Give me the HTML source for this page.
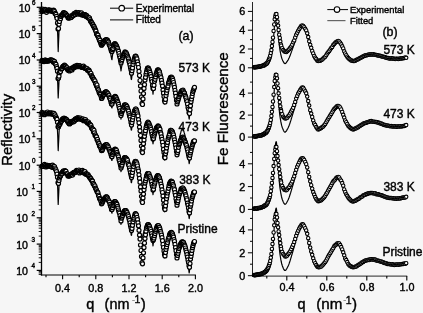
<!DOCTYPE html>
<html><head><meta charset="utf-8"><title>Reflectivity and Fe Fluorescence</title>
<style>html,body{margin:0;padding:0;background:#f6f6f6;}body{width:423px;height:313px;overflow:hidden;font-family:"Liberation Sans",sans-serif;}svg{display:block;}</style>
</head><body>
<svg width="423" height="313" viewBox="0 0 423 313">
<rect width="423" height="313" fill="#f6f6f6"/>
<style>text{stroke:#000;stroke-width:0.4px}</style>
<defs><filter id="bl" x="0" y="0" width="100%" height="100%" filterUnits="userSpaceOnUse"><feGaussianBlur stdDeviation="0.3"/></filter></defs>
<g id="all" filter="url(#bl)">
<polyline points="41.5,10.5 41.8,10.5 42.0,10.5 42.2,10.5 42.5,10.5 42.8,10.5 43.0,10.5 43.2,10.5 43.5,10.5 43.8,10.5 44.0,10.5 44.2,10.5 44.5,10.5 44.8,10.5 45.0,10.5 45.2,10.5 45.5,10.5 45.8,10.5 46.0,10.5 46.2,10.5 46.5,10.5 46.8,10.5 47.0,10.5 47.2,10.5 47.5,10.5 47.8,10.5 48.0,10.5 48.2,10.5 48.5,10.5 48.8,10.5 49.0,10.5 49.2,10.5 49.5,10.5 49.8,10.5 50.0,10.5 50.2,10.5 50.5,10.5 50.8,10.5 51.0,10.5 51.2,10.5 51.5,10.5 51.8,10.5 52.0,10.5 52.2,10.5 52.5,10.5 52.8,10.5 53.0,10.5 53.2,10.5 53.5,10.5 53.8,10.5 54.0,10.5 54.2,10.6 54.5,10.8 54.8,11.2 55.0,11.7 55.2,12.2 55.5,12.9 55.8,13.5 56.0,14.2 56.2,14.9 56.5,15.5 56.8,16.4 57.0,19.3 57.2,23.9 57.5,29.9 57.8,37.2 58.0,45.7 58.2,51.6 58.5,43.6 58.8,36.6 59.0,30.6 59.2,25.9 59.5,22.4 59.8,20.6 60.0,19.9 60.2,19.2 60.5,18.5 60.8,17.9 61.0,17.3 61.2,16.7 61.5,16.2 61.8,15.7 62.0,15.3 62.2,14.8 62.5,14.5 62.8,14.1 63.0,13.9 63.2,13.6 63.5,13.4 63.8,13.2 64.0,13.1 64.2,13.0 64.5,12.9 64.8,12.9 65.0,12.9 65.2,13.0 65.5,13.3 65.8,13.6 66.0,14.0 66.2,14.4 66.5,14.8 66.8,15.3 67.0,15.7 67.2,16.2 67.5,16.6 67.8,17.0 68.0,17.4 68.2,17.6 68.5,17.8 68.8,17.9 69.0,17.9 69.2,17.8 69.5,17.8 69.8,17.7 70.0,17.6 70.2,17.5 70.5,17.4 70.8,17.3 71.0,17.1 71.2,17.0 71.5,16.8 71.8,16.6 72.0,16.4 72.2,16.2 72.5,16.0 72.8,15.8 73.0,15.6 73.2,15.4 73.5,15.2 73.8,15.0 74.0,14.8 74.2,14.6 74.5,14.4 74.8,14.3 75.0,14.1 75.2,13.9 75.5,13.8 75.8,13.6 76.0,13.5 76.2,13.4 76.5,13.3 76.8,13.2 77.0,13.2 77.2,13.1 77.5,13.1 77.8,13.1 78.0,13.1 78.2,13.2 78.5,13.2 78.8,13.2 79.0,13.3 79.2,13.3 79.5,13.3 79.8,13.4 80.0,13.4 80.2,13.5 80.5,13.6 80.8,13.6 81.0,13.7 81.2,13.8 81.5,13.8 81.8,13.9 82.0,14.0 82.2,14.1 82.5,14.2 82.8,14.3 83.0,14.4 83.2,14.4 83.5,14.5 83.8,14.6 84.0,14.7 84.2,14.8 84.5,14.9 84.8,15.1 85.0,15.2 85.2,15.3 85.5,15.5 85.8,15.7 86.0,15.8 86.2,16.0 86.5,16.2 86.8,16.4 87.0,16.6 87.2,16.7 87.5,16.9 87.8,17.2 88.0,17.4 88.2,17.6 88.5,17.8 88.8,18.1 89.0,18.3 89.2,18.6 89.5,18.9 89.8,19.2 90.0,19.6 90.2,20.0 90.5,20.4 90.8,20.8 91.0,21.3 91.2,21.8 91.5,22.2 91.8,22.7 92.0,23.1 92.2,23.6 92.5,24.0 92.8,24.5 93.0,24.9 93.2,25.4 93.5,25.9 93.8,26.3 94.0,26.8 94.2,27.3 94.5,27.8 94.8,28.3 95.0,28.8 95.2,29.4 95.5,29.9 95.8,30.5 96.0,31.1 96.2,31.7 96.5,32.3 96.8,32.9 97.0,33.5 97.2,34.2 97.5,34.8 97.8,35.5 98.0,36.2 98.2,36.9 98.5,37.6 98.8,38.3 99.0,39.0 99.2,39.8 99.5,40.3 99.8,40.5 100.0,40.9 100.2,41.5 100.5,42.2 100.8,43.1 101.0,44.1 101.2,45.1 101.5,46.3 101.8,46.4 102.0,45.8 102.2,45.2 102.5,44.7 102.8,44.2 103.0,43.7 103.2,43.2 103.5,42.7 103.8,42.3 104.0,41.9 104.2,41.6 104.5,41.2 104.8,40.9 105.0,40.7 105.2,40.4 105.5,40.2 105.8,40.1 106.0,40.0 106.2,40.0 106.5,40.1 106.8,40.3 107.0,40.7 107.2,41.1 107.5,41.6 107.8,42.2 108.0,42.9 108.2,43.6 108.5,44.3 108.8,45.2 109.0,46.1 109.2,47.0 109.5,48.1 109.8,49.1 110.0,50.3 110.2,51.4 110.5,52.7 110.8,53.9 111.0,55.3 111.2,56.7 111.5,58.1 111.8,59.6 112.0,59.6 112.2,57.4 112.5,55.3 112.8,53.4 113.0,51.7 113.2,50.1 113.5,48.6 113.8,47.4 114.0,46.3 114.2,45.4 114.5,44.7 114.8,44.3 115.0,44.2 115.2,44.4 115.5,44.7 115.8,45.1 116.0,45.6 116.2,46.2 116.5,46.9 116.8,47.7 117.0,48.5 117.2,49.5 117.5,50.5 117.8,51.5 118.0,52.7 118.2,53.9 118.5,55.1 118.8,56.4 119.0,57.8 119.2,59.3 119.5,60.8 119.8,62.3 120.0,64.0 120.2,65.6 120.5,67.4 120.8,69.2 121.0,71.0 121.2,69.2 121.5,67.6 121.8,65.9 122.0,64.4 122.2,63.0 122.5,61.6 122.8,60.3 123.0,59.1 123.2,58.0 123.5,57.0 123.8,56.1 124.0,55.2 124.2,54.5 124.5,53.9 124.8,53.4 125.0,53.0 125.2,52.9 125.5,52.9 125.8,53.2 126.0,53.5 126.2,54.0 126.5,54.6 126.8,55.3 127.0,56.0 127.2,56.8 127.5,57.7 127.8,58.7 128.0,59.8 128.2,60.9 128.5,62.1 128.8,63.3 129.0,64.7 129.2,66.0 129.5,67.5 129.8,69.0 130.0,70.6 130.2,72.2 130.5,73.9 130.8,75.7 131.0,77.5 131.2,79.3 131.5,79.5 131.8,77.2 132.0,75.0 132.2,72.9 132.5,70.9 132.8,69.0 133.0,67.2 133.2,65.6 133.5,64.0 133.8,62.6 134.0,61.3 134.2,60.1 134.5,59.0 134.8,58.1 135.0,57.4 135.2,56.8 135.5,56.4 135.8,56.3 136.0,56.5 136.2,56.9 136.5,57.5 136.8,58.3 137.0,59.1 137.2,60.1 137.5,61.2 137.8,62.5 138.0,63.8 138.2,65.2 138.5,66.8 138.8,68.4 139.0,70.2 139.2,72.0 139.5,73.9 139.8,76.0 140.0,78.1 140.2,80.3 140.5,82.6 140.8,84.9 141.0,87.4 141.2,89.9 141.5,92.5 141.8,92.6 142.0,90.9 142.2,89.2 142.5,87.6 142.8,86.0 143.0,84.5 143.2,83.1 143.5,81.7 143.8,80.3 144.0,79.1 144.2,77.8 144.5,76.7 144.8,75.6 145.0,74.5 145.2,73.5 145.5,72.6 145.8,71.8 146.0,71.0 146.2,70.3 146.5,69.7 146.8,69.1 147.0,68.6 147.2,68.3 147.5,68.0 147.8,67.8 148.0,67.9 148.2,68.3 148.5,68.7 148.8,69.3 149.0,70.0 149.2,70.8 149.5,71.8 149.8,72.8 150.0,73.9 150.2,75.2 150.5,76.5 150.8,77.9 151.0,79.4 151.2,80.9 151.5,82.6 151.8,84.3 152.0,86.1 152.2,88.0 152.5,90.0 152.8,92.0 153.0,94.1 153.2,92.1 153.5,90.2 153.8,88.3 154.0,86.5 154.2,84.8 154.5,83.1 154.8,81.6 155.0,80.1 155.2,78.7 155.5,77.4 155.8,76.2 156.0,75.0 156.2,74.0 156.5,73.1 156.8,72.2 157.0,71.5 157.2,70.9 157.5,70.4 157.8,70.1 158.0,69.9 158.2,70.1 158.5,70.4 158.8,70.8 159.0,71.3 159.2,71.9 159.5,72.6 159.8,73.4 160.0,74.3 160.2,75.2 160.5,76.3 160.8,77.4 161.0,78.6 161.2,79.8 161.5,81.2 161.8,82.6 162.0,84.0 162.2,85.6 162.5,87.2 162.8,88.8 163.0,90.5 163.2,92.3 163.5,94.1 163.8,96.0 164.0,98.0 164.2,100.0 164.5,102.1 164.8,104.2 165.0,103.2 165.2,101.5 165.5,99.8 165.8,98.2 166.0,96.6 166.2,95.0 166.5,93.5 166.8,92.1 167.0,90.7 167.2,89.4 167.5,88.1 167.8,86.9 168.0,85.8 168.2,84.7 168.5,83.6 168.8,82.7 169.0,81.8 169.2,80.9 169.5,80.2 169.8,79.5 170.0,78.8 170.2,78.3 170.5,77.8 170.8,77.5 171.0,77.2 171.2,77.1 171.5,77.1 171.8,77.4 172.0,77.8 172.2,78.4 172.5,79.0 172.8,79.8 173.0,80.6 173.2,81.6 173.5,82.6 173.8,83.7 174.0,84.9 174.2,86.2 174.5,87.6 174.8,89.0 175.0,90.5 175.2,92.1 175.5,93.8 175.8,95.5 176.0,97.3 176.2,99.2 176.5,101.1 176.8,103.1 177.0,105.2 177.2,104.0 177.5,102.9 177.8,101.9 178.0,100.9 178.2,99.9 178.5,98.9 178.8,98.0 179.0,97.2 179.2,96.3 179.5,95.6 179.8,94.8 180.0,94.2 180.2,93.5 180.5,93.0 180.8,92.4 181.0,91.9 181.2,91.5 181.5,91.2 181.8,90.9 182.0,90.6 182.2,90.5 182.5,90.5 182.8,90.6 183.0,90.9 183.2,91.3 183.5,91.8 183.8,92.3 184.0,93.0 184.2,93.7 184.5,94.4 184.8,95.3 185.0,96.2 185.2,97.1 185.5,98.1 185.8,99.2 186.0,100.4 186.2,101.6 186.5,102.8 186.8,104.1 187.0,105.5 187.2,106.9 187.5,108.4 187.8,109.9 188.0,111.4 188.2,113.1 188.5,114.7 188.8,116.4 189.0,118.2 189.2,119.2 189.5,116.8 189.8,114.5 190.0,112.3 190.2,110.1 190.5,108.0 190.8,106.1 191.0,104.2 191.2,102.3 191.5,100.6 191.8,99.0 192.0,97.4 192.2,96.0 192.5,94.6 192.8,93.4 193.0,92.2 193.2,91.2 193.5,90.2 193.8,89.4 194.0,88.7 194.2,88.2 194.5,87.8 194.8,87.6" fill="none" stroke="#000" stroke-width="1.20" stroke-linejoin="round"/>
<g fill="#ffffff" stroke="#000" stroke-width="1.20"><circle cx="42.0" cy="11.6" r="2.00"/><circle cx="42.5" cy="9.1" r="2.00"/><circle cx="43.0" cy="10.7" r="2.00"/><circle cx="43.5" cy="10.2" r="2.00"/><circle cx="44.0" cy="10.3" r="2.00"/><circle cx="44.5" cy="10.4" r="2.00"/><circle cx="45.0" cy="9.4" r="2.00"/><circle cx="45.5" cy="10.4" r="2.00"/><circle cx="46.0" cy="10.0" r="2.00"/><circle cx="46.5" cy="12.3" r="2.00"/><circle cx="47.0" cy="10.6" r="2.00"/><circle cx="47.5" cy="10.3" r="2.00"/><circle cx="48.0" cy="10.4" r="2.00"/><circle cx="48.5" cy="10.1" r="2.00"/><circle cx="49.0" cy="9.9" r="2.00"/><circle cx="49.5" cy="10.3" r="2.00"/><circle cx="50.0" cy="10.8" r="2.00"/><circle cx="50.5" cy="10.4" r="2.00"/><circle cx="51.0" cy="11.0" r="2.00"/><circle cx="51.5" cy="10.4" r="2.00"/><circle cx="52.0" cy="10.5" r="2.00"/><circle cx="52.5" cy="11.4" r="2.00"/><circle cx="53.0" cy="10.8" r="2.00"/><circle cx="53.5" cy="10.2" r="2.00"/><circle cx="54.0" cy="10.7" r="2.00"/><circle cx="54.5" cy="11.7" r="2.00"/><circle cx="55.0" cy="13.5" r="2.00"/><circle cx="55.5" cy="13.3" r="2.00"/><circle cx="56.0" cy="14.3" r="2.00"/><circle cx="56.5" cy="16.3" r="2.00"/><circle cx="57.0" cy="18.3" r="2.00"/><circle cx="57.5" cy="22.9" r="2.00"/><circle cx="58.0" cy="29.0" r="2.00"/><circle cx="58.5" cy="28.6" r="2.00"/><circle cx="59.0" cy="24.3" r="2.00"/><circle cx="59.5" cy="21.5" r="2.00"/><circle cx="60.0" cy="17.5" r="2.00"/><circle cx="60.5" cy="18.7" r="2.00"/><circle cx="61.0" cy="16.4" r="2.00"/><circle cx="61.5" cy="15.0" r="2.00"/><circle cx="62.0" cy="15.2" r="2.00"/><circle cx="62.5" cy="14.7" r="2.00"/><circle cx="63.0" cy="13.5" r="2.00"/><circle cx="63.5" cy="12.7" r="2.00"/><circle cx="64.0" cy="13.1" r="2.00"/><circle cx="64.5" cy="12.9" r="2.00"/><circle cx="65.0" cy="13.7" r="2.00"/><circle cx="65.5" cy="13.7" r="2.00"/><circle cx="66.0" cy="14.1" r="2.00"/><circle cx="66.5" cy="15.4" r="2.00"/><circle cx="67.0" cy="15.6" r="2.00"/><circle cx="67.5" cy="16.1" r="2.00"/><circle cx="68.0" cy="17.7" r="2.00"/><circle cx="68.5" cy="18.1" r="2.00"/><circle cx="69.0" cy="17.7" r="2.00"/><circle cx="69.5" cy="17.4" r="2.00"/><circle cx="70.0" cy="17.8" r="2.00"/><circle cx="70.5" cy="16.0" r="2.00"/><circle cx="71.0" cy="17.5" r="2.00"/><circle cx="71.5" cy="17.1" r="2.00"/><circle cx="72.0" cy="15.5" r="2.00"/><circle cx="72.5" cy="16.1" r="2.00"/><circle cx="73.0" cy="15.1" r="2.00"/><circle cx="73.5" cy="15.6" r="2.00"/><circle cx="74.0" cy="13.7" r="2.00"/><circle cx="74.5" cy="13.9" r="2.00"/><circle cx="75.0" cy="14.5" r="2.00"/><circle cx="75.5" cy="14.4" r="2.00"/><circle cx="76.0" cy="12.3" r="2.00"/><circle cx="76.5" cy="13.0" r="2.00"/><circle cx="77.0" cy="13.4" r="2.00"/><circle cx="77.5" cy="12.8" r="2.00"/><circle cx="78.0" cy="14.0" r="2.00"/><circle cx="78.5" cy="12.5" r="2.00"/><circle cx="79.0" cy="13.4" r="2.00"/><circle cx="79.5" cy="12.8" r="2.00"/><circle cx="80.0" cy="14.2" r="2.00"/><circle cx="80.5" cy="13.5" r="2.00"/><circle cx="81.0" cy="13.5" r="2.00"/><circle cx="81.5" cy="12.9" r="2.00"/><circle cx="82.0" cy="14.9" r="2.00"/><circle cx="82.5" cy="14.6" r="2.00"/><circle cx="83.0" cy="14.8" r="2.00"/><circle cx="83.5" cy="15.2" r="2.00"/><circle cx="84.0" cy="14.9" r="2.00"/><circle cx="84.5" cy="14.6" r="2.00"/><circle cx="85.0" cy="14.7" r="2.00"/><circle cx="85.5" cy="15.1" r="2.00"/><circle cx="86.0" cy="16.6" r="2.00"/><circle cx="86.5" cy="15.4" r="2.00"/><circle cx="87.0" cy="16.2" r="2.00"/><circle cx="87.5" cy="16.8" r="2.00"/><circle cx="88.0" cy="17.5" r="2.00"/><circle cx="88.5" cy="18.1" r="2.00"/><circle cx="89.0" cy="17.7" r="2.00"/><circle cx="89.5" cy="18.0" r="2.00"/><circle cx="90.0" cy="19.6" r="2.00"/><circle cx="90.5" cy="21.1" r="2.00"/><circle cx="91.0" cy="21.7" r="2.00"/><circle cx="91.5" cy="22.3" r="2.00"/><circle cx="92.0" cy="23.0" r="2.00"/><circle cx="92.5" cy="24.2" r="2.00"/><circle cx="93.0" cy="24.8" r="2.00"/><circle cx="93.5" cy="26.3" r="2.00"/><circle cx="94.0" cy="26.4" r="2.00"/><circle cx="94.5" cy="27.9" r="2.00"/><circle cx="95.0" cy="28.8" r="2.00"/><circle cx="95.5" cy="30.2" r="2.00"/><circle cx="96.0" cy="31.2" r="2.00"/><circle cx="96.5" cy="33.7" r="2.00"/><circle cx="97.0" cy="34.4" r="2.00"/><circle cx="97.5" cy="35.7" r="2.00"/><circle cx="98.0" cy="35.1" r="2.00"/><circle cx="98.5" cy="37.4" r="2.00"/><circle cx="99.0" cy="38.7" r="2.00"/><circle cx="99.5" cy="40.5" r="2.00"/><circle cx="100.0" cy="40.2" r="2.00"/><circle cx="100.5" cy="42.4" r="2.00"/><circle cx="101.0" cy="43.9" r="2.00"/><circle cx="101.5" cy="45.2" r="2.00"/><circle cx="102.0" cy="44.8" r="2.00"/><circle cx="102.5" cy="43.7" r="2.00"/><circle cx="103.0" cy="43.0" r="2.00"/><circle cx="103.5" cy="42.3" r="2.00"/><circle cx="104.0" cy="41.9" r="2.00"/><circle cx="104.5" cy="40.6" r="2.00"/><circle cx="105.0" cy="40.3" r="2.00"/><circle cx="105.5" cy="39.8" r="2.00"/><circle cx="106.0" cy="40.0" r="2.00"/><circle cx="106.5" cy="39.7" r="2.00"/><circle cx="107.0" cy="40.3" r="2.00"/><circle cx="107.5" cy="40.2" r="2.00"/><circle cx="108.0" cy="41.3" r="2.00"/><circle cx="108.5" cy="42.1" r="2.00"/><circle cx="109.0" cy="43.9" r="2.00"/><circle cx="109.5" cy="45.0" r="2.00"/><circle cx="110.0" cy="46.1" r="2.00"/><circle cx="110.5" cy="47.7" r="2.00"/><circle cx="111.0" cy="49.7" r="2.00"/><circle cx="111.5" cy="51.2" r="2.00"/><circle cx="112.0" cy="51.4" r="2.00"/><circle cx="112.5" cy="49.7" r="2.00"/><circle cx="113.0" cy="48.4" r="2.00"/><circle cx="113.5" cy="46.1" r="2.00"/><circle cx="114.0" cy="44.8" r="2.00"/><circle cx="114.5" cy="43.8" r="2.00"/><circle cx="115.0" cy="43.5" r="2.00"/><circle cx="115.5" cy="44.4" r="2.00"/><circle cx="116.0" cy="45.2" r="2.00"/><circle cx="116.5" cy="45.9" r="2.00"/><circle cx="117.0" cy="47.1" r="2.00"/><circle cx="117.5" cy="48.4" r="2.00"/><circle cx="118.0" cy="50.0" r="2.00"/><circle cx="118.5" cy="51.3" r="2.00"/><circle cx="119.0" cy="53.5" r="2.00"/><circle cx="119.5" cy="55.8" r="2.00"/><circle cx="120.0" cy="57.8" r="2.00"/><circle cx="120.5" cy="60.4" r="2.00"/><circle cx="121.0" cy="62.9" r="2.00"/><circle cx="121.5" cy="61.0" r="2.00"/><circle cx="122.0" cy="59.5" r="2.00"/><circle cx="122.5" cy="57.4" r="2.00"/><circle cx="123.0" cy="56.0" r="2.00"/><circle cx="123.5" cy="55.0" r="2.00"/><circle cx="124.0" cy="53.9" r="2.00"/><circle cx="124.5" cy="53.4" r="2.00"/><circle cx="125.0" cy="51.8" r="2.00"/><circle cx="125.5" cy="52.6" r="2.00"/><circle cx="126.0" cy="52.7" r="2.00"/><circle cx="126.5" cy="53.6" r="2.00"/><circle cx="127.0" cy="54.8" r="2.00"/><circle cx="127.5" cy="56.1" r="2.00"/><circle cx="128.0" cy="57.6" r="2.00"/><circle cx="128.5" cy="58.9" r="2.00"/><circle cx="129.0" cy="61.2" r="2.00"/><circle cx="129.5" cy="62.7" r="2.00"/><circle cx="130.0" cy="64.9" r="2.00"/><circle cx="130.5" cy="67.6" r="2.00"/><circle cx="131.0" cy="69.7" r="2.00"/><circle cx="131.5" cy="73.2" r="2.00"/><circle cx="132.0" cy="70.7" r="2.00"/><circle cx="132.5" cy="67.9" r="2.00"/><circle cx="133.0" cy="64.4" r="2.00"/><circle cx="133.5" cy="61.8" r="2.00"/><circle cx="134.0" cy="59.9" r="2.00"/><circle cx="134.5" cy="58.3" r="2.00"/><circle cx="135.0" cy="56.7" r="2.00"/><circle cx="135.5" cy="56.2" r="2.00"/><circle cx="136.0" cy="56.3" r="2.00"/><circle cx="136.5" cy="57.9" r="2.00"/><circle cx="137.0" cy="59.0" r="2.00"/><circle cx="137.5" cy="61.9" r="2.00"/><circle cx="138.0" cy="64.3" r="2.00"/><circle cx="138.5" cy="67.5" r="2.00"/><circle cx="139.0" cy="71.4" r="2.00"/><circle cx="139.5" cy="75.5" r="2.00"/><circle cx="140.0" cy="80.5" r="2.00"/><circle cx="140.5" cy="85.9" r="2.00"/><circle cx="141.0" cy="91.0" r="2.00"/><circle cx="141.5" cy="96.9" r="2.00"/><circle cx="142.0" cy="103.4" r="2.00"/><circle cx="142.5" cy="104.5" r="2.00"/><circle cx="143.0" cy="98.9" r="2.00"/><circle cx="143.5" cy="93.6" r="2.00"/><circle cx="144.0" cy="88.4" r="2.00"/><circle cx="144.5" cy="84.7" r="2.00"/><circle cx="145.0" cy="80.0" r="2.00"/><circle cx="145.5" cy="77.3" r="2.00"/><circle cx="146.0" cy="74.0" r="2.00"/><circle cx="146.5" cy="71.9" r="2.00"/><circle cx="147.0" cy="69.6" r="2.00"/><circle cx="147.5" cy="68.0" r="2.00"/><circle cx="148.0" cy="68.0" r="2.00"/><circle cx="148.5" cy="68.2" r="2.00"/><circle cx="149.0" cy="69.3" r="2.00"/><circle cx="149.5" cy="70.8" r="2.00"/><circle cx="150.0" cy="72.4" r="2.00"/><circle cx="150.5" cy="74.4" r="2.00"/><circle cx="151.0" cy="76.6" r="2.00"/><circle cx="151.5" cy="79.4" r="2.00"/><circle cx="152.0" cy="81.6" r="2.00"/><circle cx="152.5" cy="85.4" r="2.00"/><circle cx="153.0" cy="88.4" r="2.00"/><circle cx="153.5" cy="88.5" r="2.00"/><circle cx="154.0" cy="85.3" r="2.00"/><circle cx="154.5" cy="81.3" r="2.00"/><circle cx="155.0" cy="79.3" r="2.00"/><circle cx="155.5" cy="76.8" r="2.00"/><circle cx="156.0" cy="74.4" r="2.00"/><circle cx="156.5" cy="73.1" r="2.00"/><circle cx="157.0" cy="71.4" r="2.00"/><circle cx="157.5" cy="70.0" r="2.00"/><circle cx="158.0" cy="69.9" r="2.00"/><circle cx="158.5" cy="70.2" r="2.00"/><circle cx="159.0" cy="71.1" r="2.00"/><circle cx="159.5" cy="71.9" r="2.00"/><circle cx="160.0" cy="74.0" r="2.00"/><circle cx="160.5" cy="76.0" r="2.00"/><circle cx="161.0" cy="77.6" r="2.00"/><circle cx="161.5" cy="80.3" r="2.00"/><circle cx="162.0" cy="83.2" r="2.00"/><circle cx="162.5" cy="86.1" r="2.00"/><circle cx="163.0" cy="90.1" r="2.00"/><circle cx="163.5" cy="93.2" r="2.00"/><circle cx="164.0" cy="96.5" r="2.00"/><circle cx="164.5" cy="100.6" r="2.00"/><circle cx="165.0" cy="102.0" r="2.00"/><circle cx="165.5" cy="99.4" r="2.00"/><circle cx="166.0" cy="95.6" r="2.00"/><circle cx="166.5" cy="92.8" r="2.00"/><circle cx="167.0" cy="90.2" r="2.00"/><circle cx="167.5" cy="87.6" r="2.00"/><circle cx="168.0" cy="86.0" r="2.00"/><circle cx="168.5" cy="83.2" r="2.00"/><circle cx="169.0" cy="81.8" r="2.00"/><circle cx="169.5" cy="80.1" r="2.00"/><circle cx="170.0" cy="78.9" r="2.00"/><circle cx="170.5" cy="77.4" r="2.00"/><circle cx="171.0" cy="77.7" r="2.00"/><circle cx="171.5" cy="77.1" r="2.00"/><circle cx="172.0" cy="77.8" r="2.00"/><circle cx="172.5" cy="78.7" r="2.00"/><circle cx="173.0" cy="80.3" r="2.00"/><circle cx="173.5" cy="82.5" r="2.00"/><circle cx="174.0" cy="84.9" r="2.00"/><circle cx="174.5" cy="87.3" r="2.00"/><circle cx="175.0" cy="90.3" r="2.00"/><circle cx="175.5" cy="93.2" r="2.00"/><circle cx="176.0" cy="96.4" r="2.00"/><circle cx="176.5" cy="100.2" r="2.00"/><circle cx="177.0" cy="104.0" r="2.00"/><circle cx="177.5" cy="101.8" r="2.00"/><circle cx="178.0" cy="100.2" r="2.00"/><circle cx="178.5" cy="98.6" r="2.00"/><circle cx="179.0" cy="96.7" r="2.00"/><circle cx="179.5" cy="95.1" r="2.00"/><circle cx="180.0" cy="94.2" r="2.00"/><circle cx="180.5" cy="93.4" r="2.00"/><circle cx="181.0" cy="91.9" r="2.00"/><circle cx="181.5" cy="91.2" r="2.00"/><circle cx="182.0" cy="90.6" r="2.00"/><circle cx="182.5" cy="90.8" r="2.00"/><circle cx="183.0" cy="90.2" r="2.00"/><circle cx="183.5" cy="91.5" r="2.00"/><circle cx="184.0" cy="92.6" r="2.00"/><circle cx="184.5" cy="93.1" r="2.00"/><circle cx="185.0" cy="95.2" r="2.00"/><circle cx="185.5" cy="96.4" r="2.00"/><circle cx="186.0" cy="97.8" r="2.00"/><circle cx="186.5" cy="100.0" r="2.00"/><circle cx="187.0" cy="101.6" r="2.00"/><circle cx="187.5" cy="104.1" r="2.00"/><circle cx="188.0" cy="107.3" r="2.00"/><circle cx="188.5" cy="109.1" r="2.00"/><circle cx="189.0" cy="112.6" r="2.00"/><circle cx="189.5" cy="113.5" r="2.00"/><circle cx="190.0" cy="109.8" r="2.00"/><circle cx="190.5" cy="105.8" r="2.00"/><circle cx="191.0" cy="101.7" r="2.00"/><circle cx="191.5" cy="99.0" r="2.00"/><circle cx="192.0" cy="96.4" r="2.00"/><circle cx="192.5" cy="93.5" r="2.00"/><circle cx="193.0" cy="91.3" r="2.00"/><circle cx="193.5" cy="90.1" r="2.00"/><circle cx="194.0" cy="88.4" r="2.00"/><circle cx="194.5" cy="87.3" r="2.00"/></g>
<polyline points="41.5,60.7 41.8,60.7 42.0,60.7 42.2,60.7 42.5,60.7 42.8,60.7 43.0,60.7 43.2,60.7 43.5,60.7 43.8,60.7 44.0,60.7 44.2,60.7 44.5,60.7 44.8,60.7 45.0,60.7 45.2,60.7 45.5,60.7 45.8,60.7 46.0,60.7 46.2,60.7 46.5,60.7 46.8,60.7 47.0,60.7 47.2,60.7 47.5,60.7 47.8,60.7 48.0,60.7 48.2,60.7 48.5,60.7 48.8,60.7 49.0,60.7 49.2,60.7 49.5,60.7 49.8,60.7 50.0,60.7 50.2,60.7 50.5,60.7 50.8,60.7 51.0,60.7 51.2,60.7 51.5,60.7 51.8,60.7 52.0,60.7 52.2,60.7 52.5,60.7 52.8,60.7 53.0,60.7 53.2,60.7 53.5,60.7 53.8,60.7 54.0,60.7 54.2,60.8 54.5,61.1 54.8,61.4 55.0,61.9 55.2,62.5 55.5,63.1 55.8,63.8 56.0,64.4 56.2,65.1 56.5,65.8 56.8,66.6 57.0,69.2 57.2,73.2 57.5,78.6 57.8,85.1 58.0,92.6 58.2,98.0 58.5,91.6 58.8,86.0 59.0,81.2 59.2,77.4 59.5,74.6 59.8,73.2 60.0,72.5 60.2,71.8 60.5,71.1 60.8,70.5 61.0,69.9 61.2,69.3 61.5,68.8 61.8,68.3 62.0,67.9 62.2,67.4 62.5,67.1 62.8,66.7 63.0,66.5 63.2,66.2 63.5,66.0 63.8,65.8 64.0,65.7 64.2,65.6 64.5,65.5 64.8,65.5 65.0,65.5 65.2,65.6 65.5,65.9 65.8,66.2 66.0,66.6 66.2,67.0 66.5,67.4 66.8,67.9 67.0,68.3 67.2,68.8 67.5,69.2 67.8,69.6 68.0,70.0 68.2,70.2 68.5,70.4 68.8,70.5 69.0,70.5 69.2,70.4 69.5,70.4 69.8,70.3 70.0,70.2 70.2,70.1 70.5,70.0 70.8,69.9 71.0,69.7 71.2,69.6 71.5,69.4 71.8,69.2 72.0,69.0 72.2,68.8 72.5,68.6 72.8,68.4 73.0,68.2 73.2,68.0 73.5,67.8 73.8,67.6 74.0,67.4 74.2,67.2 74.5,67.0 74.8,66.9 75.0,66.7 75.2,66.5 75.5,66.4 75.8,66.2 76.0,66.1 76.2,66.0 76.5,65.9 76.8,65.8 77.0,65.8 77.2,65.7 77.5,65.7 77.8,65.7 78.0,65.7 78.2,65.8 78.5,65.8 78.8,65.8 79.0,65.9 79.2,65.9 79.5,65.9 79.8,66.0 80.0,66.0 80.2,66.1 80.5,66.2 80.8,66.2 81.0,66.3 81.2,66.4 81.5,66.4 81.8,66.5 82.0,66.6 82.2,66.7 82.5,66.8 82.8,66.9 83.0,67.0 83.2,67.0 83.5,67.1 83.8,67.2 84.0,67.3 84.2,67.4 84.5,67.5 84.8,67.7 85.0,67.8 85.2,67.9 85.5,68.1 85.8,68.3 86.0,68.4 86.2,68.6 86.5,68.8 86.8,69.0 87.0,69.2 87.2,69.3 87.5,69.5 87.8,69.8 88.0,70.0 88.2,70.2 88.5,70.4 88.8,70.7 89.0,70.9 89.2,71.2 89.5,71.5 89.8,71.8 90.0,72.2 90.2,72.6 90.5,73.0 90.8,73.4 91.0,73.9 91.2,74.4 91.5,74.8 91.8,75.3 92.0,75.7 92.2,76.2 92.5,76.6 92.8,77.1 93.0,77.5 93.2,78.0 93.5,78.5 93.8,78.9 94.0,79.4 94.2,79.9 94.5,80.4 94.8,80.9 95.0,81.4 95.2,82.0 95.5,82.5 95.8,83.1 96.0,83.7 96.2,84.3 96.5,84.9 96.8,85.5 97.0,86.1 97.2,86.8 97.5,87.4 97.8,88.1 98.0,88.8 98.2,89.5 98.5,90.2 98.8,90.9 99.0,91.6 99.2,92.4 99.5,92.9 99.8,93.1 100.0,93.5 100.2,94.1 100.5,94.8 100.8,95.7 101.0,96.7 101.2,97.7 101.5,98.9 101.8,99.0 102.0,98.4 102.2,97.8 102.5,97.3 102.8,96.8 103.0,96.3 103.2,95.8 103.5,95.3 103.8,94.9 104.0,94.5 104.2,94.2 104.5,93.8 104.8,93.5 105.0,93.3 105.2,93.0 105.5,92.8 105.8,92.7 106.0,92.6 106.2,92.6 106.5,92.7 106.8,92.9 107.0,93.1 107.2,93.5 107.5,93.9 107.8,94.3 108.0,94.8 108.2,95.4 108.5,96.0 108.8,96.6 109.0,97.4 109.2,98.1 109.5,98.9 109.8,99.7 110.0,100.6 110.2,101.5 110.5,102.5 110.8,103.5 111.0,104.5 111.2,105.6 111.5,106.7 111.8,107.9 112.0,107.9 112.2,106.4 112.5,104.9 112.8,103.5 113.0,102.2 113.2,101.1 113.5,100.0 113.8,99.1 114.0,98.3 114.2,97.6 114.5,97.2 114.8,96.8 115.0,96.8 115.2,96.9 115.5,97.2 115.8,97.6 116.0,98.0 116.2,98.5 116.5,99.1 116.8,99.7 117.0,100.4 117.2,101.2 117.5,102.0 117.8,102.9 118.0,103.8 118.2,104.8 118.5,105.9 118.8,107.0 119.0,108.1 119.2,109.4 119.5,110.6 119.8,111.9 120.0,113.3 120.2,114.7 120.5,116.1 120.8,117.6 121.0,119.1 121.2,117.8 121.5,116.5 121.8,115.3 122.0,114.2 122.2,113.1 122.5,112.0 122.8,111.1 123.0,110.2 123.2,109.3 123.5,108.6 123.8,107.9 124.0,107.2 124.2,106.7 124.5,106.2 124.8,105.9 125.0,105.6 125.2,105.5 125.5,105.5 125.8,105.8 126.0,106.1 126.2,106.5 126.5,107.1 126.8,107.7 127.0,108.4 127.2,109.1 127.5,110.0 127.8,110.9 128.0,111.8 128.2,112.9 128.5,114.0 128.8,115.1 129.0,116.4 129.2,117.6 129.5,119.0 129.8,120.4 130.0,121.8 130.2,123.3 130.5,124.9 130.8,126.5 131.0,128.2 131.2,129.9 131.5,130.1 131.8,128.0 132.0,126.0 132.2,124.1 132.5,122.2 132.8,120.5 133.0,118.9 133.2,117.4 133.5,115.9 133.8,114.6 134.0,113.4 134.2,112.3 134.5,111.4 134.8,110.6 135.0,109.9 135.2,109.3 135.5,109.0 135.8,108.9 136.0,109.1 136.2,109.4 136.5,110.0 136.8,110.6 137.0,111.4 137.2,112.2 137.5,113.2 137.8,114.3 138.0,115.4 138.2,116.7 138.5,118.1 138.8,119.5 139.0,121.0 139.2,122.6 139.5,124.3 139.8,126.1 140.0,127.9 140.2,129.8 140.5,131.8 140.8,133.9 141.0,136.0 141.2,138.3 141.5,140.5 141.8,140.7 142.0,139.5 142.2,138.2 142.5,137.0 142.8,135.9 143.0,134.8 143.2,133.7 143.5,132.7 143.8,131.7 144.0,130.8 144.2,129.9 144.5,129.0 144.8,128.2 145.0,127.4 145.2,126.7 145.5,126.1 145.8,125.4 146.0,124.9 146.2,124.3 146.5,123.9 146.8,123.5 147.0,123.1 147.2,122.9 147.5,122.7 147.8,122.5 148.0,122.6 148.2,122.9 148.5,123.2 148.8,123.7 149.0,124.3 149.2,125.0 149.5,125.7 149.8,126.6 150.0,127.5 150.2,128.5 150.5,129.5 150.8,130.7 151.0,131.9 151.2,133.1 151.5,134.5 151.8,135.9 152.0,137.4 152.2,138.9 152.5,140.5 152.8,142.1 153.0,143.8 153.2,142.4 153.5,140.9 153.8,139.5 154.0,138.2 154.2,136.9 154.5,135.7 154.8,134.6 155.0,133.5 155.2,132.4 155.5,131.5 155.8,130.6 156.0,129.7 156.2,129.0 156.5,128.3 156.8,127.7 157.0,127.1 157.2,126.7 157.5,126.3 157.8,126.1 158.0,126.0 158.2,126.1 158.5,126.4 158.8,126.8 159.0,127.3 159.2,127.9 159.5,128.6 159.8,129.4 160.0,130.3 160.2,131.3 160.5,132.3 160.8,133.4 161.0,134.6 161.2,135.9 161.5,137.2 161.8,138.6 162.0,140.0 162.2,141.6 162.5,143.2 162.8,144.8 163.0,146.5 163.2,148.3 163.5,150.2 163.8,152.1 164.0,154.0 164.2,156.0 164.5,158.1 164.8,160.2 165.0,159.1 165.2,157.2 165.5,155.4 165.8,153.6 166.0,151.8 166.2,150.1 166.5,148.5 166.8,146.9 167.0,145.4 167.2,144.0 167.5,142.6 167.8,141.3 168.0,140.0 168.2,138.8 168.5,137.7 168.8,136.6 169.0,135.6 169.2,134.7 169.5,133.8 169.8,133.1 170.0,132.4 170.2,131.8 170.5,131.3 170.8,130.9 171.0,130.6 171.2,130.4 171.5,130.5 171.8,130.8 172.0,131.2 172.2,131.7 172.5,132.3 172.8,132.9 173.0,133.7 173.2,134.6 173.5,135.5 173.8,136.6 174.0,137.7 174.2,138.8 174.5,140.1 174.8,141.4 175.0,142.8 175.2,144.3 175.5,145.8 175.8,147.4 176.0,149.0 176.2,150.7 176.5,152.5 176.8,154.3 177.0,156.2 177.2,154.1 177.5,152.0 177.8,150.1 178.0,148.2 178.2,146.3 178.5,144.6 178.8,142.9 179.0,141.3 179.2,139.8 179.5,138.4 179.8,137.0 180.0,135.7 180.2,134.6 180.5,133.5 180.8,132.5 181.0,131.6 181.2,130.8 181.5,130.2 181.8,129.6 182.0,129.2 182.2,128.9 182.5,128.9 182.8,129.1 183.0,129.4 183.2,129.9 183.5,130.4 183.8,131.1 184.0,131.9 184.2,132.7 184.5,133.6 184.8,134.6 185.0,135.7 185.2,136.9 185.5,138.1 185.8,139.4 186.0,140.8 186.2,142.3 186.5,143.8 186.8,145.3 187.0,147.0 187.2,148.7 187.5,150.5 187.8,152.3 188.0,154.2 188.2,156.1 188.5,158.2 188.8,160.2 189.0,162.4 189.2,163.7 189.5,162.0 189.8,160.3 190.0,158.6 190.2,157.1 190.5,155.5 190.8,154.1 191.0,152.7 191.2,151.3 191.5,150.1 191.8,148.9 192.0,147.7 192.2,146.6 192.5,145.6 192.8,144.7 193.0,143.9 193.2,143.1 193.5,142.4 193.8,141.8 194.0,141.3 194.2,140.9 194.5,140.6 194.8,140.4" fill="none" stroke="#000" stroke-width="1.20" stroke-linejoin="round"/>
<g fill="#ffffff" stroke="#000" stroke-width="1.20"><circle cx="42.0" cy="60.4" r="2.00"/><circle cx="42.5" cy="61.2" r="2.00"/><circle cx="43.0" cy="60.5" r="2.00"/><circle cx="43.5" cy="61.3" r="2.00"/><circle cx="44.0" cy="61.6" r="2.00"/><circle cx="44.5" cy="60.8" r="2.00"/><circle cx="45.0" cy="60.1" r="2.00"/><circle cx="45.5" cy="60.0" r="2.00"/><circle cx="46.0" cy="60.7" r="2.00"/><circle cx="46.5" cy="61.2" r="2.00"/><circle cx="47.0" cy="60.9" r="2.00"/><circle cx="47.5" cy="61.0" r="2.00"/><circle cx="48.0" cy="60.5" r="2.00"/><circle cx="48.5" cy="60.9" r="2.00"/><circle cx="49.0" cy="60.5" r="2.00"/><circle cx="49.5" cy="60.6" r="2.00"/><circle cx="50.0" cy="60.0" r="2.00"/><circle cx="50.5" cy="59.9" r="2.00"/><circle cx="51.0" cy="60.5" r="2.00"/><circle cx="51.5" cy="60.1" r="2.00"/><circle cx="52.0" cy="60.2" r="2.00"/><circle cx="52.5" cy="61.1" r="2.00"/><circle cx="53.0" cy="60.7" r="2.00"/><circle cx="53.5" cy="62.3" r="2.00"/><circle cx="54.0" cy="61.5" r="2.00"/><circle cx="54.5" cy="61.3" r="2.00"/><circle cx="55.0" cy="63.1" r="2.00"/><circle cx="55.5" cy="63.9" r="2.00"/><circle cx="56.0" cy="64.3" r="2.00"/><circle cx="56.5" cy="66.6" r="2.00"/><circle cx="57.0" cy="68.4" r="2.00"/><circle cx="57.5" cy="71.2" r="2.00"/><circle cx="58.0" cy="78.5" r="2.00"/><circle cx="58.5" cy="78.0" r="2.00"/><circle cx="59.0" cy="76.2" r="2.00"/><circle cx="59.5" cy="72.7" r="2.00"/><circle cx="60.0" cy="70.9" r="2.00"/><circle cx="60.5" cy="71.6" r="2.00"/><circle cx="61.0" cy="69.0" r="2.00"/><circle cx="61.5" cy="68.7" r="2.00"/><circle cx="62.0" cy="68.5" r="2.00"/><circle cx="62.5" cy="67.0" r="2.00"/><circle cx="63.0" cy="66.3" r="2.00"/><circle cx="63.5" cy="66.0" r="2.00"/><circle cx="64.0" cy="66.1" r="2.00"/><circle cx="64.5" cy="65.1" r="2.00"/><circle cx="65.0" cy="65.8" r="2.00"/><circle cx="65.5" cy="66.2" r="2.00"/><circle cx="66.0" cy="67.8" r="2.00"/><circle cx="66.5" cy="67.2" r="2.00"/><circle cx="67.0" cy="67.8" r="2.00"/><circle cx="67.5" cy="69.6" r="2.00"/><circle cx="68.0" cy="69.7" r="2.00"/><circle cx="68.5" cy="70.5" r="2.00"/><circle cx="69.0" cy="70.5" r="2.00"/><circle cx="69.5" cy="71.0" r="2.00"/><circle cx="70.0" cy="69.9" r="2.00"/><circle cx="70.5" cy="69.9" r="2.00"/><circle cx="71.0" cy="68.3" r="2.00"/><circle cx="71.5" cy="68.9" r="2.00"/><circle cx="72.0" cy="69.9" r="2.00"/><circle cx="72.5" cy="68.3" r="2.00"/><circle cx="73.0" cy="67.8" r="2.00"/><circle cx="73.5" cy="67.1" r="2.00"/><circle cx="74.0" cy="67.7" r="2.00"/><circle cx="74.5" cy="67.1" r="2.00"/><circle cx="75.0" cy="66.0" r="2.00"/><circle cx="75.5" cy="66.7" r="2.00"/><circle cx="76.0" cy="66.3" r="2.00"/><circle cx="76.5" cy="66.3" r="2.00"/><circle cx="77.0" cy="65.4" r="2.00"/><circle cx="77.5" cy="66.7" r="2.00"/><circle cx="78.0" cy="66.0" r="2.00"/><circle cx="78.5" cy="65.7" r="2.00"/><circle cx="79.0" cy="65.6" r="2.00"/><circle cx="79.5" cy="65.8" r="2.00"/><circle cx="80.0" cy="66.5" r="2.00"/><circle cx="80.5" cy="66.0" r="2.00"/><circle cx="81.0" cy="66.9" r="2.00"/><circle cx="81.5" cy="66.8" r="2.00"/><circle cx="82.0" cy="67.3" r="2.00"/><circle cx="82.5" cy="67.2" r="2.00"/><circle cx="83.0" cy="66.9" r="2.00"/><circle cx="83.5" cy="66.1" r="2.00"/><circle cx="84.0" cy="67.5" r="2.00"/><circle cx="84.5" cy="68.0" r="2.00"/><circle cx="85.0" cy="67.9" r="2.00"/><circle cx="85.5" cy="68.4" r="2.00"/><circle cx="86.0" cy="68.2" r="2.00"/><circle cx="86.5" cy="68.6" r="2.00"/><circle cx="87.0" cy="68.6" r="2.00"/><circle cx="87.5" cy="70.3" r="2.00"/><circle cx="88.0" cy="70.1" r="2.00"/><circle cx="88.5" cy="70.2" r="2.00"/><circle cx="89.0" cy="70.2" r="2.00"/><circle cx="89.5" cy="71.4" r="2.00"/><circle cx="90.0" cy="73.0" r="2.00"/><circle cx="90.5" cy="73.3" r="2.00"/><circle cx="91.0" cy="73.5" r="2.00"/><circle cx="91.5" cy="75.6" r="2.00"/><circle cx="92.0" cy="76.5" r="2.00"/><circle cx="92.5" cy="77.2" r="2.00"/><circle cx="93.0" cy="78.0" r="2.00"/><circle cx="93.5" cy="79.1" r="2.00"/><circle cx="94.0" cy="79.7" r="2.00"/><circle cx="94.5" cy="80.8" r="2.00"/><circle cx="95.0" cy="81.0" r="2.00"/><circle cx="95.5" cy="83.4" r="2.00"/><circle cx="96.0" cy="83.8" r="2.00"/><circle cx="96.5" cy="86.0" r="2.00"/><circle cx="97.0" cy="85.0" r="2.00"/><circle cx="97.5" cy="87.8" r="2.00"/><circle cx="98.0" cy="89.3" r="2.00"/><circle cx="98.5" cy="90.0" r="2.00"/><circle cx="99.0" cy="91.9" r="2.00"/><circle cx="99.5" cy="93.3" r="2.00"/><circle cx="100.0" cy="93.6" r="2.00"/><circle cx="100.5" cy="94.4" r="2.00"/><circle cx="101.0" cy="96.1" r="2.00"/><circle cx="101.5" cy="98.5" r="2.00"/><circle cx="102.0" cy="98.1" r="2.00"/><circle cx="102.5" cy="96.6" r="2.00"/><circle cx="103.0" cy="95.6" r="2.00"/><circle cx="103.5" cy="94.8" r="2.00"/><circle cx="104.0" cy="94.2" r="2.00"/><circle cx="104.5" cy="92.9" r="2.00"/><circle cx="105.0" cy="92.3" r="2.00"/><circle cx="105.5" cy="92.3" r="2.00"/><circle cx="106.0" cy="91.7" r="2.00"/><circle cx="106.5" cy="92.0" r="2.00"/><circle cx="107.0" cy="92.5" r="2.00"/><circle cx="107.5" cy="93.3" r="2.00"/><circle cx="108.0" cy="93.6" r="2.00"/><circle cx="108.5" cy="95.2" r="2.00"/><circle cx="109.0" cy="95.6" r="2.00"/><circle cx="109.5" cy="97.6" r="2.00"/><circle cx="110.0" cy="98.4" r="2.00"/><circle cx="110.5" cy="100.0" r="2.00"/><circle cx="111.0" cy="102.3" r="2.00"/><circle cx="111.5" cy="103.9" r="2.00"/><circle cx="112.0" cy="104.0" r="2.00"/><circle cx="112.5" cy="102.0" r="2.00"/><circle cx="113.0" cy="100.4" r="2.00"/><circle cx="113.5" cy="98.7" r="2.00"/><circle cx="114.0" cy="97.6" r="2.00"/><circle cx="114.5" cy="97.1" r="2.00"/><circle cx="115.0" cy="96.3" r="2.00"/><circle cx="115.5" cy="96.7" r="2.00"/><circle cx="116.0" cy="97.4" r="2.00"/><circle cx="116.5" cy="98.8" r="2.00"/><circle cx="117.0" cy="99.9" r="2.00"/><circle cx="117.5" cy="101.4" r="2.00"/><circle cx="118.0" cy="102.6" r="2.00"/><circle cx="118.5" cy="104.3" r="2.00"/><circle cx="119.0" cy="106.5" r="2.00"/><circle cx="119.5" cy="108.3" r="2.00"/><circle cx="120.0" cy="110.9" r="2.00"/><circle cx="120.5" cy="113.3" r="2.00"/><circle cx="121.0" cy="115.5" r="2.00"/><circle cx="121.5" cy="113.6" r="2.00"/><circle cx="122.0" cy="111.8" r="2.00"/><circle cx="122.5" cy="110.6" r="2.00"/><circle cx="123.0" cy="109.4" r="2.00"/><circle cx="123.5" cy="107.3" r="2.00"/><circle cx="124.0" cy="106.3" r="2.00"/><circle cx="124.5" cy="104.9" r="2.00"/><circle cx="125.0" cy="105.1" r="2.00"/><circle cx="125.5" cy="105.0" r="2.00"/><circle cx="126.0" cy="105.1" r="2.00"/><circle cx="126.5" cy="106.4" r="2.00"/><circle cx="127.0" cy="106.7" r="2.00"/><circle cx="127.5" cy="108.3" r="2.00"/><circle cx="128.0" cy="109.9" r="2.00"/><circle cx="128.5" cy="111.1" r="2.00"/><circle cx="129.0" cy="113.6" r="2.00"/><circle cx="129.5" cy="115.7" r="2.00"/><circle cx="130.0" cy="117.1" r="2.00"/><circle cx="130.5" cy="119.5" r="2.00"/><circle cx="131.0" cy="122.6" r="2.00"/><circle cx="131.5" cy="125.1" r="2.00"/><circle cx="132.0" cy="122.6" r="2.00"/><circle cx="132.5" cy="119.7" r="2.00"/><circle cx="133.0" cy="117.0" r="2.00"/><circle cx="133.5" cy="114.5" r="2.00"/><circle cx="134.0" cy="112.7" r="2.00"/><circle cx="134.5" cy="110.8" r="2.00"/><circle cx="135.0" cy="110.0" r="2.00"/><circle cx="135.5" cy="109.1" r="2.00"/><circle cx="136.0" cy="109.0" r="2.00"/><circle cx="136.5" cy="110.2" r="2.00"/><circle cx="137.0" cy="111.9" r="2.00"/><circle cx="137.5" cy="113.9" r="2.00"/><circle cx="138.0" cy="115.9" r="2.00"/><circle cx="138.5" cy="119.6" r="2.00"/><circle cx="139.0" cy="122.8" r="2.00"/><circle cx="139.5" cy="127.1" r="2.00"/><circle cx="140.0" cy="130.8" r="2.00"/><circle cx="140.5" cy="135.5" r="2.00"/><circle cx="141.0" cy="140.4" r="2.00"/><circle cx="141.5" cy="146.1" r="2.00"/><circle cx="142.0" cy="151.2" r="2.00"/><circle cx="142.5" cy="152.6" r="2.00"/><circle cx="143.0" cy="148.2" r="2.00"/><circle cx="143.5" cy="143.7" r="2.00"/><circle cx="144.0" cy="139.9" r="2.00"/><circle cx="144.5" cy="136.3" r="2.00"/><circle cx="145.0" cy="133.1" r="2.00"/><circle cx="145.5" cy="130.7" r="2.00"/><circle cx="146.0" cy="127.5" r="2.00"/><circle cx="146.5" cy="125.6" r="2.00"/><circle cx="147.0" cy="123.9" r="2.00"/><circle cx="147.5" cy="123.1" r="2.00"/><circle cx="148.0" cy="122.2" r="2.00"/><circle cx="148.5" cy="122.8" r="2.00"/><circle cx="149.0" cy="123.7" r="2.00"/><circle cx="149.5" cy="125.0" r="2.00"/><circle cx="150.0" cy="126.1" r="2.00"/><circle cx="150.5" cy="127.6" r="2.00"/><circle cx="151.0" cy="129.3" r="2.00"/><circle cx="151.5" cy="131.7" r="2.00"/><circle cx="152.0" cy="134.2" r="2.00"/><circle cx="152.5" cy="136.3" r="2.00"/><circle cx="153.0" cy="138.9" r="2.00"/><circle cx="153.5" cy="138.6" r="2.00"/><circle cx="154.0" cy="136.0" r="2.00"/><circle cx="154.5" cy="134.1" r="2.00"/><circle cx="155.0" cy="132.3" r="2.00"/><circle cx="155.5" cy="130.8" r="2.00"/><circle cx="156.0" cy="129.3" r="2.00"/><circle cx="156.5" cy="127.7" r="2.00"/><circle cx="157.0" cy="127.4" r="2.00"/><circle cx="157.5" cy="126.9" r="2.00"/><circle cx="158.0" cy="125.9" r="2.00"/><circle cx="158.5" cy="126.4" r="2.00"/><circle cx="159.0" cy="127.1" r="2.00"/><circle cx="159.5" cy="128.5" r="2.00"/><circle cx="160.0" cy="129.4" r="2.00"/><circle cx="160.5" cy="132.3" r="2.00"/><circle cx="161.0" cy="133.9" r="2.00"/><circle cx="161.5" cy="136.9" r="2.00"/><circle cx="162.0" cy="139.3" r="2.00"/><circle cx="162.5" cy="142.2" r="2.00"/><circle cx="163.0" cy="145.5" r="2.00"/><circle cx="163.5" cy="149.4" r="2.00"/><circle cx="164.0" cy="152.6" r="2.00"/><circle cx="164.5" cy="156.7" r="2.00"/><circle cx="165.0" cy="157.7" r="2.00"/><circle cx="165.5" cy="153.8" r="2.00"/><circle cx="166.0" cy="151.3" r="2.00"/><circle cx="166.5" cy="147.9" r="2.00"/><circle cx="167.0" cy="144.8" r="2.00"/><circle cx="167.5" cy="142.4" r="2.00"/><circle cx="168.0" cy="139.3" r="2.00"/><circle cx="168.5" cy="137.3" r="2.00"/><circle cx="169.0" cy="135.9" r="2.00"/><circle cx="169.5" cy="134.0" r="2.00"/><circle cx="170.0" cy="131.6" r="2.00"/><circle cx="170.5" cy="130.3" r="2.00"/><circle cx="171.0" cy="130.3" r="2.00"/><circle cx="171.5" cy="130.8" r="2.00"/><circle cx="172.0" cy="131.0" r="2.00"/><circle cx="172.5" cy="132.1" r="2.00"/><circle cx="173.0" cy="133.7" r="2.00"/><circle cx="173.5" cy="135.0" r="2.00"/><circle cx="174.0" cy="137.4" r="2.00"/><circle cx="174.5" cy="139.8" r="2.00"/><circle cx="175.0" cy="142.3" r="2.00"/><circle cx="175.5" cy="145.1" r="2.00"/><circle cx="176.0" cy="147.9" r="2.00"/><circle cx="176.5" cy="151.5" r="2.00"/><circle cx="177.0" cy="154.8" r="2.00"/><circle cx="177.5" cy="152.6" r="2.00"/><circle cx="178.0" cy="150.6" r="2.00"/><circle cx="178.5" cy="147.3" r="2.00"/><circle cx="179.0" cy="144.8" r="2.00"/><circle cx="179.5" cy="143.4" r="2.00"/><circle cx="180.0" cy="142.0" r="2.00"/><circle cx="180.5" cy="140.7" r="2.00"/><circle cx="181.0" cy="139.5" r="2.00"/><circle cx="181.5" cy="138.0" r="2.00"/><circle cx="182.0" cy="137.3" r="2.00"/><circle cx="182.5" cy="137.7" r="2.00"/><circle cx="183.0" cy="137.2" r="2.00"/><circle cx="183.5" cy="138.4" r="2.00"/><circle cx="184.0" cy="138.8" r="2.00"/><circle cx="184.5" cy="140.1" r="2.00"/><circle cx="185.0" cy="141.3" r="2.00"/><circle cx="185.5" cy="142.7" r="2.00"/><circle cx="186.0" cy="144.3" r="2.00"/><circle cx="186.5" cy="145.5" r="2.00"/><circle cx="187.0" cy="147.8" r="2.00"/><circle cx="187.5" cy="149.7" r="2.00"/><circle cx="188.0" cy="152.0" r="2.00"/><circle cx="188.5" cy="154.6" r="2.00"/><circle cx="189.0" cy="156.7" r="2.00"/><circle cx="189.5" cy="158.0" r="2.00"/><circle cx="190.0" cy="155.3" r="2.00"/><circle cx="190.5" cy="152.8" r="2.00"/><circle cx="191.0" cy="150.8" r="2.00"/><circle cx="191.5" cy="148.2" r="2.00"/><circle cx="192.0" cy="146.8" r="2.00"/><circle cx="192.5" cy="144.8" r="2.00"/><circle cx="193.0" cy="143.2" r="2.00"/><circle cx="193.5" cy="141.7" r="2.00"/><circle cx="194.0" cy="141.2" r="2.00"/><circle cx="194.5" cy="140.8" r="2.00"/></g>
<polyline points="41.5,113.3 41.8,113.3 42.0,113.3 42.2,113.3 42.5,113.3 42.8,113.3 43.0,113.3 43.2,113.3 43.5,113.3 43.8,113.3 44.0,113.3 44.2,113.3 44.5,113.3 44.8,113.3 45.0,113.3 45.2,113.3 45.5,113.3 45.8,113.3 46.0,113.3 46.2,113.3 46.5,113.3 46.8,113.3 47.0,113.3 47.2,113.3 47.5,113.3 47.8,113.3 48.0,113.3 48.2,113.3 48.5,113.3 48.8,113.3 49.0,113.3 49.2,113.3 49.5,113.3 49.8,113.3 50.0,113.3 50.2,113.3 50.5,113.3 50.8,113.3 51.0,113.3 51.2,113.3 51.5,113.3 51.8,113.3 52.0,113.3 52.2,113.3 52.5,113.3 52.8,113.3 53.0,113.3 53.2,113.3 53.5,113.3 53.8,113.3 54.0,113.3 54.2,113.4 54.5,113.7 54.8,114.0 55.0,114.5 55.2,115.1 55.5,115.7 55.8,116.4 56.0,117.0 56.2,117.7 56.5,118.4 56.8,119.2 57.0,121.8 57.2,125.8 57.5,131.2 57.8,137.7 58.0,145.2 58.2,150.6 58.5,144.2 58.8,138.6 59.0,133.8 59.2,130.0 59.5,127.2 59.8,125.8 60.0,125.1 60.2,124.4 60.5,123.7 60.8,123.1 61.0,122.5 61.2,121.9 61.5,121.4 61.8,120.9 62.0,120.5 62.2,120.0 62.5,119.7 62.8,119.3 63.0,119.1 63.2,118.8 63.5,118.6 63.8,118.4 64.0,118.3 64.2,118.2 64.5,118.1 64.8,118.1 65.0,118.1 65.2,118.2 65.5,118.5 65.8,118.8 66.0,119.2 66.2,119.6 66.5,120.0 66.8,120.5 67.0,120.9 67.2,121.4 67.5,121.8 67.8,122.2 68.0,122.6 68.2,122.8 68.5,123.0 68.8,123.1 69.0,123.1 69.2,123.0 69.5,123.0 69.8,122.9 70.0,122.8 70.2,122.7 70.5,122.6 70.8,122.5 71.0,122.3 71.2,122.2 71.5,122.0 71.8,121.8 72.0,121.6 72.2,121.4 72.5,121.2 72.8,121.0 73.0,120.8 73.2,120.6 73.5,120.4 73.8,120.2 74.0,120.0 74.2,119.8 74.5,119.6 74.8,119.5 75.0,119.3 75.2,119.1 75.5,119.0 75.8,118.8 76.0,118.7 76.2,118.6 76.5,118.5 76.8,118.4 77.0,118.4 77.2,118.3 77.5,118.3 77.8,118.3 78.0,118.3 78.2,118.4 78.5,118.4 78.8,118.4 79.0,118.5 79.2,118.5 79.5,118.5 79.8,118.6 80.0,118.6 80.2,118.7 80.5,118.8 80.8,118.8 81.0,118.9 81.2,119.0 81.5,119.0 81.8,119.1 82.0,119.2 82.2,119.3 82.5,119.4 82.8,119.5 83.0,119.6 83.2,119.6 83.5,119.7 83.8,119.8 84.0,119.9 84.2,120.0 84.5,120.1 84.8,120.3 85.0,120.4 85.2,120.5 85.5,120.7 85.8,120.9 86.0,121.0 86.2,121.2 86.5,121.4 86.8,121.6 87.0,121.8 87.2,121.9 87.5,122.1 87.8,122.4 88.0,122.6 88.2,122.8 88.5,123.0 88.8,123.3 89.0,123.5 89.2,123.8 89.5,124.1 89.8,124.4 90.0,124.8 90.2,125.2 90.5,125.6 90.8,126.0 91.0,126.5 91.2,127.0 91.5,127.4 91.8,127.9 92.0,128.3 92.2,128.8 92.5,129.2 92.8,129.7 93.0,130.1 93.2,130.6 93.5,131.1 93.8,131.5 94.0,132.0 94.2,132.5 94.5,133.0 94.8,133.5 95.0,134.0 95.2,134.6 95.5,135.1 95.8,135.7 96.0,136.3 96.2,136.9 96.5,137.5 96.8,138.1 97.0,138.7 97.2,139.4 97.5,140.0 97.8,140.7 98.0,141.4 98.2,142.1 98.5,142.8 98.8,143.5 99.0,144.2 99.2,145.0 99.5,145.5 99.8,145.7 100.0,146.1 100.2,146.7 100.5,147.4 100.8,148.3 101.0,149.3 101.2,150.3 101.5,151.5 101.8,151.6 102.0,151.0 102.2,150.4 102.5,149.9 102.8,149.4 103.0,148.9 103.2,148.4 103.5,147.9 103.8,147.5 104.0,147.1 104.2,146.8 104.5,146.4 104.8,146.1 105.0,145.9 105.2,145.6 105.5,145.4 105.8,145.3 106.0,145.2 106.2,145.2 106.5,145.3 106.8,145.5 107.0,145.7 107.2,146.1 107.5,146.5 107.8,146.9 108.0,147.4 108.2,148.0 108.5,148.6 108.8,149.2 109.0,150.0 109.2,150.7 109.5,151.5 109.8,152.3 110.0,153.2 110.2,154.1 110.5,155.1 110.8,156.1 111.0,157.1 111.2,158.2 111.5,159.3 111.8,160.5 112.0,160.5 112.2,159.0 112.5,157.5 112.8,156.1 113.0,154.8 113.2,153.7 113.5,152.6 113.8,151.7 114.0,150.9 114.2,150.2 114.5,149.8 114.8,149.4 115.0,149.4 115.2,149.5 115.5,149.8 115.8,150.2 116.0,150.6 116.2,151.1 116.5,151.7 116.8,152.3 117.0,153.0 117.2,153.8 117.5,154.6 117.8,155.5 118.0,156.4 118.2,157.4 118.5,158.5 118.8,159.6 119.0,160.7 119.2,162.0 119.5,163.2 119.8,164.5 120.0,165.9 120.2,167.3 120.5,168.7 120.8,170.2 121.0,171.7 121.2,170.4 121.5,169.1 121.8,167.9 122.0,166.8 122.2,165.7 122.5,164.6 122.8,163.7 123.0,162.8 123.2,161.9 123.5,161.2 123.8,160.5 124.0,159.8 124.2,159.3 124.5,158.8 124.8,158.5 125.0,158.2 125.2,158.1 125.5,158.1 125.8,158.4 126.0,158.7 126.2,159.1 126.5,159.7 126.8,160.3 127.0,161.0 127.2,161.7 127.5,162.6 127.8,163.5 128.0,164.4 128.2,165.5 128.5,166.6 128.8,167.7 129.0,169.0 129.2,170.2 129.5,171.6 129.8,173.0 130.0,174.4 130.2,175.9 130.5,177.5 130.8,179.1 131.0,180.8 131.2,182.5 131.5,182.7 131.8,180.6 132.0,178.6 132.2,176.7 132.5,174.8 132.8,173.1 133.0,171.5 133.2,170.0 133.5,168.5 133.8,167.2 134.0,166.0 134.2,164.9 134.5,164.0 134.8,163.2 135.0,162.5 135.2,161.9 135.5,161.6 135.8,161.5 136.0,161.7 136.2,162.0 136.5,162.5 136.8,163.1 137.0,163.8 137.2,164.6 137.5,165.5 137.8,166.4 138.0,167.5 138.2,168.7 138.5,169.9 138.8,171.2 139.0,172.6 139.2,174.1 139.5,175.7 139.8,177.3 140.0,179.0 140.2,180.7 140.5,182.6 140.8,184.5 141.0,186.5 141.2,188.5 141.5,190.6 141.8,190.7 142.0,189.5 142.2,188.3 142.5,187.1 142.8,186.0 143.0,185.0 143.2,183.9 143.5,182.9 143.8,182.0 144.0,181.0 144.2,180.2 144.5,179.3 144.8,178.6 145.0,177.8 145.2,177.1 145.5,176.5 145.8,175.8 146.0,175.3 146.2,174.8 146.5,174.3 146.8,173.9 147.0,173.6 147.2,173.3 147.5,173.1 147.8,173.0 148.0,173.1 148.2,173.4 148.5,173.8 148.8,174.2 149.0,174.8 149.2,175.5 149.5,176.3 149.8,177.1 150.0,178.0 150.2,179.0 150.5,180.1 150.8,181.3 151.0,182.5 151.2,183.8 151.5,185.1 151.8,186.6 152.0,188.0 152.2,189.6 152.5,191.2 152.8,192.9 153.0,194.6 153.2,193.0 153.5,191.5 153.8,190.0 154.0,188.5 154.2,187.2 154.5,185.9 154.8,184.6 155.0,183.5 155.2,182.4 155.5,181.3 155.8,180.3 156.0,179.5 156.2,178.6 156.5,177.9 156.8,177.2 157.0,176.7 157.2,176.2 157.5,175.8 157.8,175.5 158.0,175.4 158.2,175.5 158.5,175.8 158.8,176.3 159.0,176.8 159.2,177.5 159.5,178.2 159.8,179.1 160.0,180.0 160.2,181.1 160.5,182.2 160.8,183.4 161.0,184.6 161.2,186.0 161.5,187.4 161.8,188.9 162.0,190.5 162.2,192.1 162.5,193.8 162.8,195.6 163.0,197.4 163.2,199.3 163.5,201.3 163.8,203.3 164.0,205.4 164.2,207.5 164.5,209.8 164.8,212.0 165.0,210.9 165.2,208.9 165.5,206.9 165.8,205.1 166.0,203.2 166.2,201.5 166.5,199.8 166.8,198.1 167.0,196.6 167.2,195.1 167.5,193.6 167.8,192.2 168.0,190.9 168.2,189.6 168.5,188.5 168.8,187.4 169.0,186.3 169.2,185.4 169.5,184.5 169.8,183.7 170.0,183.0 170.2,182.4 170.5,181.8 170.8,181.4 171.0,181.1 171.2,180.9 171.5,181.0 171.8,181.3 172.0,181.7 172.2,182.2 172.5,182.8 172.8,183.4 173.0,184.2 173.2,185.1 173.5,186.0 173.8,187.1 174.0,188.2 174.2,189.3 174.5,190.6 174.8,191.9 175.0,193.3 175.2,194.7 175.5,196.3 175.8,197.9 176.0,199.5 176.2,201.2 176.5,203.0 176.8,204.8 177.0,206.7 177.2,205.2 177.5,203.8 177.8,202.5 178.0,201.1 178.2,199.9 178.5,198.7 178.8,197.5 179.0,196.4 179.2,195.3 179.5,194.3 179.8,193.4 180.0,192.5 180.2,191.7 180.5,191.0 180.8,190.3 181.0,189.7 181.2,189.1 181.5,188.7 181.8,188.3 182.0,188.0 182.2,187.8 182.5,187.8 182.8,188.0 183.0,188.3 183.2,188.7 183.5,189.2 183.8,189.8 184.0,190.4 184.2,191.2 184.5,192.0 184.8,192.9 185.0,193.9 185.2,194.9 185.5,196.0 185.8,197.2 186.0,198.4 186.2,199.7 186.5,201.0 186.8,202.4 187.0,203.9 187.2,205.4 187.5,207.0 187.8,208.6 188.0,210.3 188.2,212.0 188.5,213.8 188.8,215.6 189.0,217.5 189.2,218.6 189.5,216.6 189.8,214.6 190.0,212.6 190.2,210.8 190.5,209.0 190.8,207.3 191.0,205.6 191.2,204.0 191.5,202.5 191.8,201.1 192.0,199.8 192.2,198.5 192.5,197.3 192.8,196.2 193.0,195.2 193.2,194.3 193.5,193.5 193.8,192.8 194.0,192.2 194.2,191.7 194.5,191.4 194.8,191.2" fill="none" stroke="#000" stroke-width="1.20" stroke-linejoin="round"/>
<g fill="#ffffff" stroke="#000" stroke-width="1.20"><circle cx="42.0" cy="112.4" r="2.00"/><circle cx="42.5" cy="114.0" r="2.00"/><circle cx="43.0" cy="114.2" r="2.00"/><circle cx="43.5" cy="113.5" r="2.00"/><circle cx="44.0" cy="113.6" r="2.00"/><circle cx="44.5" cy="114.7" r="2.00"/><circle cx="45.0" cy="114.0" r="2.00"/><circle cx="45.5" cy="112.8" r="2.00"/><circle cx="46.0" cy="113.3" r="2.00"/><circle cx="46.5" cy="113.3" r="2.00"/><circle cx="47.0" cy="113.3" r="2.00"/><circle cx="47.5" cy="112.0" r="2.00"/><circle cx="48.0" cy="113.8" r="2.00"/><circle cx="48.5" cy="113.0" r="2.00"/><circle cx="49.0" cy="113.4" r="2.00"/><circle cx="49.5" cy="113.3" r="2.00"/><circle cx="50.0" cy="113.8" r="2.00"/><circle cx="50.5" cy="113.2" r="2.00"/><circle cx="51.0" cy="112.9" r="2.00"/><circle cx="51.5" cy="113.6" r="2.00"/><circle cx="52.0" cy="114.1" r="2.00"/><circle cx="52.5" cy="113.2" r="2.00"/><circle cx="53.0" cy="114.1" r="2.00"/><circle cx="53.5" cy="113.5" r="2.00"/><circle cx="54.0" cy="113.3" r="2.00"/><circle cx="54.5" cy="115.1" r="2.00"/><circle cx="55.0" cy="114.8" r="2.00"/><circle cx="55.5" cy="116.8" r="2.00"/><circle cx="56.0" cy="117.0" r="2.00"/><circle cx="56.5" cy="118.4" r="2.00"/><circle cx="57.0" cy="119.4" r="2.00"/><circle cx="57.5" cy="122.3" r="2.00"/><circle cx="58.0" cy="126.8" r="2.00"/><circle cx="58.5" cy="127.0" r="2.00"/><circle cx="59.0" cy="125.6" r="2.00"/><circle cx="59.5" cy="124.3" r="2.00"/><circle cx="60.0" cy="124.1" r="2.00"/><circle cx="60.5" cy="122.6" r="2.00"/><circle cx="61.0" cy="121.6" r="2.00"/><circle cx="61.5" cy="121.1" r="2.00"/><circle cx="62.0" cy="119.8" r="2.00"/><circle cx="62.5" cy="119.2" r="2.00"/><circle cx="63.0" cy="118.9" r="2.00"/><circle cx="63.5" cy="118.5" r="2.00"/><circle cx="64.0" cy="118.1" r="2.00"/><circle cx="64.5" cy="119.0" r="2.00"/><circle cx="65.0" cy="118.7" r="2.00"/><circle cx="65.5" cy="119.2" r="2.00"/><circle cx="66.0" cy="119.1" r="2.00"/><circle cx="66.5" cy="119.7" r="2.00"/><circle cx="67.0" cy="120.1" r="2.00"/><circle cx="67.5" cy="121.6" r="2.00"/><circle cx="68.0" cy="121.4" r="2.00"/><circle cx="68.5" cy="122.7" r="2.00"/><circle cx="69.0" cy="123.5" r="2.00"/><circle cx="69.5" cy="123.9" r="2.00"/><circle cx="70.0" cy="123.4" r="2.00"/><circle cx="70.5" cy="122.1" r="2.00"/><circle cx="71.0" cy="122.6" r="2.00"/><circle cx="71.5" cy="121.6" r="2.00"/><circle cx="72.0" cy="122.1" r="2.00"/><circle cx="72.5" cy="121.2" r="2.00"/><circle cx="73.0" cy="121.3" r="2.00"/><circle cx="73.5" cy="121.8" r="2.00"/><circle cx="74.0" cy="120.5" r="2.00"/><circle cx="74.5" cy="120.9" r="2.00"/><circle cx="75.0" cy="119.4" r="2.00"/><circle cx="75.5" cy="118.8" r="2.00"/><circle cx="76.0" cy="119.4" r="2.00"/><circle cx="76.5" cy="119.5" r="2.00"/><circle cx="77.0" cy="118.1" r="2.00"/><circle cx="77.5" cy="118.4" r="2.00"/><circle cx="78.0" cy="117.6" r="2.00"/><circle cx="78.5" cy="118.3" r="2.00"/><circle cx="79.0" cy="118.9" r="2.00"/><circle cx="79.5" cy="118.5" r="2.00"/><circle cx="80.0" cy="118.3" r="2.00"/><circle cx="80.5" cy="118.0" r="2.00"/><circle cx="81.0" cy="119.1" r="2.00"/><circle cx="81.5" cy="119.5" r="2.00"/><circle cx="82.0" cy="119.5" r="2.00"/><circle cx="82.5" cy="119.5" r="2.00"/><circle cx="83.0" cy="118.8" r="2.00"/><circle cx="83.5" cy="120.7" r="2.00"/><circle cx="84.0" cy="119.9" r="2.00"/><circle cx="84.5" cy="120.0" r="2.00"/><circle cx="85.0" cy="120.8" r="2.00"/><circle cx="85.5" cy="119.5" r="2.00"/><circle cx="86.0" cy="121.0" r="2.00"/><circle cx="86.5" cy="121.3" r="2.00"/><circle cx="87.0" cy="122.0" r="2.00"/><circle cx="87.5" cy="122.9" r="2.00"/><circle cx="88.0" cy="122.8" r="2.00"/><circle cx="88.5" cy="122.0" r="2.00"/><circle cx="89.0" cy="123.4" r="2.00"/><circle cx="89.5" cy="124.2" r="2.00"/><circle cx="90.0" cy="124.9" r="2.00"/><circle cx="90.5" cy="124.9" r="2.00"/><circle cx="91.0" cy="125.6" r="2.00"/><circle cx="91.5" cy="127.7" r="2.00"/><circle cx="92.0" cy="128.5" r="2.00"/><circle cx="92.5" cy="129.2" r="2.00"/><circle cx="93.0" cy="129.2" r="2.00"/><circle cx="93.5" cy="132.0" r="2.00"/><circle cx="94.0" cy="130.4" r="2.00"/><circle cx="94.5" cy="132.8" r="2.00"/><circle cx="95.0" cy="135.2" r="2.00"/><circle cx="95.5" cy="135.0" r="2.00"/><circle cx="96.0" cy="136.4" r="2.00"/><circle cx="96.5" cy="136.8" r="2.00"/><circle cx="97.0" cy="139.5" r="2.00"/><circle cx="97.5" cy="139.3" r="2.00"/><circle cx="98.0" cy="141.5" r="2.00"/><circle cx="98.5" cy="142.9" r="2.00"/><circle cx="99.0" cy="143.7" r="2.00"/><circle cx="99.5" cy="145.9" r="2.00"/><circle cx="100.0" cy="145.6" r="2.00"/><circle cx="100.5" cy="147.0" r="2.00"/><circle cx="101.0" cy="148.8" r="2.00"/><circle cx="101.5" cy="150.6" r="2.00"/><circle cx="102.0" cy="150.4" r="2.00"/><circle cx="102.5" cy="149.5" r="2.00"/><circle cx="103.0" cy="148.1" r="2.00"/><circle cx="103.5" cy="147.1" r="2.00"/><circle cx="104.0" cy="146.4" r="2.00"/><circle cx="104.5" cy="145.7" r="2.00"/><circle cx="105.0" cy="145.5" r="2.00"/><circle cx="105.5" cy="144.8" r="2.00"/><circle cx="106.0" cy="144.8" r="2.00"/><circle cx="106.5" cy="144.7" r="2.00"/><circle cx="107.0" cy="144.9" r="2.00"/><circle cx="107.5" cy="146.0" r="2.00"/><circle cx="108.0" cy="146.2" r="2.00"/><circle cx="108.5" cy="147.5" r="2.00"/><circle cx="109.0" cy="149.1" r="2.00"/><circle cx="109.5" cy="149.7" r="2.00"/><circle cx="110.0" cy="151.4" r="2.00"/><circle cx="110.5" cy="152.6" r="2.00"/><circle cx="111.0" cy="154.6" r="2.00"/><circle cx="111.5" cy="156.2" r="2.00"/><circle cx="112.0" cy="156.7" r="2.00"/><circle cx="112.5" cy="154.6" r="2.00"/><circle cx="113.0" cy="152.9" r="2.00"/><circle cx="113.5" cy="151.8" r="2.00"/><circle cx="114.0" cy="150.3" r="2.00"/><circle cx="114.5" cy="149.6" r="2.00"/><circle cx="115.0" cy="149.1" r="2.00"/><circle cx="115.5" cy="149.4" r="2.00"/><circle cx="116.0" cy="149.9" r="2.00"/><circle cx="116.5" cy="150.5" r="2.00"/><circle cx="117.0" cy="152.3" r="2.00"/><circle cx="117.5" cy="154.1" r="2.00"/><circle cx="118.0" cy="155.3" r="2.00"/><circle cx="118.5" cy="156.8" r="2.00"/><circle cx="119.0" cy="159.4" r="2.00"/><circle cx="119.5" cy="160.9" r="2.00"/><circle cx="120.0" cy="163.1" r="2.00"/><circle cx="120.5" cy="165.3" r="2.00"/><circle cx="121.0" cy="168.0" r="2.00"/><circle cx="121.5" cy="166.2" r="2.00"/><circle cx="122.0" cy="165.0" r="2.00"/><circle cx="122.5" cy="162.7" r="2.00"/><circle cx="123.0" cy="160.9" r="2.00"/><circle cx="123.5" cy="159.8" r="2.00"/><circle cx="124.0" cy="158.9" r="2.00"/><circle cx="124.5" cy="157.6" r="2.00"/><circle cx="125.0" cy="157.7" r="2.00"/><circle cx="125.5" cy="157.8" r="2.00"/><circle cx="126.0" cy="158.1" r="2.00"/><circle cx="126.5" cy="158.9" r="2.00"/><circle cx="127.0" cy="159.4" r="2.00"/><circle cx="127.5" cy="160.5" r="2.00"/><circle cx="128.0" cy="162.8" r="2.00"/><circle cx="128.5" cy="164.4" r="2.00"/><circle cx="129.0" cy="165.5" r="2.00"/><circle cx="129.5" cy="168.0" r="2.00"/><circle cx="130.0" cy="170.2" r="2.00"/><circle cx="130.5" cy="172.7" r="2.00"/><circle cx="131.0" cy="175.1" r="2.00"/><circle cx="131.5" cy="177.6" r="2.00"/><circle cx="132.0" cy="175.6" r="2.00"/><circle cx="132.5" cy="172.5" r="2.00"/><circle cx="133.0" cy="169.6" r="2.00"/><circle cx="133.5" cy="166.6" r="2.00"/><circle cx="134.0" cy="164.1" r="2.00"/><circle cx="134.5" cy="163.1" r="2.00"/><circle cx="135.0" cy="161.6" r="2.00"/><circle cx="135.5" cy="161.4" r="2.00"/><circle cx="136.0" cy="161.6" r="2.00"/><circle cx="136.5" cy="162.5" r="2.00"/><circle cx="137.0" cy="163.8" r="2.00"/><circle cx="137.5" cy="166.0" r="2.00"/><circle cx="138.0" cy="168.8" r="2.00"/><circle cx="138.5" cy="171.1" r="2.00"/><circle cx="139.0" cy="174.8" r="2.00"/><circle cx="139.5" cy="178.4" r="2.00"/><circle cx="140.0" cy="182.2" r="2.00"/><circle cx="140.5" cy="186.9" r="2.00"/><circle cx="141.0" cy="190.9" r="2.00"/><circle cx="141.5" cy="196.3" r="2.00"/><circle cx="142.0" cy="201.0" r="2.00"/><circle cx="142.5" cy="202.5" r="2.00"/><circle cx="143.0" cy="197.9" r="2.00"/><circle cx="143.5" cy="194.1" r="2.00"/><circle cx="144.0" cy="189.8" r="2.00"/><circle cx="144.5" cy="186.6" r="2.00"/><circle cx="145.0" cy="183.0" r="2.00"/><circle cx="145.5" cy="180.8" r="2.00"/><circle cx="146.0" cy="178.6" r="2.00"/><circle cx="146.5" cy="176.1" r="2.00"/><circle cx="147.0" cy="174.9" r="2.00"/><circle cx="147.5" cy="173.6" r="2.00"/><circle cx="148.0" cy="173.7" r="2.00"/><circle cx="148.5" cy="173.5" r="2.00"/><circle cx="149.0" cy="173.8" r="2.00"/><circle cx="149.5" cy="175.8" r="2.00"/><circle cx="150.0" cy="176.7" r="2.00"/><circle cx="150.5" cy="178.0" r="2.00"/><circle cx="151.0" cy="179.9" r="2.00"/><circle cx="151.5" cy="181.7" r="2.00"/><circle cx="152.0" cy="184.4" r="2.00"/><circle cx="152.5" cy="186.6" r="2.00"/><circle cx="153.0" cy="190.0" r="2.00"/><circle cx="153.5" cy="189.3" r="2.00"/><circle cx="154.0" cy="186.2" r="2.00"/><circle cx="154.5" cy="184.0" r="2.00"/><circle cx="155.0" cy="182.2" r="2.00"/><circle cx="155.5" cy="180.0" r="2.00"/><circle cx="156.0" cy="179.0" r="2.00"/><circle cx="156.5" cy="177.7" r="2.00"/><circle cx="157.0" cy="176.4" r="2.00"/><circle cx="157.5" cy="175.7" r="2.00"/><circle cx="158.0" cy="175.6" r="2.00"/><circle cx="158.5" cy="176.1" r="2.00"/><circle cx="159.0" cy="177.0" r="2.00"/><circle cx="159.5" cy="177.9" r="2.00"/><circle cx="160.0" cy="179.9" r="2.00"/><circle cx="160.5" cy="181.4" r="2.00"/><circle cx="161.0" cy="184.1" r="2.00"/><circle cx="161.5" cy="186.4" r="2.00"/><circle cx="162.0" cy="189.9" r="2.00"/><circle cx="162.5" cy="192.5" r="2.00"/><circle cx="163.0" cy="196.1" r="2.00"/><circle cx="163.5" cy="200.2" r="2.00"/><circle cx="164.0" cy="204.4" r="2.00"/><circle cx="164.5" cy="208.1" r="2.00"/><circle cx="165.0" cy="209.4" r="2.00"/><circle cx="165.5" cy="205.9" r="2.00"/><circle cx="166.0" cy="202.4" r="2.00"/><circle cx="166.5" cy="198.7" r="2.00"/><circle cx="167.0" cy="195.9" r="2.00"/><circle cx="167.5" cy="193.0" r="2.00"/><circle cx="168.0" cy="190.9" r="2.00"/><circle cx="168.5" cy="188.3" r="2.00"/><circle cx="169.0" cy="185.7" r="2.00"/><circle cx="169.5" cy="183.7" r="2.00"/><circle cx="170.0" cy="182.9" r="2.00"/><circle cx="170.5" cy="182.1" r="2.00"/><circle cx="171.0" cy="181.1" r="2.00"/><circle cx="171.5" cy="181.3" r="2.00"/><circle cx="172.0" cy="181.5" r="2.00"/><circle cx="172.5" cy="182.3" r="2.00"/><circle cx="173.0" cy="184.3" r="2.00"/><circle cx="173.5" cy="185.8" r="2.00"/><circle cx="174.0" cy="188.0" r="2.00"/><circle cx="174.5" cy="189.7" r="2.00"/><circle cx="175.0" cy="192.7" r="2.00"/><circle cx="175.5" cy="195.3" r="2.00"/><circle cx="176.0" cy="198.8" r="2.00"/><circle cx="176.5" cy="201.7" r="2.00"/><circle cx="177.0" cy="205.2" r="2.00"/><circle cx="177.5" cy="202.6" r="2.00"/><circle cx="178.0" cy="200.7" r="2.00"/><circle cx="178.5" cy="198.0" r="2.00"/><circle cx="179.0" cy="195.7" r="2.00"/><circle cx="179.5" cy="193.7" r="2.00"/><circle cx="180.0" cy="192.1" r="2.00"/><circle cx="180.5" cy="191.4" r="2.00"/><circle cx="181.0" cy="189.2" r="2.00"/><circle cx="181.5" cy="188.5" r="2.00"/><circle cx="182.0" cy="188.3" r="2.00"/><circle cx="182.5" cy="188.1" r="2.00"/><circle cx="183.0" cy="188.0" r="2.00"/><circle cx="183.5" cy="189.0" r="2.00"/><circle cx="184.0" cy="189.9" r="2.00"/><circle cx="184.5" cy="191.2" r="2.00"/><circle cx="185.0" cy="192.4" r="2.00"/><circle cx="185.5" cy="194.6" r="2.00"/><circle cx="186.0" cy="196.0" r="2.00"/><circle cx="186.5" cy="198.5" r="2.00"/><circle cx="187.0" cy="200.0" r="2.00"/><circle cx="187.5" cy="203.1" r="2.00"/><circle cx="188.0" cy="205.1" r="2.00"/><circle cx="188.5" cy="207.9" r="2.00"/><circle cx="189.0" cy="211.4" r="2.00"/><circle cx="189.5" cy="212.9" r="2.00"/><circle cx="190.0" cy="209.8" r="2.00"/><circle cx="190.5" cy="206.2" r="2.00"/><circle cx="191.0" cy="204.1" r="2.00"/><circle cx="191.5" cy="201.0" r="2.00"/><circle cx="192.0" cy="198.3" r="2.00"/><circle cx="192.5" cy="196.6" r="2.00"/><circle cx="193.0" cy="195.0" r="2.00"/><circle cx="193.5" cy="193.0" r="2.00"/><circle cx="194.0" cy="192.2" r="2.00"/><circle cx="194.5" cy="192.0" r="2.00"/></g>
<polyline points="41.5,165.9 41.8,165.9 42.0,165.9 42.2,165.9 42.5,165.9 42.8,165.9 43.0,165.9 43.2,165.9 43.5,165.9 43.8,165.9 44.0,165.9 44.2,165.9 44.5,165.9 44.8,165.9 45.0,165.9 45.2,165.9 45.5,165.9 45.8,165.9 46.0,165.9 46.2,165.9 46.5,165.9 46.8,165.9 47.0,165.9 47.2,165.9 47.5,165.9 47.8,165.9 48.0,165.9 48.2,165.9 48.5,165.9 48.8,165.9 49.0,165.9 49.2,165.9 49.5,165.9 49.8,165.9 50.0,165.9 50.2,165.9 50.5,165.9 50.8,165.9 51.0,165.9 51.2,165.9 51.5,165.9 51.8,165.9 52.0,165.9 52.2,165.9 52.5,165.9 52.8,165.9 53.0,165.9 53.2,165.9 53.5,165.9 53.8,165.9 54.0,165.9 54.2,166.0 54.5,166.3 54.8,166.6 55.0,167.1 55.2,167.7 55.5,168.3 55.8,169.0 56.0,169.6 56.2,170.3 56.5,171.0 56.8,171.8 57.0,174.5 57.2,178.7 57.5,184.3 57.8,191.0 58.0,198.9 58.2,204.5 58.5,197.7 58.8,191.8 59.0,186.8 59.2,182.8 59.5,179.9 59.8,178.4 60.0,177.7 60.2,177.0 60.5,176.3 60.8,175.7 61.0,175.1 61.2,174.5 61.5,174.0 61.8,173.5 62.0,173.1 62.2,172.6 62.5,172.3 62.8,171.9 63.0,171.7 63.2,171.4 63.5,171.2 63.8,171.0 64.0,170.9 64.2,170.8 64.5,170.7 64.8,170.7 65.0,170.7 65.2,170.8 65.5,171.1 65.8,171.4 66.0,171.8 66.2,172.2 66.5,172.6 66.8,173.1 67.0,173.5 67.2,174.0 67.5,174.4 67.8,174.8 68.0,175.2 68.2,175.4 68.5,175.6 68.8,175.7 69.0,175.7 69.2,175.6 69.5,175.6 69.8,175.5 70.0,175.4 70.2,175.3 70.5,175.2 70.8,175.1 71.0,174.9 71.2,174.8 71.5,174.6 71.8,174.4 72.0,174.2 72.2,174.0 72.5,173.8 72.8,173.6 73.0,173.4 73.2,173.2 73.5,173.0 73.8,172.8 74.0,172.6 74.2,172.4 74.5,172.2 74.8,172.1 75.0,171.9 75.2,171.7 75.5,171.6 75.8,171.4 76.0,171.3 76.2,171.2 76.5,171.1 76.8,171.0 77.0,171.0 77.2,170.9 77.5,170.9 77.8,170.9 78.0,170.9 78.2,171.0 78.5,171.0 78.8,171.0 79.0,171.1 79.2,171.1 79.5,171.1 79.8,171.2 80.0,171.2 80.2,171.3 80.5,171.4 80.8,171.4 81.0,171.5 81.2,171.6 81.5,171.6 81.8,171.7 82.0,171.8 82.2,171.9 82.5,172.0 82.8,172.1 83.0,172.2 83.2,172.2 83.5,172.3 83.8,172.4 84.0,172.5 84.2,172.6 84.5,172.7 84.8,172.9 85.0,173.0 85.2,173.1 85.5,173.3 85.8,173.5 86.0,173.6 86.2,173.8 86.5,174.0 86.8,174.2 87.0,174.4 87.2,174.5 87.5,174.7 87.8,175.0 88.0,175.2 88.2,175.4 88.5,175.6 88.8,175.9 89.0,176.1 89.2,176.4 89.5,176.7 89.8,177.0 90.0,177.4 90.2,177.8 90.5,178.2 90.8,178.6 91.0,179.1 91.2,179.6 91.5,180.0 91.8,180.5 92.0,180.9 92.2,181.4 92.5,181.8 92.8,182.3 93.0,182.7 93.2,183.2 93.5,183.7 93.8,184.1 94.0,184.6 94.2,185.1 94.5,185.6 94.8,186.1 95.0,186.6 95.2,187.2 95.5,187.7 95.8,188.3 96.0,188.9 96.2,189.5 96.5,190.1 96.8,190.7 97.0,191.3 97.2,192.0 97.5,192.6 97.8,193.3 98.0,194.0 98.2,194.7 98.5,195.4 98.8,196.1 99.0,196.8 99.2,197.6 99.5,198.1 99.8,198.3 100.0,198.7 100.2,199.3 100.5,200.0 100.8,200.9 101.0,201.9 101.2,202.9 101.5,204.1 101.8,204.2 102.0,203.6 102.2,203.0 102.5,202.5 102.8,202.0 103.0,201.5 103.2,201.0 103.5,200.5 103.8,200.1 104.0,199.7 104.2,199.4 104.5,199.0 104.8,198.7 105.0,198.5 105.2,198.2 105.5,198.0 105.8,197.9 106.0,197.8 106.2,197.8 106.5,197.9 106.8,198.1 107.0,198.3 107.2,198.7 107.5,199.1 107.8,199.5 108.0,200.0 108.2,200.6 108.5,201.2 108.8,201.8 109.0,202.6 109.2,203.3 109.5,204.1 109.8,204.9 110.0,205.8 110.2,206.7 110.5,207.7 110.8,208.7 111.0,209.7 111.2,210.8 111.5,211.9 111.8,213.1 112.0,213.1 112.2,211.6 112.5,210.1 112.8,208.7 113.0,207.4 113.2,206.3 113.5,205.2 113.8,204.3 114.0,203.5 114.2,202.8 114.5,202.4 114.8,202.0 115.0,202.0 115.2,202.1 115.5,202.4 115.8,202.8 116.0,203.2 116.2,203.7 116.5,204.3 116.8,204.9 117.0,205.6 117.2,206.4 117.5,207.2 117.8,208.1 118.0,209.0 118.2,210.0 118.5,211.1 118.8,212.2 119.0,213.3 119.2,214.6 119.5,215.8 119.8,217.1 120.0,218.5 120.2,219.9 120.5,221.3 120.8,222.8 121.0,224.3 121.2,223.0 121.5,221.7 121.8,220.5 122.0,219.4 122.2,218.3 122.5,217.2 122.8,216.3 123.0,215.4 123.2,214.5 123.5,213.8 123.8,213.1 124.0,212.4 124.2,211.9 124.5,211.4 124.8,211.1 125.0,210.8 125.2,210.7 125.5,210.7 125.8,211.0 126.0,211.3 126.2,211.7 126.5,212.3 126.8,212.9 127.0,213.6 127.2,214.3 127.5,215.2 127.8,216.1 128.0,217.0 128.2,218.1 128.5,219.2 128.8,220.3 129.0,221.6 129.2,222.8 129.5,224.2 129.8,225.6 130.0,227.0 130.2,228.5 130.5,230.1 130.8,231.7 131.0,233.4 131.2,235.1 131.5,235.3 131.8,233.2 132.0,231.2 132.2,229.3 132.5,227.4 132.8,225.7 133.0,224.1 133.2,222.6 133.5,221.1 133.8,219.8 134.0,218.6 134.2,217.5 134.5,216.6 134.8,215.8 135.0,215.1 135.2,214.5 135.5,214.2 135.8,214.1 136.0,214.2 136.2,214.5 136.5,214.9 136.8,215.5 137.0,216.1 137.2,216.8 137.5,217.5 137.8,218.4 138.0,219.3 138.2,220.3 138.5,221.4 138.8,222.5 139.0,223.8 139.2,225.0 139.5,226.4 139.8,227.8 140.0,229.3 140.2,230.8 140.5,232.4 140.8,234.1 141.0,235.8 141.2,237.5 141.5,239.4 141.8,239.5 142.0,238.4 142.2,237.4 142.5,236.5 142.8,235.5 143.0,234.6 143.2,233.8 143.5,232.9 143.8,232.1 144.0,231.3 144.2,230.6 144.5,229.9 144.8,229.2 145.0,228.6 145.2,228.0 145.5,227.5 145.8,227.0 146.0,226.5 146.2,226.1 146.5,225.7 146.8,225.3 147.0,225.1 147.2,224.8 147.5,224.7 147.8,224.6 148.0,224.7 148.2,224.9 148.5,225.3 148.8,225.8 149.0,226.3 149.2,227.0 149.5,227.8 149.8,228.6 150.0,229.5 150.2,230.5 150.5,231.6 150.8,232.7 151.0,233.9 151.2,235.2 151.5,236.5 151.8,237.9 152.0,239.4 152.2,240.9 152.5,242.5 152.8,244.2 153.0,245.9 153.2,244.2 153.5,242.6 153.8,241.0 154.0,239.5 154.2,238.1 154.5,236.7 154.8,235.4 155.0,234.1 155.2,233.0 155.5,231.9 155.8,230.9 156.0,229.9 156.2,229.0 156.5,228.3 156.8,227.6 157.0,227.0 157.2,226.4 157.5,226.0 157.8,225.8 158.0,225.6 158.2,225.8 158.5,226.0 158.8,226.4 159.0,226.9 159.2,227.5 159.5,228.1 159.8,228.9 160.0,229.7 160.2,230.6 160.5,231.6 160.8,232.6 161.0,233.8 161.2,234.9 161.5,236.2 161.8,237.5 162.0,238.9 162.2,240.3 162.5,241.8 162.8,243.4 163.0,245.0 163.2,246.6 163.5,248.4 163.8,250.2 164.0,252.0 164.2,253.9 164.5,255.8 164.8,257.8 165.0,256.9 165.2,255.3 165.5,253.7 165.8,252.1 166.0,250.6 166.2,249.2 166.5,247.8 166.8,246.4 167.0,245.1 167.2,243.9 167.5,242.7 167.8,241.5 168.0,240.4 168.2,239.4 168.5,238.4 168.8,237.5 169.0,236.7 169.2,235.9 169.5,235.1 169.8,234.5 170.0,233.9 170.2,233.4 170.5,233.0 170.8,232.6 171.0,232.4 171.2,232.2 171.5,232.3 171.8,232.6 172.0,233.0 172.2,233.5 172.5,234.1 172.8,234.9 173.0,235.7 173.2,236.6 173.5,237.6 173.8,238.7 174.0,239.8 174.2,241.1 174.5,242.4 174.8,243.8 175.0,245.2 175.2,246.7 175.5,248.3 175.8,250.0 176.0,251.7 176.2,253.5 176.5,255.4 176.8,257.3 177.0,259.3 177.2,257.9 177.5,256.6 177.8,255.3 178.0,254.0 178.2,252.9 178.5,251.7 178.8,250.6 179.0,249.6 179.2,248.6 179.5,247.6 179.8,246.8 180.0,245.9 180.2,245.2 180.5,244.4 180.8,243.8 181.0,243.2 181.2,242.7 181.5,242.3 181.8,241.9 182.0,241.6 182.2,241.5 182.5,241.4 182.8,241.6 183.0,241.9 183.2,242.4 183.5,242.9 183.8,243.5 184.0,244.2 184.2,244.9 184.5,245.8 184.8,246.7 185.0,247.7 185.2,248.7 185.5,249.9 185.8,251.1 186.0,252.3 186.2,253.6 186.5,255.0 186.8,256.4 187.0,257.9 187.2,259.5 187.5,261.1 187.8,262.8 188.0,264.5 188.2,266.3 188.5,268.1 188.8,270.0 189.0,271.9 189.2,273.0 189.5,270.6 189.8,268.3 190.0,266.1 190.2,264.0 190.5,261.9 190.8,259.9 191.0,258.0 191.2,256.2 191.5,254.5 191.8,252.8 192.0,251.3 192.2,249.8 192.5,248.5 192.8,247.2 193.0,246.1 193.2,245.0 193.5,244.1 193.8,243.3 194.0,242.6 194.2,242.0 194.5,241.6 194.8,241.4" fill="none" stroke="#000" stroke-width="1.20" stroke-linejoin="round"/>
<g fill="#ffffff" stroke="#000" stroke-width="1.20"><circle cx="42.0" cy="166.4" r="2.00"/><circle cx="42.5" cy="166.0" r="2.00"/><circle cx="43.0" cy="165.7" r="2.00"/><circle cx="43.5" cy="166.3" r="2.00"/><circle cx="44.0" cy="165.1" r="2.00"/><circle cx="44.5" cy="164.3" r="2.00"/><circle cx="45.0" cy="165.6" r="2.00"/><circle cx="45.5" cy="165.4" r="2.00"/><circle cx="46.0" cy="166.9" r="2.00"/><circle cx="46.5" cy="166.0" r="2.00"/><circle cx="47.0" cy="165.4" r="2.00"/><circle cx="47.5" cy="165.3" r="2.00"/><circle cx="48.0" cy="166.2" r="2.00"/><circle cx="48.5" cy="165.5" r="2.00"/><circle cx="49.0" cy="165.7" r="2.00"/><circle cx="49.5" cy="165.9" r="2.00"/><circle cx="50.0" cy="166.0" r="2.00"/><circle cx="50.5" cy="166.0" r="2.00"/><circle cx="51.0" cy="166.0" r="2.00"/><circle cx="51.5" cy="166.7" r="2.00"/><circle cx="52.0" cy="166.9" r="2.00"/><circle cx="52.5" cy="165.1" r="2.00"/><circle cx="53.0" cy="167.4" r="2.00"/><circle cx="53.5" cy="166.0" r="2.00"/><circle cx="54.0" cy="166.9" r="2.00"/><circle cx="54.5" cy="166.5" r="2.00"/><circle cx="55.0" cy="168.0" r="2.00"/><circle cx="55.5" cy="169.0" r="2.00"/><circle cx="56.0" cy="170.0" r="2.00"/><circle cx="56.5" cy="171.6" r="2.00"/><circle cx="57.0" cy="174.2" r="2.00"/><circle cx="57.5" cy="177.2" r="2.00"/><circle cx="58.0" cy="182.6" r="2.00"/><circle cx="58.5" cy="183.4" r="2.00"/><circle cx="59.0" cy="180.6" r="2.00"/><circle cx="59.5" cy="178.0" r="2.00"/><circle cx="60.0" cy="176.6" r="2.00"/><circle cx="60.5" cy="175.9" r="2.00"/><circle cx="61.0" cy="174.2" r="2.00"/><circle cx="61.5" cy="173.1" r="2.00"/><circle cx="62.0" cy="173.8" r="2.00"/><circle cx="62.5" cy="172.0" r="2.00"/><circle cx="63.0" cy="171.7" r="2.00"/><circle cx="63.5" cy="170.8" r="2.00"/><circle cx="64.0" cy="171.6" r="2.00"/><circle cx="64.5" cy="171.7" r="2.00"/><circle cx="65.0" cy="170.6" r="2.00"/><circle cx="65.5" cy="171.4" r="2.00"/><circle cx="66.0" cy="171.4" r="2.00"/><circle cx="66.5" cy="173.6" r="2.00"/><circle cx="67.0" cy="174.1" r="2.00"/><circle cx="67.5" cy="174.0" r="2.00"/><circle cx="68.0" cy="175.9" r="2.00"/><circle cx="68.5" cy="175.8" r="2.00"/><circle cx="69.0" cy="175.9" r="2.00"/><circle cx="69.5" cy="175.8" r="2.00"/><circle cx="70.0" cy="175.1" r="2.00"/><circle cx="70.5" cy="174.9" r="2.00"/><circle cx="71.0" cy="175.3" r="2.00"/><circle cx="71.5" cy="174.6" r="2.00"/><circle cx="72.0" cy="173.7" r="2.00"/><circle cx="72.5" cy="175.0" r="2.00"/><circle cx="73.0" cy="173.3" r="2.00"/><circle cx="73.5" cy="172.7" r="2.00"/><circle cx="74.0" cy="172.3" r="2.00"/><circle cx="74.5" cy="172.7" r="2.00"/><circle cx="75.0" cy="172.5" r="2.00"/><circle cx="75.5" cy="171.7" r="2.00"/><circle cx="76.0" cy="171.8" r="2.00"/><circle cx="76.5" cy="170.3" r="2.00"/><circle cx="77.0" cy="170.8" r="2.00"/><circle cx="77.5" cy="170.7" r="2.00"/><circle cx="78.0" cy="171.0" r="2.00"/><circle cx="78.5" cy="171.3" r="2.00"/><circle cx="79.0" cy="170.0" r="2.00"/><circle cx="79.5" cy="172.9" r="2.00"/><circle cx="80.0" cy="170.8" r="2.00"/><circle cx="80.5" cy="171.6" r="2.00"/><circle cx="81.0" cy="172.0" r="2.00"/><circle cx="81.5" cy="172.1" r="2.00"/><circle cx="82.0" cy="172.0" r="2.00"/><circle cx="82.5" cy="170.4" r="2.00"/><circle cx="83.0" cy="171.6" r="2.00"/><circle cx="83.5" cy="172.8" r="2.00"/><circle cx="84.0" cy="172.0" r="2.00"/><circle cx="84.5" cy="172.2" r="2.00"/><circle cx="85.0" cy="171.7" r="2.00"/><circle cx="85.5" cy="174.0" r="2.00"/><circle cx="86.0" cy="173.9" r="2.00"/><circle cx="86.5" cy="173.5" r="2.00"/><circle cx="87.0" cy="174.3" r="2.00"/><circle cx="87.5" cy="174.7" r="2.00"/><circle cx="88.0" cy="174.6" r="2.00"/><circle cx="88.5" cy="175.5" r="2.00"/><circle cx="89.0" cy="176.3" r="2.00"/><circle cx="89.5" cy="177.0" r="2.00"/><circle cx="90.0" cy="178.1" r="2.00"/><circle cx="90.5" cy="178.2" r="2.00"/><circle cx="91.0" cy="178.9" r="2.00"/><circle cx="91.5" cy="180.3" r="2.00"/><circle cx="92.0" cy="180.6" r="2.00"/><circle cx="92.5" cy="181.2" r="2.00"/><circle cx="93.0" cy="183.4" r="2.00"/><circle cx="93.5" cy="183.5" r="2.00"/><circle cx="94.0" cy="184.7" r="2.00"/><circle cx="94.5" cy="186.0" r="2.00"/><circle cx="95.0" cy="186.0" r="2.00"/><circle cx="95.5" cy="188.1" r="2.00"/><circle cx="96.0" cy="189.1" r="2.00"/><circle cx="96.5" cy="190.0" r="2.00"/><circle cx="97.0" cy="191.6" r="2.00"/><circle cx="97.5" cy="192.2" r="2.00"/><circle cx="98.0" cy="192.8" r="2.00"/><circle cx="98.5" cy="195.2" r="2.00"/><circle cx="99.0" cy="196.3" r="2.00"/><circle cx="99.5" cy="198.5" r="2.00"/><circle cx="100.0" cy="198.7" r="2.00"/><circle cx="100.5" cy="199.7" r="2.00"/><circle cx="101.0" cy="201.4" r="2.00"/><circle cx="101.5" cy="203.8" r="2.00"/><circle cx="102.0" cy="203.2" r="2.00"/><circle cx="102.5" cy="201.9" r="2.00"/><circle cx="103.0" cy="200.9" r="2.00"/><circle cx="103.5" cy="199.8" r="2.00"/><circle cx="104.0" cy="199.1" r="2.00"/><circle cx="104.5" cy="198.6" r="2.00"/><circle cx="105.0" cy="197.9" r="2.00"/><circle cx="105.5" cy="197.6" r="2.00"/><circle cx="106.0" cy="196.9" r="2.00"/><circle cx="106.5" cy="196.8" r="2.00"/><circle cx="107.0" cy="197.2" r="2.00"/><circle cx="107.5" cy="198.2" r="2.00"/><circle cx="108.0" cy="199.5" r="2.00"/><circle cx="108.5" cy="200.5" r="2.00"/><circle cx="109.0" cy="201.0" r="2.00"/><circle cx="109.5" cy="202.1" r="2.00"/><circle cx="110.0" cy="204.3" r="2.00"/><circle cx="110.5" cy="205.8" r="2.00"/><circle cx="111.0" cy="206.9" r="2.00"/><circle cx="111.5" cy="209.5" r="2.00"/><circle cx="112.0" cy="209.5" r="2.00"/><circle cx="112.5" cy="207.7" r="2.00"/><circle cx="113.0" cy="205.6" r="2.00"/><circle cx="113.5" cy="204.2" r="2.00"/><circle cx="114.0" cy="202.9" r="2.00"/><circle cx="114.5" cy="201.7" r="2.00"/><circle cx="115.0" cy="201.7" r="2.00"/><circle cx="115.5" cy="201.9" r="2.00"/><circle cx="116.0" cy="203.0" r="2.00"/><circle cx="116.5" cy="203.4" r="2.00"/><circle cx="117.0" cy="204.4" r="2.00"/><circle cx="117.5" cy="206.4" r="2.00"/><circle cx="118.0" cy="208.1" r="2.00"/><circle cx="118.5" cy="210.0" r="2.00"/><circle cx="119.0" cy="211.8" r="2.00"/><circle cx="119.5" cy="213.1" r="2.00"/><circle cx="120.0" cy="215.7" r="2.00"/><circle cx="120.5" cy="218.1" r="2.00"/><circle cx="121.0" cy="220.9" r="2.00"/><circle cx="121.5" cy="218.2" r="2.00"/><circle cx="122.0" cy="217.0" r="2.00"/><circle cx="122.5" cy="215.4" r="2.00"/><circle cx="123.0" cy="213.6" r="2.00"/><circle cx="123.5" cy="212.6" r="2.00"/><circle cx="124.0" cy="211.9" r="2.00"/><circle cx="124.5" cy="210.8" r="2.00"/><circle cx="125.0" cy="210.6" r="2.00"/><circle cx="125.5" cy="210.5" r="2.00"/><circle cx="126.0" cy="210.7" r="2.00"/><circle cx="126.5" cy="211.5" r="2.00"/><circle cx="127.0" cy="212.3" r="2.00"/><circle cx="127.5" cy="214.0" r="2.00"/><circle cx="128.0" cy="214.9" r="2.00"/><circle cx="128.5" cy="216.5" r="2.00"/><circle cx="129.0" cy="218.7" r="2.00"/><circle cx="129.5" cy="220.3" r="2.00"/><circle cx="130.0" cy="222.9" r="2.00"/><circle cx="130.5" cy="225.4" r="2.00"/><circle cx="131.0" cy="227.7" r="2.00"/><circle cx="131.5" cy="230.4" r="2.00"/><circle cx="132.0" cy="228.4" r="2.00"/><circle cx="132.5" cy="225.3" r="2.00"/><circle cx="133.0" cy="221.8" r="2.00"/><circle cx="133.5" cy="219.3" r="2.00"/><circle cx="134.0" cy="218.0" r="2.00"/><circle cx="134.5" cy="216.0" r="2.00"/><circle cx="135.0" cy="214.0" r="2.00"/><circle cx="135.5" cy="213.5" r="2.00"/><circle cx="136.0" cy="214.1" r="2.00"/><circle cx="136.5" cy="215.0" r="2.00"/><circle cx="137.0" cy="217.3" r="2.00"/><circle cx="137.5" cy="219.6" r="2.00"/><circle cx="138.0" cy="222.8" r="2.00"/><circle cx="138.5" cy="225.8" r="2.00"/><circle cx="139.0" cy="230.3" r="2.00"/><circle cx="139.5" cy="235.1" r="2.00"/><circle cx="140.0" cy="239.1" r="2.00"/><circle cx="140.5" cy="245.0" r="2.00"/><circle cx="141.0" cy="250.5" r="2.00"/><circle cx="141.5" cy="256.4" r="2.00"/><circle cx="142.0" cy="262.6" r="2.00"/><circle cx="142.5" cy="263.8" r="2.00"/><circle cx="143.0" cy="257.9" r="2.00"/><circle cx="143.5" cy="252.8" r="2.00"/><circle cx="144.0" cy="247.6" r="2.00"/><circle cx="144.5" cy="243.0" r="2.00"/><circle cx="145.0" cy="238.6" r="2.00"/><circle cx="145.5" cy="234.8" r="2.00"/><circle cx="146.0" cy="231.2" r="2.00"/><circle cx="146.5" cy="228.2" r="2.00"/><circle cx="147.0" cy="226.5" r="2.00"/><circle cx="147.5" cy="225.2" r="2.00"/><circle cx="148.0" cy="224.6" r="2.00"/><circle cx="148.5" cy="224.6" r="2.00"/><circle cx="149.0" cy="225.6" r="2.00"/><circle cx="149.5" cy="226.4" r="2.00"/><circle cx="150.0" cy="228.2" r="2.00"/><circle cx="150.5" cy="229.5" r="2.00"/><circle cx="151.0" cy="231.5" r="2.00"/><circle cx="151.5" cy="233.7" r="2.00"/><circle cx="152.0" cy="235.9" r="2.00"/><circle cx="152.5" cy="238.6" r="2.00"/><circle cx="153.0" cy="240.5" r="2.00"/><circle cx="153.5" cy="239.6" r="2.00"/><circle cx="154.0" cy="238.0" r="2.00"/><circle cx="154.5" cy="235.7" r="2.00"/><circle cx="155.0" cy="233.6" r="2.00"/><circle cx="155.5" cy="231.3" r="2.00"/><circle cx="156.0" cy="229.7" r="2.00"/><circle cx="156.5" cy="228.1" r="2.00"/><circle cx="157.0" cy="226.5" r="2.00"/><circle cx="157.5" cy="225.9" r="2.00"/><circle cx="158.0" cy="225.8" r="2.00"/><circle cx="158.5" cy="225.7" r="2.00"/><circle cx="159.0" cy="227.3" r="2.00"/><circle cx="159.5" cy="227.4" r="2.00"/><circle cx="160.0" cy="229.2" r="2.00"/><circle cx="160.5" cy="231.4" r="2.00"/><circle cx="161.0" cy="233.0" r="2.00"/><circle cx="161.5" cy="235.2" r="2.00"/><circle cx="162.0" cy="237.7" r="2.00"/><circle cx="162.5" cy="240.7" r="2.00"/><circle cx="163.0" cy="244.5" r="2.00"/><circle cx="163.5" cy="247.5" r="2.00"/><circle cx="164.0" cy="251.0" r="2.00"/><circle cx="164.5" cy="254.4" r="2.00"/><circle cx="165.0" cy="255.9" r="2.00"/><circle cx="165.5" cy="252.6" r="2.00"/><circle cx="166.0" cy="249.4" r="2.00"/><circle cx="166.5" cy="246.9" r="2.00"/><circle cx="167.0" cy="244.5" r="2.00"/><circle cx="167.5" cy="242.5" r="2.00"/><circle cx="168.0" cy="240.0" r="2.00"/><circle cx="168.5" cy="238.3" r="2.00"/><circle cx="169.0" cy="237.1" r="2.00"/><circle cx="169.5" cy="234.8" r="2.00"/><circle cx="170.0" cy="233.5" r="2.00"/><circle cx="170.5" cy="233.2" r="2.00"/><circle cx="171.0" cy="232.5" r="2.00"/><circle cx="171.5" cy="232.3" r="2.00"/><circle cx="172.0" cy="233.0" r="2.00"/><circle cx="172.5" cy="233.9" r="2.00"/><circle cx="173.0" cy="235.7" r="2.00"/><circle cx="173.5" cy="237.2" r="2.00"/><circle cx="174.0" cy="239.7" r="2.00"/><circle cx="174.5" cy="241.5" r="2.00"/><circle cx="175.0" cy="244.3" r="2.00"/><circle cx="175.5" cy="247.6" r="2.00"/><circle cx="176.0" cy="250.7" r="2.00"/><circle cx="176.5" cy="254.5" r="2.00"/><circle cx="177.0" cy="258.0" r="2.00"/><circle cx="177.5" cy="255.4" r="2.00"/><circle cx="178.0" cy="253.3" r="2.00"/><circle cx="178.5" cy="250.9" r="2.00"/><circle cx="179.0" cy="248.6" r="2.00"/><circle cx="179.5" cy="247.0" r="2.00"/><circle cx="180.0" cy="245.5" r="2.00"/><circle cx="180.5" cy="244.3" r="2.00"/><circle cx="181.0" cy="243.3" r="2.00"/><circle cx="181.5" cy="242.6" r="2.00"/><circle cx="182.0" cy="241.9" r="2.00"/><circle cx="182.5" cy="242.0" r="2.00"/><circle cx="183.0" cy="242.1" r="2.00"/><circle cx="183.5" cy="242.4" r="2.00"/><circle cx="184.0" cy="243.9" r="2.00"/><circle cx="184.5" cy="245.1" r="2.00"/><circle cx="185.0" cy="246.1" r="2.00"/><circle cx="185.5" cy="248.0" r="2.00"/><circle cx="186.0" cy="250.2" r="2.00"/><circle cx="186.5" cy="252.1" r="2.00"/><circle cx="187.0" cy="254.7" r="2.00"/><circle cx="187.5" cy="257.1" r="2.00"/><circle cx="188.0" cy="259.9" r="2.00"/><circle cx="188.5" cy="262.5" r="2.00"/><circle cx="189.0" cy="265.8" r="2.00"/><circle cx="189.5" cy="267.3" r="2.00"/><circle cx="190.0" cy="263.6" r="2.00"/><circle cx="190.5" cy="259.1" r="2.00"/><circle cx="191.0" cy="256.3" r="2.00"/><circle cx="191.5" cy="253.4" r="2.00"/><circle cx="192.0" cy="250.4" r="2.00"/><circle cx="192.5" cy="247.7" r="2.00"/><circle cx="193.0" cy="245.7" r="2.00"/><circle cx="193.5" cy="243.6" r="2.00"/><circle cx="194.0" cy="242.2" r="2.00"/><circle cx="194.5" cy="241.5" r="2.00"/></g>
<polyline points="253.4,67.8 253.6,67.8 253.8,67.8 254.0,67.8 254.2,67.8 254.4,67.8 254.6,67.8 254.8,67.8 255.0,67.7 255.2,67.7 255.4,67.7 255.6,67.7 255.8,67.7 256.0,67.7 256.2,67.7 256.4,67.7 256.6,67.7 256.8,67.6 257.0,67.6 257.2,67.6 257.4,67.6 257.6,67.6 257.8,67.6 258.0,67.5 258.2,67.5 258.4,67.5 258.6,67.5 258.8,67.5 259.0,67.4 259.2,67.4 259.4,67.4 259.6,67.4 259.8,67.4 260.0,67.3 260.2,67.3 260.4,67.3 260.6,67.3 260.8,67.2 261.0,67.2 261.2,67.2 261.4,67.2 261.6,67.1 261.8,67.1 262.0,67.1 262.2,67.0 262.4,67.0 262.6,66.9 262.8,66.9 263.0,66.9 263.2,66.8 263.4,66.8 263.6,66.7 263.8,66.7 264.0,66.6 264.2,66.5 264.4,66.5 264.6,66.4 264.8,66.3 265.0,66.3 265.2,66.2 265.4,66.1 265.6,66.0 265.8,65.9 266.0,65.8 266.2,65.8 266.4,65.7 266.6,65.6 266.8,65.4 267.0,65.3 267.2,65.2 267.4,65.0 267.6,64.8 267.8,64.6 268.0,64.3 268.2,64.0 268.4,63.7 268.6,63.4 268.8,63.0 269.0,62.7 269.2,62.2 269.4,61.8 269.6,61.4 269.8,60.9 270.0,60.4 270.2,59.9 270.4,59.3 270.6,58.7 270.8,57.9 271.0,57.0 271.2,56.0 271.4,54.9 271.6,53.7 271.8,52.3 272.0,50.9 272.2,49.5 272.4,48.0 272.6,46.4 272.8,44.8 273.0,43.1 273.2,41.5 273.4,39.6 273.6,37.4 273.8,34.8 274.0,32.2 274.2,29.5 274.4,26.8 274.6,24.3 274.8,22.1 275.0,20.3 275.2,18.9 275.4,17.8 275.6,16.8 275.8,16.0 276.0,15.4 276.2,15.2 276.4,15.6 276.6,16.8 276.8,18.6 277.0,20.6 277.2,22.7 277.4,24.6 277.6,26.4 277.8,28.5 278.0,30.7 278.2,32.9 278.4,35.3 278.6,37.6 278.8,39.9 279.0,42.1 279.2,44.2 279.4,46.0 279.6,47.7 279.8,49.0 280.0,50.2 280.2,51.3 280.4,52.3 280.6,53.4 280.8,54.3 281.0,55.2 281.2,56.1 281.4,56.8 281.6,57.6 281.8,58.2 282.0,58.8 282.2,59.3 282.4,59.8 282.6,60.2 282.8,60.7 283.0,61.1 283.2,61.5 283.4,61.9 283.6,62.2 283.8,62.5 284.0,62.8 284.2,63.1 284.4,63.3 284.6,63.4 284.8,63.5 285.0,63.6 285.2,63.5 285.4,63.5 285.6,63.3 285.8,63.2 286.0,63.0 286.2,62.8 286.4,62.5 286.6,62.2 286.8,61.9 287.0,61.6 287.2,61.3 287.4,61.0 287.6,60.7 287.8,60.4 288.0,60.1 288.2,59.8 288.4,59.4 288.6,59.0 288.8,58.6 289.0,58.1 289.2,57.7 289.4,57.2 289.6,56.7 289.8,56.2 290.0,55.7 290.2,55.2 290.4,54.7 290.6,54.1 290.8,53.6 291.0,53.0 291.2,52.5 291.4,51.9 291.6,51.4 291.8,50.8 292.0,50.3 292.2,49.7 292.4,49.1 292.6,48.6 292.8,48.1 293.0,47.5 293.2,46.9 293.4,46.4 293.6,45.7 293.8,45.1 294.0,44.5 294.2,43.9 294.4,43.2 294.6,42.5 294.8,41.9 295.0,41.2 295.2,40.6 295.4,39.9 295.6,39.2 295.8,38.6 296.0,38.0 296.2,37.3 296.4,36.7 296.6,36.1 296.8,35.5 297.0,35.0 297.2,34.4 297.4,33.9 297.6,33.4 297.8,33.0 298.0,32.5 298.2,32.1 298.4,31.7 298.6,31.3 298.8,30.8 299.0,30.4 299.2,30.0 299.4,29.5 299.6,29.1 299.8,28.7 300.0,28.3 300.2,27.9 300.4,27.5 300.6,27.2 300.8,26.9 301.0,26.6 301.2,26.3 301.4,26.1 301.6,25.9 301.8,25.7 302.0,25.6 302.2,25.5 302.4,25.5 302.6,25.5 302.8,25.6 303.0,25.7 303.2,25.9 303.4,26.2 303.6,26.4 303.8,26.7 304.0,27.0 304.2,27.4 304.4,27.8 304.6,28.1 304.8,28.5 305.0,29.0 305.2,29.4 305.4,29.8 305.6,30.2 305.8,30.6 306.0,31.1 306.2,31.7 306.4,32.3 306.6,33.0 306.8,33.7 307.0,34.4 307.2,35.2 307.4,36.0 307.6,36.8 307.8,37.6 308.0,38.5 308.2,39.3 308.4,40.2 308.6,41.0 308.8,41.9 309.0,42.7 309.2,43.5 309.4,44.3 309.6,45.1 309.8,45.8 310.0,46.5 310.2,47.1 310.4,47.7 310.6,48.4 310.8,49.0 311.0,49.6 311.2,50.3 311.4,50.9 311.6,51.5 311.8,52.1 312.0,52.7 312.2,53.3 312.4,53.9 312.6,54.5 312.8,55.0 313.0,55.5 313.2,56.0 313.4,56.5 313.6,57.0 313.8,57.4 314.0,57.8 314.2,58.1 314.4,58.4 314.6,58.7 314.8,59.0 315.0,59.3 315.2,59.5 315.4,59.8 315.6,60.1 315.8,60.3 316.0,60.6 316.2,60.8 316.4,61.0 316.6,61.2 316.8,61.4 317.0,61.6 317.2,61.7 317.4,61.8 317.6,61.9 317.8,62.0 318.0,62.0 318.2,62.0 318.4,61.9 318.6,61.9 318.8,61.9 319.0,61.8 319.2,61.7 319.4,61.7 319.6,61.6 319.8,61.5 320.0,61.4 320.2,61.2 320.4,61.1 320.6,61.0 320.8,60.8 321.0,60.7 321.2,60.6 321.4,60.4 321.6,60.3 321.8,60.1 322.0,60.0 322.2,59.8 322.4,59.6 322.6,59.5 322.8,59.3 323.0,59.2 323.2,59.0 323.4,58.8 323.6,58.6 323.8,58.4 324.0,58.2 324.2,58.0 324.4,57.7 324.6,57.5 324.8,57.2 325.0,57.0 325.2,56.7 325.4,56.4 325.6,56.2 325.8,55.9 326.0,55.6 326.2,55.3 326.4,55.0 326.6,54.7 326.8,54.4 327.0,54.1 327.2,53.8 327.4,53.5 327.6,53.2 327.8,52.8 328.0,52.5 328.2,52.2 328.4,51.9 328.6,51.6 328.8,51.3 329.0,51.0 329.2,50.8 329.4,50.5 329.6,50.2 329.8,49.9 330.0,49.7 330.2,49.4 330.4,49.1 330.6,48.8 330.8,48.5 331.0,48.2 331.2,47.9 331.4,47.6 331.6,47.3 331.8,47.0 332.0,46.7 332.2,46.5 332.4,46.2 332.6,45.9 332.8,45.6 333.0,45.3 333.2,45.0 333.4,44.8 333.6,44.5 333.8,44.3 334.0,44.0 334.2,43.8 334.4,43.6 334.6,43.4 334.8,43.2 335.0,43.0 335.2,42.9 335.4,42.7 335.6,42.6 335.8,42.4 336.0,42.3 336.2,42.1 336.4,42.0 336.6,41.9 336.8,41.8 337.0,41.7 337.2,41.6 337.4,41.5 337.6,41.5 337.8,41.5 338.0,41.5 338.2,41.6 338.4,41.7 338.6,41.8 338.8,42.0 339.0,42.2 339.2,42.5 339.4,42.7 339.6,43.0 339.8,43.3 340.0,43.6 340.2,43.9 340.4,44.2 340.6,44.5 340.8,44.8 341.0,45.1 341.2,45.4 341.4,45.8 341.6,46.2 341.8,46.6 342.0,47.1 342.2,47.6 342.4,48.0 342.6,48.5 342.8,49.1 343.0,49.6 343.2,50.1 343.4,50.6 343.6,51.1 343.8,51.6 344.0,52.1 344.2,52.6 344.4,53.1 344.6,53.6 344.8,54.0 345.0,54.4 345.2,54.8 345.4,55.1 345.6,55.4 345.8,55.8 346.0,56.1 346.2,56.4 346.4,56.7 346.6,57.0 346.8,57.3 347.0,57.6 347.2,57.9 347.4,58.2 347.6,58.5 347.8,58.7 348.0,59.0 348.2,59.2 348.4,59.4 348.6,59.7 348.8,59.8 349.0,60.0 349.2,60.2 349.4,60.3 349.6,60.4 349.8,60.5 350.0,60.6 350.2,60.7 350.4,60.8 350.6,61.0 350.8,61.1 351.0,61.1 351.2,61.2 351.4,61.3 351.6,61.4 351.8,61.4 352.0,61.5 352.2,61.5 352.4,61.6 352.6,61.6 352.8,61.6 353.0,61.6 353.2,61.6 353.4,61.5 353.6,61.5 353.8,61.5 354.0,61.4 354.2,61.3 354.4,61.3 354.6,61.2 354.8,61.1 355.0,61.0 355.2,60.9 355.4,60.8 355.6,60.7 355.8,60.6 356.0,60.5 356.2,60.4 356.4,60.3 356.6,60.1 356.8,60.0 357.0,59.9 357.2,59.8 357.4,59.7 357.6,59.6 357.8,59.5 358.0,59.4 358.2,59.3 358.4,59.2 358.6,59.1 358.8,59.0 359.0,58.9 359.2,58.8 359.4,58.7 359.6,58.6 359.8,58.4 360.0,58.3 360.2,58.2 360.4,58.1 360.6,57.9 360.8,57.8 361.0,57.7 361.2,57.6 361.4,57.4 361.6,57.3 361.8,57.2 362.0,57.1 362.2,57.0 362.4,56.8 362.6,56.7 362.8,56.6 363.0,56.5 363.2,56.4 363.4,56.3 363.6,56.2 363.8,56.1 364.0,56.1 364.2,56.0 364.4,55.9 364.6,55.8 364.8,55.8 365.0,55.7 365.2,55.6 365.4,55.6 365.6,55.5 365.8,55.5 366.0,55.4 366.2,55.4 366.4,55.3 366.6,55.2 366.8,55.2 367.0,55.1 367.2,55.1 367.4,55.0 367.6,55.0 367.8,54.9 368.0,54.9 368.2,54.8 368.4,54.8 368.6,54.7 368.8,54.7 369.0,54.7 369.2,54.6 369.4,54.6 369.6,54.6 369.8,54.5 370.0,54.5 370.2,54.5 370.4,54.5 370.6,54.5 370.8,54.5 371.0,54.5 371.2,54.5 371.4,54.5 371.6,54.5 371.8,54.5 372.0,54.5 372.2,54.5 372.4,54.5 372.6,54.5 372.8,54.5 373.0,54.6 373.2,54.6 373.4,54.6 373.6,54.7 373.8,54.7 374.0,54.7 374.2,54.8 374.4,54.8 374.6,54.8 374.8,54.9 375.0,54.9 375.2,55.0 375.4,55.0 375.6,55.0 375.8,55.1 376.0,55.1 376.2,55.2 376.4,55.2 376.6,55.3 376.8,55.3 377.0,55.4 377.2,55.4 377.4,55.5 377.6,55.5 377.8,55.6 378.0,55.6 378.2,55.7 378.4,55.7 378.6,55.8 378.8,55.8 379.0,55.9 379.2,55.9 379.4,56.0 379.6,56.0 379.8,56.1 380.0,56.1 380.2,56.1 380.4,56.2 380.6,56.2 380.8,56.3 381.0,56.3 381.2,56.4 381.4,56.5 381.6,56.5 381.8,56.6 382.0,56.6 382.2,56.7 382.4,56.7 382.6,56.8 382.8,56.9 383.0,56.9 383.2,57.0 383.4,57.1 383.6,57.1 383.8,57.2 384.0,57.2 384.2,57.3 384.4,57.4 384.6,57.4 384.8,57.5 385.0,57.5 385.2,57.6 385.4,57.7 385.6,57.7 385.8,57.8 386.0,57.8 386.2,57.9 386.4,57.9 386.6,58.0 386.8,58.0 387.0,58.1 387.2,58.1 387.4,58.2 387.6,58.2 387.8,58.2 388.0,58.3 388.2,58.3 388.4,58.3 388.6,58.4 388.8,58.4 389.0,58.4 389.2,58.4 389.4,58.5 389.6,58.5 389.8,58.5 390.0,58.5 390.2,58.6 390.4,58.6 390.6,58.6 390.8,58.6 391.0,58.7 391.2,58.7 391.4,58.7 391.6,58.7 391.8,58.8 392.0,58.8 392.2,58.8 392.4,58.8 392.6,58.8 392.8,58.9 393.0,58.9 393.2,58.9 393.4,58.9 393.6,58.9 393.8,58.9 394.0,59.0 394.2,59.0 394.4,59.0 394.6,59.0 394.8,59.0 395.0,59.0 395.2,59.0 395.4,59.0 395.6,59.0 395.8,59.0 396.0,59.0 396.2,59.1 396.4,59.1 396.6,59.1 396.8,59.1 397.0,59.1 397.2,59.1 397.4,59.1 397.6,59.0 397.8,59.0 398.0,59.0 398.2,59.0 398.4,59.0 398.6,59.0 398.8,59.0 399.0,59.0 399.2,59.0 399.4,59.0 399.6,58.9 399.8,58.9 400.0,58.9 400.2,58.9 400.4,58.9 400.6,58.9 400.8,58.8 401.0,58.8 401.2,58.8 401.4,58.8 401.6,58.7 401.8,58.7 402.0,58.7 402.2,58.7 402.4,58.6 402.6,58.6 402.8,58.6 403.0,58.5 403.2,58.5 403.4,58.5 403.6,58.4 403.8,58.4 404.0,58.4 404.2,58.3 404.4,58.3 404.6,58.2 404.8,58.2 405.0,58.2 405.2,58.1 405.4,58.1 405.6,58.0 405.8,58.0 406.0,57.9 406.2,57.9 406.4,57.8 406.6,57.8 406.8,57.7" fill="none" stroke="#000" stroke-width="1.20" stroke-linejoin="round"/>
<g fill="#ffffff" stroke="#000" stroke-width="1.10"><circle cx="254.0" cy="67.3" r="1.70"/><circle cx="254.6" cy="67.4" r="1.70"/><circle cx="255.1" cy="67.1" r="1.70"/><circle cx="255.7" cy="67.3" r="1.70"/><circle cx="256.2" cy="66.9" r="1.70"/><circle cx="256.8" cy="66.9" r="1.70"/><circle cx="257.4" cy="67.0" r="1.70"/><circle cx="257.9" cy="67.1" r="1.70"/><circle cx="258.5" cy="66.7" r="1.70"/><circle cx="259.0" cy="66.4" r="1.70"/><circle cx="259.6" cy="66.7" r="1.70"/><circle cx="260.2" cy="66.5" r="1.70"/><circle cx="260.7" cy="66.3" r="1.70"/><circle cx="261.3" cy="66.1" r="1.70"/><circle cx="261.8" cy="66.0" r="1.70"/><circle cx="262.4" cy="66.0" r="1.70"/><circle cx="263.0" cy="65.8" r="1.70"/><circle cx="263.5" cy="65.2" r="1.70"/><circle cx="264.1" cy="65.5" r="1.70"/><circle cx="264.6" cy="64.8" r="1.70"/><circle cx="265.2" cy="64.4" r="1.70"/><circle cx="265.8" cy="64.1" r="1.70"/><circle cx="266.3" cy="63.5" r="1.70"/><circle cx="266.9" cy="63.4" r="1.70"/><circle cx="267.4" cy="62.5" r="1.70"/><circle cx="268.0" cy="61.4" r="1.70"/><circle cx="268.6" cy="60.3" r="1.70"/><circle cx="269.1" cy="58.9" r="1.70"/><circle cx="269.7" cy="57.4" r="1.70"/><circle cx="270.2" cy="55.8" r="1.70"/><circle cx="270.8" cy="53.1" r="1.70"/><circle cx="271.4" cy="50.1" r="1.70"/><circle cx="271.9" cy="46.1" r="1.70"/><circle cx="272.5" cy="42.0" r="1.70"/><circle cx="273.0" cy="37.7" r="1.70"/><circle cx="273.6" cy="31.0" r="1.70"/><circle cx="274.2" cy="24.5" r="1.70"/><circle cx="274.7" cy="19.3" r="1.70"/><circle cx="275.3" cy="16.3" r="1.70"/><circle cx="275.8" cy="14.2" r="1.70"/><circle cx="276.4" cy="14.1" r="1.70"/><circle cx="277.0" cy="17.2" r="1.70"/><circle cx="277.5" cy="21.6" r="1.70"/><circle cx="278.1" cy="25.6" r="1.70"/><circle cx="278.6" cy="30.0" r="1.70"/><circle cx="279.2" cy="34.7" r="1.70"/><circle cx="279.8" cy="37.9" r="1.70"/><circle cx="280.3" cy="41.3" r="1.70"/><circle cx="280.9" cy="44.5" r="1.70"/><circle cx="281.2" cy="45.7" r="1.70"/><circle cx="282.2" cy="48.2" r="1.70"/><circle cx="283.2" cy="50.1" r="1.70"/><circle cx="284.2" cy="51.2" r="1.70"/><circle cx="285.2" cy="51.7" r="1.70"/><circle cx="286.2" cy="52.0" r="1.70"/><circle cx="287.2" cy="51.2" r="1.70"/><circle cx="288.2" cy="50.2" r="1.70"/><circle cx="289.2" cy="49.2" r="1.70"/><circle cx="290.2" cy="47.8" r="1.70"/><circle cx="291.2" cy="46.4" r="1.70"/><circle cx="292.2" cy="44.7" r="1.70"/><circle cx="293.2" cy="42.3" r="1.70"/><circle cx="294.2" cy="40.4" r="1.70"/><circle cx="295.2" cy="37.5" r="1.70"/><circle cx="296.2" cy="34.8" r="1.70"/><circle cx="297.2" cy="32.8" r="1.70"/><circle cx="298.2" cy="30.7" r="1.70"/><circle cx="299.2" cy="29.0" r="1.70"/><circle cx="300.2" cy="27.6" r="1.70"/><circle cx="301.2" cy="26.0" r="1.70"/><circle cx="302.2" cy="25.4" r="1.70"/><circle cx="303.2" cy="25.9" r="1.70"/><circle cx="304.2" cy="27.2" r="1.70"/><circle cx="305.2" cy="28.8" r="1.70"/><circle cx="306.2" cy="30.4" r="1.70"/><circle cx="307.2" cy="33.3" r="1.70"/><circle cx="308.2" cy="37.1" r="1.70"/><circle cx="309.2" cy="41.3" r="1.70"/><circle cx="310.2" cy="44.8" r="1.70"/><circle cx="311.2" cy="47.8" r="1.70"/><circle cx="312.2" cy="50.9" r="1.70"/><circle cx="313.2" cy="53.5" r="1.70"/><circle cx="314.2" cy="56.0" r="1.70"/><circle cx="315.2" cy="57.7" r="1.70"/><circle cx="316.2" cy="59.0" r="1.70"/><circle cx="317.2" cy="60.4" r="1.70"/><circle cx="318.2" cy="61.1" r="1.70"/><circle cx="319.2" cy="60.8" r="1.70"/><circle cx="320.2" cy="60.7" r="1.70"/><circle cx="321.2" cy="60.1" r="1.70"/><circle cx="322.2" cy="59.4" r="1.70"/><circle cx="323.2" cy="58.5" r="1.70"/><circle cx="324.2" cy="57.6" r="1.70"/><circle cx="325.2" cy="56.7" r="1.70"/><circle cx="326.2" cy="55.2" r="1.70"/><circle cx="327.2" cy="53.5" r="1.70"/><circle cx="328.2" cy="52.2" r="1.70"/><circle cx="329.2" cy="51.0" r="1.70"/><circle cx="330.2" cy="49.4" r="1.70"/><circle cx="331.2" cy="48.1" r="1.70"/><circle cx="332.2" cy="46.9" r="1.70"/><circle cx="333.2" cy="45.1" r="1.70"/><circle cx="334.2" cy="43.9" r="1.70"/><circle cx="335.2" cy="42.7" r="1.70"/><circle cx="336.2" cy="41.9" r="1.70"/><circle cx="337.2" cy="41.5" r="1.70"/><circle cx="338.2" cy="41.0" r="1.70"/><circle cx="339.2" cy="41.4" r="1.70"/><circle cx="340.2" cy="42.7" r="1.70"/><circle cx="341.2" cy="44.3" r="1.70"/><circle cx="342.2" cy="46.3" r="1.70"/><circle cx="343.2" cy="48.5" r="1.70"/><circle cx="344.2" cy="51.3" r="1.70"/><circle cx="345.2" cy="53.4" r="1.70"/><circle cx="346.2" cy="55.2" r="1.70"/><circle cx="347.2" cy="56.7" r="1.70"/><circle cx="348.2" cy="58.1" r="1.70"/><circle cx="349.2" cy="59.0" r="1.70"/><circle cx="350.2" cy="59.7" r="1.70"/><circle cx="351.2" cy="60.5" r="1.70"/><circle cx="352.2" cy="60.7" r="1.70"/><circle cx="353.2" cy="61.1" r="1.70"/><circle cx="354.2" cy="61.0" r="1.70"/><circle cx="355.2" cy="60.7" r="1.70"/><circle cx="356.2" cy="60.1" r="1.70"/><circle cx="357.2" cy="59.6" r="1.70"/><circle cx="358.2" cy="59.2" r="1.70"/><circle cx="359.2" cy="58.5" r="1.70"/><circle cx="360.2" cy="58.1" r="1.70"/><circle cx="361.2" cy="57.6" r="1.70"/><circle cx="362.2" cy="57.0" r="1.70"/><circle cx="363.2" cy="56.3" r="1.70"/><circle cx="364.2" cy="55.9" r="1.70"/><circle cx="365.2" cy="55.3" r="1.70"/><circle cx="366.2" cy="55.5" r="1.70"/><circle cx="367.2" cy="55.0" r="1.70"/><circle cx="368.2" cy="54.8" r="1.70"/><circle cx="369.2" cy="54.4" r="1.70"/><circle cx="370.2" cy="54.4" r="1.70"/><circle cx="371.2" cy="54.4" r="1.70"/><circle cx="372.2" cy="54.5" r="1.70"/><circle cx="373.2" cy="54.3" r="1.70"/><circle cx="374.2" cy="54.8" r="1.70"/><circle cx="375.2" cy="54.8" r="1.70"/><circle cx="376.2" cy="54.9" r="1.70"/><circle cx="377.2" cy="55.3" r="1.70"/><circle cx="378.2" cy="55.5" r="1.70"/><circle cx="379.2" cy="55.7" r="1.70"/><circle cx="380.2" cy="55.8" r="1.70"/><circle cx="381.2" cy="56.2" r="1.70"/><circle cx="382.2" cy="56.5" r="1.70"/><circle cx="383.2" cy="56.8" r="1.70"/><circle cx="384.2" cy="57.0" r="1.70"/><circle cx="385.2" cy="57.3" r="1.70"/><circle cx="386.2" cy="57.8" r="1.70"/><circle cx="387.2" cy="58.1" r="1.70"/><circle cx="388.2" cy="58.1" r="1.70"/><circle cx="389.2" cy="58.5" r="1.70"/><circle cx="390.2" cy="58.4" r="1.70"/><circle cx="391.2" cy="58.3" r="1.70"/><circle cx="392.2" cy="58.6" r="1.70"/><circle cx="393.2" cy="58.5" r="1.70"/><circle cx="394.2" cy="58.8" r="1.70"/><circle cx="395.2" cy="58.9" r="1.70"/><circle cx="396.2" cy="58.7" r="1.70"/><circle cx="397.2" cy="58.8" r="1.70"/><circle cx="398.2" cy="59.1" r="1.70"/><circle cx="399.2" cy="58.7" r="1.70"/><circle cx="400.2" cy="58.6" r="1.70"/><circle cx="401.2" cy="58.6" r="1.70"/><circle cx="402.2" cy="58.3" r="1.70"/><circle cx="403.2" cy="58.2" r="1.70"/><circle cx="404.2" cy="58.1" r="1.70"/><circle cx="405.2" cy="57.5" r="1.70"/><circle cx="406.2" cy="57.8" r="1.70"/></g>
<polyline points="253.4,137.1 253.6,137.1 253.8,137.1 254.0,137.1 254.2,137.1 254.4,137.1 254.6,137.1 254.8,137.0 255.0,137.0 255.2,137.0 255.4,137.0 255.6,137.0 255.8,137.0 256.0,137.0 256.2,137.0 256.4,136.9 256.6,136.9 256.8,136.9 257.0,136.9 257.2,136.9 257.4,136.9 257.6,136.8 257.8,136.8 258.0,136.8 258.2,136.8 258.4,136.7 258.6,136.7 258.8,136.7 259.0,136.7 259.2,136.6 259.4,136.6 259.6,136.6 259.8,136.6 260.0,136.5 260.2,136.5 260.4,136.5 260.6,136.5 260.8,136.4 261.0,136.4 261.2,136.4 261.4,136.3 261.6,136.3 261.8,136.3 262.0,136.2 262.2,136.2 262.4,136.2 262.6,136.1 262.8,136.1 263.0,136.0 263.2,135.9 263.4,135.9 263.6,135.8 263.8,135.8 264.0,135.7 264.2,135.6 264.4,135.6 264.6,135.5 264.8,135.4 265.0,135.3 265.2,135.2 265.4,135.1 265.6,135.0 265.8,134.9 266.0,134.8 266.2,134.7 266.4,134.6 266.6,134.5 266.8,134.3 267.0,134.2 267.2,134.0 267.4,133.8 267.6,133.6 267.8,133.3 268.0,133.0 268.2,132.7 268.4,132.3 268.6,131.9 268.8,131.5 269.0,131.1 269.2,130.6 269.4,130.1 269.6,129.6 269.8,129.0 270.0,128.4 270.2,127.8 270.4,127.2 270.6,126.5 270.8,125.6 271.0,124.5 271.2,123.4 271.4,122.1 271.6,120.6 271.8,119.1 272.0,117.5 272.2,115.8 272.4,114.0 272.6,112.1 272.8,110.2 273.0,108.3 273.2,106.3 273.4,104.0 273.6,101.2 273.8,98.0 274.0,94.6 274.2,91.1 274.4,87.7 274.6,84.5 274.8,81.7 275.0,79.4 275.2,77.7 275.4,76.4 275.6,75.2 275.8,74.2 276.0,73.6 276.2,73.3 276.4,73.8 276.6,75.2 276.8,77.2 277.0,79.6 277.2,82.0 277.4,84.3 277.6,86.6 277.8,89.1 278.0,91.9 278.2,94.8 278.4,97.7 278.6,100.7 278.8,103.7 279.0,106.5 279.2,109.1 279.4,111.4 279.6,113.5 279.8,115.1 280.0,116.5 280.2,117.8 280.4,119.1 280.6,120.2 280.8,121.4 281.0,122.4 281.2,123.4 281.4,124.3 281.6,125.1 281.8,125.9 282.0,126.6 282.2,127.2 282.4,127.8 282.6,128.3 282.8,128.7 283.0,129.2 283.2,129.7 283.4,130.2 283.6,130.6 283.8,131.0 284.0,131.3 284.2,131.6 284.4,131.8 284.6,132.0 284.8,132.1 285.0,132.2 285.2,132.1 285.4,132.0 285.6,131.9 285.8,131.7 286.0,131.5 286.2,131.2 286.4,130.9 286.6,130.6 286.8,130.2 287.0,129.9 287.2,129.5 287.4,129.2 287.6,128.8 287.8,128.5 288.0,128.1 288.2,127.7 288.4,127.3 288.6,126.8 288.8,126.3 289.0,125.8 289.2,125.3 289.4,124.7 289.6,124.2 289.8,123.6 290.0,123.0 290.2,122.4 290.4,121.8 290.6,121.1 290.8,120.5 291.0,119.8 291.2,119.2 291.4,118.5 291.6,117.9 291.8,117.2 292.0,116.6 292.2,115.9 292.4,115.3 292.6,114.6 292.8,114.0 293.0,113.4 293.2,112.7 293.4,112.0 293.6,111.3 293.8,110.6 294.0,109.8 294.2,109.1 294.4,108.3 294.6,107.5 294.8,106.8 295.0,106.0 295.2,105.2 295.4,104.5 295.6,103.7 295.8,102.9 296.0,102.2 296.2,101.5 296.4,100.7 296.6,100.0 296.8,99.4 297.0,98.7 297.2,98.1 297.4,97.5 297.6,96.9 297.8,96.4 298.0,95.8 298.2,95.4 298.4,94.9 298.6,94.3 298.8,93.8 299.0,93.3 299.2,92.8 299.4,92.3 299.6,91.8 299.8,91.3 300.0,90.8 300.2,90.4 300.4,90.0 300.6,89.6 300.8,89.2 301.0,88.8 301.2,88.5 301.4,88.3 301.6,88.0 301.8,87.8 302.0,87.7 302.2,87.6 302.4,87.6 302.6,87.6 302.8,87.7 303.0,87.9 303.2,88.1 303.4,88.4 303.6,88.7 303.8,89.0 304.0,89.4 304.2,89.8 304.4,90.2 304.6,90.7 304.8,91.2 305.0,91.6 305.2,92.1 305.4,92.6 305.6,93.1 305.8,93.6 306.0,94.2 306.2,94.9 306.4,95.6 306.6,96.4 306.8,97.2 307.0,98.0 307.2,98.9 307.4,99.9 307.6,100.8 307.8,101.8 308.0,102.8 308.2,103.8 308.4,104.8 308.6,105.8 308.8,106.8 309.0,107.7 309.2,108.7 309.4,109.6 309.6,110.5 309.8,111.3 310.0,112.1 310.2,112.9 310.4,113.6 310.6,114.4 310.8,115.1 311.0,115.8 311.2,116.6 311.4,117.3 311.6,118.1 311.8,118.8 312.0,119.5 312.2,120.2 312.4,120.9 312.6,121.5 312.8,122.2 313.0,122.8 313.2,123.3 313.4,123.9 313.6,124.4 313.8,124.9 314.0,125.3 314.2,125.7 314.4,126.1 314.6,126.4 314.8,126.8 315.0,127.1 315.2,127.4 315.4,127.8 315.6,128.1 315.8,128.4 316.0,128.7 316.2,128.9 316.4,129.2 316.6,129.4 316.8,129.6 317.0,129.8 317.2,130.0 317.4,130.1 317.6,130.2 317.8,130.3 318.0,130.3 318.2,130.3 318.4,130.2 318.6,130.2 318.8,130.2 319.0,130.1 319.2,130.0 319.4,129.9 319.6,129.8 319.8,129.7 320.0,129.6 320.2,129.4 320.4,129.3 320.6,129.1 320.8,129.0 321.0,128.8 321.2,128.6 321.4,128.5 321.6,128.3 321.8,128.1 322.0,127.9 322.2,127.7 322.4,127.6 322.6,127.4 322.8,127.2 323.0,127.0 323.2,126.8 323.4,126.6 323.6,126.4 323.8,126.1 324.0,125.9 324.2,125.6 324.4,125.3 324.6,125.0 324.8,124.7 325.0,124.4 325.2,124.1 325.4,123.8 325.6,123.5 325.8,123.1 326.0,122.8 326.2,122.5 326.4,122.1 326.6,121.7 326.8,121.4 327.0,121.0 327.2,120.7 327.4,120.3 327.6,120.0 327.8,119.6 328.0,119.2 328.2,118.9 328.4,118.5 328.6,118.2 328.8,117.8 329.0,117.5 329.2,117.2 329.4,116.8 329.6,116.5 329.8,116.2 330.0,115.9 330.2,115.6 330.4,115.2 330.6,114.9 330.8,114.6 331.0,114.2 331.2,113.9 331.4,113.5 331.6,113.2 331.8,112.8 332.0,112.5 332.2,112.1 332.4,111.8 332.6,111.4 332.8,111.1 333.0,110.8 333.2,110.5 333.4,110.2 333.6,109.9 333.8,109.6 334.0,109.3 334.2,109.0 334.4,108.8 334.6,108.5 334.8,108.3 335.0,108.1 335.2,107.9 335.4,107.8 335.6,107.6 335.8,107.4 336.0,107.2 336.2,107.1 336.4,106.9 336.6,106.8 336.8,106.6 337.0,106.5 337.2,106.4 337.4,106.4 337.6,106.3 337.8,106.3 338.0,106.3 338.2,106.4 338.4,106.5 338.6,106.7 338.8,106.9 339.0,107.2 339.2,107.4 339.4,107.7 339.6,108.1 339.8,108.4 340.0,108.8 340.2,109.1 340.4,109.5 340.6,109.8 340.8,110.2 341.0,110.5 341.2,110.9 341.4,111.3 341.6,111.8 341.8,112.3 342.0,112.9 342.2,113.4 342.4,114.0 342.6,114.6 342.8,115.2 343.0,115.8 343.2,116.4 343.4,117.0 343.6,117.6 343.8,118.2 344.0,118.8 344.2,119.3 344.4,119.9 344.6,120.4 344.8,120.9 345.0,121.4 345.2,121.8 345.4,122.3 345.6,122.6 345.8,123.0 346.0,123.4 346.2,123.8 346.4,124.1 346.6,124.5 346.8,124.9 347.0,125.2 347.2,125.6 347.4,125.9 347.6,126.2 347.8,126.5 348.0,126.8 348.2,127.1 348.4,127.3 348.6,127.6 348.8,127.8 349.0,128.0 349.2,128.2 349.4,128.3 349.6,128.4 349.8,128.6 350.0,128.7 350.2,128.8 350.4,129.0 350.6,129.1 350.8,129.2 351.0,129.3 351.2,129.4 351.4,129.5 351.6,129.6 351.8,129.7 352.0,129.7 352.2,129.8 352.4,129.8 352.6,129.8 352.8,129.8 353.0,129.8 353.2,129.8 353.4,129.8 353.6,129.7 353.8,129.7 354.0,129.6 354.2,129.5 354.4,129.4 354.6,129.4 354.8,129.2 355.0,129.1 355.2,129.0 355.4,128.9 355.6,128.8 355.8,128.7 356.0,128.5 356.2,128.4 356.4,128.3 356.6,128.1 356.8,128.0 357.0,127.9 357.2,127.8 357.4,127.6 357.6,127.5 357.8,127.4 358.0,127.3 358.2,127.2 358.4,127.1 358.6,126.9 358.8,126.8 359.0,126.7 359.2,126.6 359.4,126.4 359.6,126.3 359.8,126.1 360.0,126.0 360.2,125.8 360.4,125.7 360.6,125.6 360.8,125.4 361.0,125.3 361.2,125.1 361.4,125.0 361.6,124.8 361.8,124.7 362.0,124.6 362.2,124.4 362.4,124.3 362.6,124.2 362.8,124.0 363.0,123.9 363.2,123.8 363.4,123.7 363.6,123.6 363.8,123.5 364.0,123.4 364.2,123.3 364.4,123.2 364.6,123.1 364.8,123.0 365.0,123.0 365.2,122.9 365.4,122.8 365.6,122.7 365.8,122.7 366.0,122.6 366.2,122.5 366.4,122.5 366.6,122.4 366.8,122.3 367.0,122.3 367.2,122.2 367.4,122.1 367.6,122.1 367.8,122.0 368.0,122.0 368.2,121.9 368.4,121.9 368.6,121.8 368.8,121.8 369.0,121.7 369.2,121.7 369.4,121.7 369.6,121.6 369.8,121.6 370.0,121.6 370.2,121.5 370.4,121.5 370.6,121.5 370.8,121.5 371.0,121.5 371.2,121.5 371.4,121.5 371.6,121.5 371.8,121.5 372.0,121.5 372.2,121.5 372.4,121.5 372.6,121.6 372.8,121.6 373.0,121.6 373.2,121.6 373.4,121.7 373.6,121.7 373.8,121.8 374.0,121.8 374.2,121.8 374.4,121.9 374.6,121.9 374.8,122.0 375.0,122.0 375.2,122.1 375.4,122.1 375.6,122.2 375.8,122.2 376.0,122.3 376.2,122.3 376.4,122.4 376.6,122.4 376.8,122.5 377.0,122.6 377.2,122.6 377.4,122.7 377.6,122.7 377.8,122.8 378.0,122.9 378.2,122.9 378.4,123.0 378.6,123.0 378.8,123.1 379.0,123.1 379.2,123.2 379.4,123.2 379.6,123.3 379.8,123.4 380.0,123.4 380.2,123.5 380.4,123.5 380.6,123.6 380.8,123.6 381.0,123.7 381.2,123.8 381.4,123.8 381.6,123.9 381.8,124.0 382.0,124.0 382.2,124.1 382.4,124.2 382.6,124.2 382.8,124.3 383.0,124.4 383.2,124.4 383.4,124.5 383.6,124.6 383.8,124.7 384.0,124.7 384.2,124.8 384.4,124.9 384.6,125.0 384.8,125.0 385.0,125.1 385.2,125.2 385.4,125.2 385.6,125.3 385.8,125.4 386.0,125.4 386.2,125.5 386.4,125.5 386.6,125.6 386.8,125.7 387.0,125.7 387.2,125.8 387.4,125.8 387.6,125.9 387.8,125.9 388.0,126.0 388.2,126.0 388.4,126.0 388.6,126.1 388.8,126.1 389.0,126.1 389.2,126.2 389.4,126.2 389.6,126.2 389.8,126.2 390.0,126.3 390.2,126.3 390.4,126.3 390.6,126.4 390.8,126.4 391.0,126.4 391.2,126.4 391.4,126.5 391.6,126.5 391.8,126.5 392.0,126.5 392.2,126.6 392.4,126.6 392.6,126.6 392.8,126.6 393.0,126.7 393.2,126.7 393.4,126.7 393.6,126.7 393.8,126.7 394.0,126.7 394.2,126.8 394.4,126.8 394.6,126.8 394.8,126.8 395.0,126.8 395.2,126.8 395.4,126.8 395.6,126.8 395.8,126.9 396.0,126.9 396.2,126.9 396.4,126.9 396.6,126.9 396.8,126.9 397.0,126.9 397.2,126.9 397.4,126.9 397.6,126.9 397.8,126.9 398.0,126.8 398.2,126.8 398.4,126.8 398.6,126.8 398.8,126.8 399.0,126.8 399.2,126.8 399.4,126.8 399.6,126.7 399.8,126.7 400.0,126.7 400.2,126.7 400.4,126.7 400.6,126.6 400.8,126.6 401.0,126.6 401.2,126.6 401.4,126.5 401.6,126.5 401.8,126.5 402.0,126.4 402.2,126.4 402.4,126.4 402.6,126.3 402.8,126.3 403.0,126.3 403.2,126.2 403.4,126.2 403.6,126.1 403.8,126.1 404.0,126.0 404.2,126.0 404.4,126.0 404.6,125.9 404.8,125.9 405.0,125.8 405.2,125.8 405.4,125.7 405.6,125.7 405.8,125.6 406.0,125.6 406.2,125.5 406.4,125.4 406.6,125.4 406.8,125.3" fill="none" stroke="#000" stroke-width="1.20" stroke-linejoin="round"/>
<g fill="#ffffff" stroke="#000" stroke-width="1.10"><circle cx="254.0" cy="136.4" r="1.70"/><circle cx="254.6" cy="136.3" r="1.70"/><circle cx="255.1" cy="136.5" r="1.70"/><circle cx="255.7" cy="136.4" r="1.70"/><circle cx="256.2" cy="136.1" r="1.70"/><circle cx="256.8" cy="136.3" r="1.70"/><circle cx="257.4" cy="136.0" r="1.70"/><circle cx="257.9" cy="135.9" r="1.70"/><circle cx="258.5" cy="135.7" r="1.70"/><circle cx="259.0" cy="135.7" r="1.70"/><circle cx="259.6" cy="135.8" r="1.70"/><circle cx="260.2" cy="135.6" r="1.70"/><circle cx="260.7" cy="135.5" r="1.70"/><circle cx="261.3" cy="135.5" r="1.70"/><circle cx="261.8" cy="135.1" r="1.70"/><circle cx="262.4" cy="134.8" r="1.70"/><circle cx="263.0" cy="134.6" r="1.70"/><circle cx="263.5" cy="134.6" r="1.70"/><circle cx="264.1" cy="134.0" r="1.70"/><circle cx="264.6" cy="133.6" r="1.70"/><circle cx="265.2" cy="133.1" r="1.70"/><circle cx="265.8" cy="132.7" r="1.70"/><circle cx="266.3" cy="132.2" r="1.70"/><circle cx="266.9" cy="131.5" r="1.70"/><circle cx="267.4" cy="130.7" r="1.70"/><circle cx="268.0" cy="129.6" r="1.70"/><circle cx="268.6" cy="128.2" r="1.70"/><circle cx="269.1" cy="126.9" r="1.70"/><circle cx="269.7" cy="125.1" r="1.70"/><circle cx="270.2" cy="123.1" r="1.70"/><circle cx="270.8" cy="119.9" r="1.70"/><circle cx="271.4" cy="116.0" r="1.70"/><circle cx="271.9" cy="111.8" r="1.70"/><circle cx="272.5" cy="107.0" r="1.70"/><circle cx="273.0" cy="101.5" r="1.70"/><circle cx="273.6" cy="94.7" r="1.70"/><circle cx="274.2" cy="87.1" r="1.70"/><circle cx="274.7" cy="81.0" r="1.70"/><circle cx="275.3" cy="77.2" r="1.70"/><circle cx="275.8" cy="74.8" r="1.70"/><circle cx="276.4" cy="74.9" r="1.70"/><circle cx="277.0" cy="78.3" r="1.70"/><circle cx="277.5" cy="83.5" r="1.70"/><circle cx="278.1" cy="88.2" r="1.70"/><circle cx="278.6" cy="93.3" r="1.70"/><circle cx="279.2" cy="97.9" r="1.70"/><circle cx="279.8" cy="102.2" r="1.70"/><circle cx="280.3" cy="106.3" r="1.70"/><circle cx="280.9" cy="109.6" r="1.70"/><circle cx="281.2" cy="111.1" r="1.70"/><circle cx="282.2" cy="114.2" r="1.70"/><circle cx="283.2" cy="116.7" r="1.70"/><circle cx="284.2" cy="117.8" r="1.70"/><circle cx="285.2" cy="118.6" r="1.70"/><circle cx="286.2" cy="118.3" r="1.70"/><circle cx="287.2" cy="117.7" r="1.70"/><circle cx="288.2" cy="116.3" r="1.70"/><circle cx="289.2" cy="115.2" r="1.70"/><circle cx="290.2" cy="113.6" r="1.70"/><circle cx="291.2" cy="111.6" r="1.70"/><circle cx="292.2" cy="109.8" r="1.70"/><circle cx="293.2" cy="107.8" r="1.70"/><circle cx="294.2" cy="105.0" r="1.70"/><circle cx="295.2" cy="101.9" r="1.70"/><circle cx="296.2" cy="98.6" r="1.70"/><circle cx="297.2" cy="95.9" r="1.70"/><circle cx="298.2" cy="93.6" r="1.70"/><circle cx="299.2" cy="91.8" r="1.70"/><circle cx="300.2" cy="90.0" r="1.70"/><circle cx="301.2" cy="88.4" r="1.70"/><circle cx="302.2" cy="87.6" r="1.70"/><circle cx="303.2" cy="87.8" r="1.70"/><circle cx="304.2" cy="89.4" r="1.70"/><circle cx="305.2" cy="91.3" r="1.70"/><circle cx="306.2" cy="93.3" r="1.70"/><circle cx="307.2" cy="96.6" r="1.70"/><circle cx="308.2" cy="101.1" r="1.70"/><circle cx="309.2" cy="105.6" r="1.70"/><circle cx="310.2" cy="110.2" r="1.70"/><circle cx="311.2" cy="113.6" r="1.70"/><circle cx="312.2" cy="117.0" r="1.70"/><circle cx="313.2" cy="120.4" r="1.70"/><circle cx="314.2" cy="123.4" r="1.70"/><circle cx="315.2" cy="125.0" r="1.70"/><circle cx="316.2" cy="127.1" r="1.70"/><circle cx="317.2" cy="128.5" r="1.70"/><circle cx="318.2" cy="129.4" r="1.70"/><circle cx="319.2" cy="129.1" r="1.70"/><circle cx="320.2" cy="128.5" r="1.70"/><circle cx="321.2" cy="128.0" r="1.70"/><circle cx="322.2" cy="127.1" r="1.70"/><circle cx="323.2" cy="126.4" r="1.70"/><circle cx="324.2" cy="125.2" r="1.70"/><circle cx="325.2" cy="124.1" r="1.70"/><circle cx="326.2" cy="122.2" r="1.70"/><circle cx="327.2" cy="120.6" r="1.70"/><circle cx="328.2" cy="118.7" r="1.70"/><circle cx="329.2" cy="117.2" r="1.70"/><circle cx="330.2" cy="115.6" r="1.70"/><circle cx="331.2" cy="113.9" r="1.70"/><circle cx="332.2" cy="112.3" r="1.70"/><circle cx="333.2" cy="110.5" r="1.70"/><circle cx="334.2" cy="109.0" r="1.70"/><circle cx="335.2" cy="108.1" r="1.70"/><circle cx="336.2" cy="106.9" r="1.70"/><circle cx="337.2" cy="106.0" r="1.70"/><circle cx="338.2" cy="105.9" r="1.70"/><circle cx="339.2" cy="106.5" r="1.70"/><circle cx="340.2" cy="107.5" r="1.70"/><circle cx="341.2" cy="109.5" r="1.70"/><circle cx="342.2" cy="111.9" r="1.70"/><circle cx="343.2" cy="114.8" r="1.70"/><circle cx="344.2" cy="117.6" r="1.70"/><circle cx="345.2" cy="120.5" r="1.70"/><circle cx="346.2" cy="122.2" r="1.70"/><circle cx="347.2" cy="124.0" r="1.70"/><circle cx="348.2" cy="125.7" r="1.70"/><circle cx="349.2" cy="126.8" r="1.70"/><circle cx="350.2" cy="127.8" r="1.70"/><circle cx="351.2" cy="128.6" r="1.70"/><circle cx="352.2" cy="129.0" r="1.70"/><circle cx="353.2" cy="129.4" r="1.70"/><circle cx="354.2" cy="128.9" r="1.70"/><circle cx="355.2" cy="128.6" r="1.70"/><circle cx="356.2" cy="128.3" r="1.70"/><circle cx="357.2" cy="127.5" r="1.70"/><circle cx="358.2" cy="127.2" r="1.70"/><circle cx="359.2" cy="126.3" r="1.70"/><circle cx="360.2" cy="125.7" r="1.70"/><circle cx="361.2" cy="125.0" r="1.70"/><circle cx="362.2" cy="124.4" r="1.70"/><circle cx="363.2" cy="123.7" r="1.70"/><circle cx="364.2" cy="123.3" r="1.70"/><circle cx="365.2" cy="123.0" r="1.70"/><circle cx="366.2" cy="122.7" r="1.70"/><circle cx="367.2" cy="122.2" r="1.70"/><circle cx="368.2" cy="122.0" r="1.70"/><circle cx="369.2" cy="121.7" r="1.70"/><circle cx="370.2" cy="121.3" r="1.70"/><circle cx="371.2" cy="121.1" r="1.70"/><circle cx="372.2" cy="121.7" r="1.70"/><circle cx="373.2" cy="121.7" r="1.70"/><circle cx="374.2" cy="121.7" r="1.70"/><circle cx="375.2" cy="122.0" r="1.70"/><circle cx="376.2" cy="122.0" r="1.70"/><circle cx="377.2" cy="122.2" r="1.70"/><circle cx="378.2" cy="122.8" r="1.70"/><circle cx="379.2" cy="122.8" r="1.70"/><circle cx="380.2" cy="123.4" r="1.70"/><circle cx="381.2" cy="123.4" r="1.70"/><circle cx="382.2" cy="123.9" r="1.70"/><circle cx="383.2" cy="124.5" r="1.70"/><circle cx="384.2" cy="124.9" r="1.70"/><circle cx="385.2" cy="124.9" r="1.70"/><circle cx="386.2" cy="125.4" r="1.70"/><circle cx="387.2" cy="125.4" r="1.70"/><circle cx="388.2" cy="125.7" r="1.70"/><circle cx="389.2" cy="126.0" r="1.70"/><circle cx="390.2" cy="126.3" r="1.70"/><circle cx="391.2" cy="126.1" r="1.70"/><circle cx="392.2" cy="126.4" r="1.70"/><circle cx="393.2" cy="126.4" r="1.70"/><circle cx="394.2" cy="126.3" r="1.70"/><circle cx="395.2" cy="126.5" r="1.70"/><circle cx="396.2" cy="126.8" r="1.70"/><circle cx="397.2" cy="126.5" r="1.70"/><circle cx="398.2" cy="126.6" r="1.70"/><circle cx="399.2" cy="126.6" r="1.70"/><circle cx="400.2" cy="126.2" r="1.70"/><circle cx="401.2" cy="126.4" r="1.70"/><circle cx="402.2" cy="126.3" r="1.70"/><circle cx="403.2" cy="126.1" r="1.70"/><circle cx="404.2" cy="125.9" r="1.70"/><circle cx="405.2" cy="125.4" r="1.70"/><circle cx="406.2" cy="125.1" r="1.70"/></g>
<polyline points="253.4,209.4 253.6,209.4 253.8,209.4 254.0,209.4 254.2,209.4 254.4,209.4 254.6,209.4 254.8,209.3 255.0,209.3 255.2,209.3 255.4,209.3 255.6,209.3 255.8,209.3 256.0,209.3 256.2,209.3 256.4,209.2 256.6,209.2 256.8,209.2 257.0,209.2 257.2,209.2 257.4,209.1 257.6,209.1 257.8,209.1 258.0,209.1 258.2,209.1 258.4,209.0 258.6,209.0 258.8,209.0 259.0,209.0 259.2,208.9 259.4,208.9 259.6,208.9 259.8,208.9 260.0,208.8 260.2,208.8 260.4,208.8 260.6,208.7 260.8,208.7 261.0,208.7 261.2,208.7 261.4,208.6 261.6,208.6 261.8,208.5 262.0,208.5 262.2,208.5 262.4,208.4 262.6,208.4 262.8,208.3 263.0,208.3 263.2,208.2 263.4,208.1 263.6,208.1 263.8,208.0 264.0,207.9 264.2,207.9 264.4,207.8 264.6,207.7 264.8,207.6 265.0,207.5 265.2,207.4 265.4,207.3 265.6,207.2 265.8,207.1 266.0,207.0 266.2,206.9 266.4,206.8 266.6,206.7 266.8,206.6 267.0,206.4 267.2,206.2 267.4,206.0 267.6,205.8 267.8,205.5 268.0,205.2 268.2,204.8 268.4,204.5 268.6,204.1 268.8,203.6 269.0,203.2 269.2,202.7 269.4,202.1 269.6,201.6 269.8,201.0 270.0,200.4 270.2,199.8 270.4,199.1 270.6,198.4 270.8,197.5 271.0,196.4 271.2,195.2 271.4,193.9 271.6,192.4 271.8,190.8 272.0,189.2 272.2,187.4 272.4,185.5 272.6,183.6 272.8,181.6 273.0,179.6 273.2,177.5 273.4,175.0 273.6,171.9 273.8,168.4 274.0,164.7 274.2,160.8 274.4,157.1 274.6,153.5 274.8,150.4 275.0,147.9 275.2,146.1 275.4,144.8 275.6,143.6 275.8,142.5 276.0,141.8 276.2,141.6 276.4,142.1 276.6,143.5 276.8,145.6 277.0,148.0 277.2,150.6 277.4,153.0 277.6,155.4 277.8,158.1 278.0,161.1 278.2,164.3 278.4,167.6 278.6,170.9 278.8,174.1 279.0,177.2 279.2,180.1 279.4,182.7 279.6,184.9 279.8,186.6 280.0,188.1 280.2,189.4 280.4,190.7 280.6,192.0 280.8,193.1 281.0,194.2 281.2,195.2 281.4,196.2 281.6,197.0 281.8,197.8 282.0,198.5 282.2,199.2 282.4,199.7 282.6,200.2 282.8,200.7 283.0,201.3 283.2,201.7 283.4,202.2 283.6,202.6 283.8,203.0 284.0,203.4 284.2,203.7 284.4,203.9 284.6,204.1 284.8,204.2 285.0,204.3 285.2,204.2 285.4,204.1 285.6,204.0 285.8,203.8 286.0,203.6 286.2,203.3 286.4,203.0 286.6,202.6 286.8,202.3 287.0,201.9 287.2,201.6 287.4,201.2 287.6,200.8 287.8,200.5 288.0,200.1 288.2,199.7 288.4,199.2 288.6,198.7 288.8,198.2 289.0,197.7 289.2,197.1 289.4,196.6 289.6,196.0 289.8,195.4 290.0,194.8 290.2,194.1 290.4,193.5 290.6,192.8 290.8,192.2 291.0,191.5 291.2,190.8 291.4,190.2 291.6,189.5 291.8,188.8 292.0,188.1 292.2,187.4 292.4,186.8 292.6,186.1 292.8,185.5 293.0,184.8 293.2,184.1 293.4,183.4 293.6,182.7 293.8,181.9 294.0,181.1 294.2,180.4 294.4,179.6 294.6,178.8 294.8,178.0 295.0,177.2 295.2,176.4 295.4,175.6 295.6,174.8 295.8,174.0 296.0,173.2 296.2,172.5 296.4,171.7 296.6,171.0 296.8,170.3 297.0,169.6 297.2,168.9 297.4,168.3 297.6,167.7 297.8,167.2 298.0,166.6 298.2,166.1 298.4,165.6 298.6,165.1 298.8,164.6 299.0,164.0 299.2,163.5 299.4,163.0 299.6,162.5 299.8,162.0 300.0,161.5 300.2,161.0 300.4,160.6 300.6,160.1 300.8,159.7 301.0,159.4 301.2,159.1 301.4,158.8 301.6,158.5 301.8,158.4 302.0,158.2 302.2,158.1 302.4,158.1 302.6,158.1 302.8,158.2 303.0,158.4 303.2,158.6 303.4,158.9 303.6,159.2 303.8,159.6 304.0,160.0 304.2,160.4 304.4,160.8 304.6,161.3 304.8,161.8 305.0,162.3 305.2,162.8 305.4,163.3 305.6,163.8 305.8,164.3 306.0,164.9 306.2,165.6 306.4,166.4 306.6,167.2 306.8,168.0 307.0,168.9 307.2,169.8 307.4,170.8 307.6,171.8 307.8,172.8 308.0,173.8 308.2,174.9 308.4,175.9 308.6,176.9 308.8,178.0 309.0,179.0 309.2,180.0 309.4,180.9 309.6,181.8 309.8,182.7 310.0,183.5 310.2,184.3 310.4,185.1 310.6,185.8 310.8,186.6 311.0,187.4 311.2,188.1 311.4,188.9 311.6,189.7 311.8,190.4 312.0,191.1 312.2,191.9 312.4,192.6 312.6,193.3 312.8,193.9 313.0,194.5 313.2,195.1 313.4,195.7 313.6,196.3 313.8,196.8 314.0,197.2 314.2,197.6 314.4,198.0 314.6,198.3 314.8,198.7 315.0,199.0 315.2,199.4 315.4,199.7 315.6,200.0 315.8,200.4 316.0,200.7 316.2,200.9 316.4,201.2 316.6,201.5 316.8,201.7 317.0,201.9 317.2,202.0 317.4,202.2 317.6,202.3 317.8,202.3 318.0,202.3 318.2,202.3 318.4,202.3 318.6,202.3 318.8,202.2 319.0,202.1 319.2,202.0 319.4,201.9 319.6,201.8 319.8,201.7 320.0,201.6 320.2,201.4 320.4,201.3 320.6,201.1 320.8,201.0 321.0,200.8 321.2,200.6 321.4,200.4 321.6,200.3 321.8,200.1 322.0,199.9 322.2,199.7 322.4,199.5 322.6,199.3 322.8,199.1 323.0,198.9 323.2,198.7 323.4,198.5 323.6,198.3 323.8,198.0 324.0,197.8 324.2,197.5 324.4,197.2 324.6,196.9 324.8,196.6 325.0,196.3 325.2,196.0 325.4,195.6 325.6,195.3 325.8,194.9 326.0,194.6 326.2,194.2 326.4,193.9 326.6,193.5 326.8,193.1 327.0,192.8 327.2,192.4 327.4,192.0 327.6,191.6 327.8,191.3 328.0,190.9 328.2,190.5 328.4,190.2 328.6,189.8 328.8,189.4 329.0,189.1 329.2,188.7 329.4,188.4 329.6,188.1 329.8,187.7 330.0,187.4 330.2,187.1 330.4,186.7 330.6,186.4 330.8,186.0 331.0,185.7 331.2,185.3 331.4,185.0 331.6,184.6 331.8,184.2 332.0,183.9 332.2,183.5 332.4,183.2 332.6,182.8 332.8,182.5 333.0,182.1 333.2,181.8 333.4,181.5 333.6,181.2 333.8,180.9 334.0,180.6 334.2,180.3 334.4,180.1 334.6,179.8 334.8,179.6 335.0,179.4 335.2,179.2 335.4,179.0 335.6,178.8 335.8,178.6 336.0,178.5 336.2,178.3 336.4,178.1 336.6,178.0 336.8,177.8 337.0,177.7 337.2,177.6 337.4,177.5 337.6,177.5 337.8,177.5 338.0,177.5 338.2,177.6 338.4,177.7 338.6,177.9 338.8,178.1 339.0,178.4 339.2,178.7 339.4,179.0 339.6,179.3 339.8,179.7 340.0,180.0 340.2,180.4 340.4,180.8 340.6,181.1 340.8,181.5 341.0,181.8 341.2,182.3 341.4,182.7 341.6,183.2 341.8,183.7 342.0,184.3 342.2,184.8 342.4,185.4 342.6,186.0 342.8,186.7 343.0,187.3 343.2,187.9 343.4,188.6 343.6,189.2 343.8,189.8 344.0,190.4 344.2,191.0 344.4,191.6 344.6,192.1 344.8,192.6 345.0,193.1 345.2,193.6 345.4,194.0 345.6,194.4 345.8,194.8 346.0,195.2 346.2,195.6 346.4,196.0 346.6,196.3 346.8,196.7 347.0,197.1 347.2,197.4 347.4,197.8 347.6,198.1 347.8,198.4 348.0,198.7 348.2,199.0 348.4,199.3 348.6,199.5 348.8,199.7 349.0,199.9 349.2,200.1 349.4,200.3 349.6,200.4 349.8,200.6 350.0,200.7 350.2,200.8 350.4,201.0 350.6,201.1 350.8,201.2 351.0,201.3 351.2,201.4 351.4,201.5 351.6,201.6 351.8,201.7 352.0,201.8 352.2,201.8 352.4,201.8 352.6,201.9 352.8,201.9 353.0,201.9 353.2,201.8 353.4,201.8 353.6,201.8 353.8,201.7 354.0,201.6 354.2,201.6 354.4,201.5 354.6,201.4 354.8,201.3 355.0,201.2 355.2,201.0 355.4,200.9 355.6,200.8 355.8,200.7 356.0,200.5 356.2,200.4 356.4,200.3 356.6,200.1 356.8,200.0 357.0,199.9 357.2,199.7 357.4,199.6 357.6,199.5 357.8,199.4 358.0,199.3 358.2,199.1 358.4,199.0 358.6,198.9 358.8,198.7 359.0,198.6 359.2,198.5 359.4,198.3 359.6,198.2 359.8,198.0 360.0,197.9 360.2,197.7 360.4,197.6 360.6,197.4 360.8,197.3 361.0,197.1 361.2,197.0 361.4,196.8 361.6,196.7 361.8,196.5 362.0,196.4 362.2,196.3 362.4,196.1 362.6,196.0 362.8,195.8 363.0,195.7 363.2,195.6 363.4,195.5 363.6,195.4 363.8,195.3 364.0,195.2 364.2,195.1 364.4,195.0 364.6,194.9 364.8,194.8 365.0,194.7 365.2,194.7 365.4,194.6 365.6,194.5 365.8,194.4 366.0,194.4 366.2,194.3 366.4,194.2 366.6,194.2 366.8,194.1 367.0,194.0 367.2,194.0 367.4,193.9 367.6,193.8 367.8,193.8 368.0,193.7 368.2,193.7 368.4,193.6 368.6,193.6 368.8,193.5 369.0,193.5 369.2,193.4 369.4,193.4 369.6,193.4 369.8,193.3 370.0,193.3 370.2,193.3 370.4,193.2 370.6,193.2 370.8,193.2 371.0,193.2 371.2,193.2 371.4,193.2 371.6,193.2 371.8,193.2 372.0,193.2 372.2,193.3 372.4,193.3 372.6,193.3 372.8,193.3 373.0,193.4 373.2,193.4 373.4,193.4 373.6,193.5 373.8,193.5 374.0,193.5 374.2,193.6 374.4,193.6 374.6,193.7 374.8,193.7 375.0,193.8 375.2,193.8 375.4,193.9 375.6,193.9 375.8,194.0 376.0,194.0 376.2,194.1 376.4,194.2 376.6,194.2 376.8,194.3 377.0,194.3 377.2,194.4 377.4,194.5 377.6,194.5 377.8,194.6 378.0,194.6 378.2,194.7 378.4,194.8 378.6,194.8 378.8,194.9 379.0,194.9 379.2,195.0 379.4,195.0 379.6,195.1 379.8,195.2 380.0,195.2 380.2,195.3 380.4,195.3 380.6,195.4 380.8,195.4 381.0,195.5 381.2,195.6 381.4,195.6 381.6,195.7 381.8,195.8 382.0,195.8 382.2,195.9 382.4,196.0 382.6,196.1 382.8,196.1 383.0,196.2 383.2,196.3 383.4,196.4 383.6,196.4 383.8,196.5 384.0,196.6 384.2,196.7 384.4,196.7 384.6,196.8 384.8,196.9 385.0,197.0 385.2,197.0 385.4,197.1 385.6,197.2 385.8,197.2 386.0,197.3 386.2,197.4 386.4,197.4 386.6,197.5 386.8,197.5 387.0,197.6 387.2,197.7 387.4,197.7 387.6,197.8 387.8,197.8 388.0,197.9 388.2,197.9 388.4,197.9 388.6,198.0 388.8,198.0 389.0,198.0 389.2,198.1 389.4,198.1 389.6,198.1 389.8,198.1 390.0,198.2 390.2,198.2 390.4,198.2 390.6,198.3 390.8,198.3 391.0,198.3 391.2,198.3 391.4,198.4 391.6,198.4 391.8,198.4 392.0,198.5 392.2,198.5 392.4,198.5 392.6,198.5 392.8,198.5 393.0,198.6 393.2,198.6 393.4,198.6 393.6,198.6 393.8,198.7 394.0,198.7 394.2,198.7 394.4,198.7 394.6,198.7 394.8,198.7 395.0,198.7 395.2,198.8 395.4,198.8 395.6,198.8 395.8,198.8 396.0,198.8 396.2,198.8 396.4,198.8 396.6,198.8 396.8,198.8 397.0,198.8 397.2,198.8 397.4,198.8 397.6,198.8 397.8,198.8 398.0,198.8 398.2,198.8 398.4,198.8 398.6,198.7 398.8,198.7 399.0,198.7 399.2,198.7 399.4,198.7 399.6,198.7 399.8,198.6 400.0,198.6 400.2,198.6 400.4,198.6 400.6,198.6 400.8,198.5 401.0,198.5 401.2,198.5 401.4,198.4 401.6,198.4 401.8,198.4 402.0,198.3 402.2,198.3 402.4,198.3 402.6,198.2 402.8,198.2 403.0,198.2 403.2,198.1 403.4,198.1 403.6,198.0 403.8,198.0 404.0,197.9 404.2,197.9 404.4,197.9 404.6,197.8 404.8,197.8 405.0,197.7 405.2,197.7 405.4,197.6 405.6,197.5 405.8,197.5 406.0,197.4 406.2,197.4 406.4,197.3 406.6,197.3 406.8,197.2" fill="none" stroke="#000" stroke-width="1.20" stroke-linejoin="round"/>
<g fill="#ffffff" stroke="#000" stroke-width="1.10"><circle cx="254.0" cy="208.7" r="1.70"/><circle cx="254.6" cy="208.6" r="1.70"/><circle cx="255.1" cy="208.6" r="1.70"/><circle cx="255.7" cy="208.8" r="1.70"/><circle cx="256.2" cy="208.8" r="1.70"/><circle cx="256.8" cy="208.4" r="1.70"/><circle cx="257.4" cy="208.5" r="1.70"/><circle cx="257.9" cy="208.1" r="1.70"/><circle cx="258.5" cy="208.2" r="1.70"/><circle cx="259.0" cy="207.9" r="1.70"/><circle cx="259.6" cy="207.7" r="1.70"/><circle cx="260.2" cy="207.9" r="1.70"/><circle cx="260.7" cy="207.7" r="1.70"/><circle cx="261.3" cy="207.5" r="1.70"/><circle cx="261.8" cy="207.3" r="1.70"/><circle cx="262.4" cy="207.0" r="1.70"/><circle cx="263.0" cy="206.8" r="1.70"/><circle cx="263.5" cy="206.4" r="1.70"/><circle cx="264.1" cy="206.2" r="1.70"/><circle cx="264.6" cy="205.6" r="1.70"/><circle cx="265.2" cy="205.3" r="1.70"/><circle cx="265.8" cy="204.9" r="1.70"/><circle cx="266.3" cy="204.4" r="1.70"/><circle cx="266.9" cy="203.8" r="1.70"/><circle cx="267.4" cy="202.8" r="1.70"/><circle cx="268.0" cy="201.6" r="1.70"/><circle cx="268.6" cy="200.1" r="1.70"/><circle cx="269.1" cy="198.7" r="1.70"/><circle cx="269.7" cy="197.1" r="1.70"/><circle cx="270.2" cy="195.0" r="1.70"/><circle cx="270.8" cy="191.2" r="1.70"/><circle cx="271.4" cy="187.4" r="1.70"/><circle cx="271.9" cy="182.9" r="1.70"/><circle cx="272.5" cy="177.9" r="1.70"/><circle cx="273.0" cy="172.9" r="1.70"/><circle cx="273.6" cy="166.1" r="1.70"/><circle cx="274.2" cy="159.0" r="1.70"/><circle cx="274.7" cy="153.2" r="1.70"/><circle cx="275.3" cy="149.5" r="1.70"/><circle cx="275.8" cy="147.1" r="1.70"/><circle cx="276.4" cy="147.0" r="1.70"/><circle cx="277.0" cy="151.2" r="1.70"/><circle cx="277.5" cy="156.1" r="1.70"/><circle cx="278.1" cy="160.6" r="1.70"/><circle cx="278.6" cy="165.1" r="1.70"/><circle cx="279.2" cy="169.2" r="1.70"/><circle cx="279.8" cy="173.3" r="1.70"/><circle cx="280.3" cy="177.1" r="1.70"/><circle cx="280.9" cy="180.8" r="1.70"/><circle cx="281.2" cy="182.5" r="1.70"/><circle cx="282.2" cy="186.0" r="1.70"/><circle cx="283.2" cy="188.1" r="1.70"/><circle cx="284.2" cy="189.5" r="1.70"/><circle cx="285.2" cy="190.1" r="1.70"/><circle cx="286.2" cy="190.2" r="1.70"/><circle cx="287.2" cy="189.5" r="1.70"/><circle cx="288.2" cy="188.1" r="1.70"/><circle cx="289.2" cy="186.9" r="1.70"/><circle cx="290.2" cy="185.1" r="1.70"/><circle cx="291.2" cy="183.5" r="1.70"/><circle cx="292.2" cy="181.4" r="1.70"/><circle cx="293.2" cy="178.7" r="1.70"/><circle cx="294.2" cy="176.3" r="1.70"/><circle cx="295.2" cy="172.9" r="1.70"/><circle cx="296.2" cy="169.8" r="1.70"/><circle cx="297.2" cy="166.8" r="1.70"/><circle cx="298.2" cy="164.6" r="1.70"/><circle cx="299.2" cy="162.3" r="1.70"/><circle cx="300.2" cy="160.3" r="1.70"/><circle cx="301.2" cy="158.8" r="1.70"/><circle cx="302.2" cy="158.2" r="1.70"/><circle cx="303.2" cy="158.6" r="1.70"/><circle cx="304.2" cy="160.0" r="1.70"/><circle cx="305.2" cy="162.0" r="1.70"/><circle cx="306.2" cy="164.2" r="1.70"/><circle cx="307.2" cy="167.4" r="1.70"/><circle cx="308.2" cy="172.2" r="1.70"/><circle cx="309.2" cy="177.0" r="1.70"/><circle cx="310.2" cy="181.3" r="1.70"/><circle cx="311.2" cy="185.2" r="1.70"/><circle cx="312.2" cy="188.7" r="1.70"/><circle cx="313.2" cy="192.1" r="1.70"/><circle cx="314.2" cy="194.6" r="1.70"/><circle cx="315.2" cy="197.1" r="1.70"/><circle cx="316.2" cy="198.9" r="1.70"/><circle cx="317.2" cy="200.3" r="1.70"/><circle cx="318.2" cy="201.2" r="1.70"/><circle cx="319.2" cy="200.9" r="1.70"/><circle cx="320.2" cy="200.5" r="1.70"/><circle cx="321.2" cy="200.2" r="1.70"/><circle cx="322.2" cy="199.2" r="1.70"/><circle cx="323.2" cy="198.3" r="1.70"/><circle cx="324.2" cy="197.2" r="1.70"/><circle cx="325.2" cy="195.7" r="1.70"/><circle cx="326.2" cy="194.0" r="1.70"/><circle cx="327.2" cy="192.6" r="1.70"/><circle cx="328.2" cy="190.4" r="1.70"/><circle cx="329.2" cy="188.8" r="1.70"/><circle cx="330.2" cy="187.1" r="1.70"/><circle cx="331.2" cy="185.3" r="1.70"/><circle cx="332.2" cy="183.2" r="1.70"/><circle cx="333.2" cy="181.6" r="1.70"/><circle cx="334.2" cy="180.6" r="1.70"/><circle cx="335.2" cy="179.4" r="1.70"/><circle cx="336.2" cy="178.1" r="1.70"/><circle cx="337.2" cy="177.3" r="1.70"/><circle cx="338.2" cy="177.0" r="1.70"/><circle cx="339.2" cy="177.4" r="1.70"/><circle cx="340.2" cy="179.4" r="1.70"/><circle cx="341.2" cy="180.7" r="1.70"/><circle cx="342.2" cy="183.1" r="1.70"/><circle cx="343.2" cy="185.7" r="1.70"/><circle cx="344.2" cy="189.5" r="1.70"/><circle cx="345.2" cy="192.0" r="1.70"/><circle cx="346.2" cy="194.3" r="1.70"/><circle cx="347.2" cy="195.8" r="1.70"/><circle cx="348.2" cy="197.6" r="1.70"/><circle cx="349.2" cy="198.8" r="1.70"/><circle cx="350.2" cy="199.7" r="1.70"/><circle cx="351.2" cy="200.7" r="1.70"/><circle cx="352.2" cy="201.3" r="1.70"/><circle cx="353.2" cy="201.4" r="1.70"/><circle cx="354.2" cy="201.0" r="1.70"/><circle cx="355.2" cy="200.8" r="1.70"/><circle cx="356.2" cy="200.3" r="1.70"/><circle cx="357.2" cy="199.6" r="1.70"/><circle cx="358.2" cy="199.0" r="1.70"/><circle cx="359.2" cy="198.4" r="1.70"/><circle cx="360.2" cy="197.5" r="1.70"/><circle cx="361.2" cy="197.0" r="1.70"/><circle cx="362.2" cy="196.5" r="1.70"/><circle cx="363.2" cy="195.4" r="1.70"/><circle cx="364.2" cy="195.1" r="1.70"/><circle cx="365.2" cy="194.8" r="1.70"/><circle cx="366.2" cy="194.1" r="1.70"/><circle cx="367.2" cy="193.9" r="1.70"/><circle cx="368.2" cy="193.3" r="1.70"/><circle cx="369.2" cy="193.2" r="1.70"/><circle cx="370.2" cy="193.0" r="1.70"/><circle cx="371.2" cy="193.0" r="1.70"/><circle cx="372.2" cy="193.1" r="1.70"/><circle cx="373.2" cy="193.2" r="1.70"/><circle cx="374.2" cy="193.4" r="1.70"/><circle cx="375.2" cy="193.3" r="1.70"/><circle cx="376.2" cy="194.2" r="1.70"/><circle cx="377.2" cy="194.2" r="1.70"/><circle cx="378.2" cy="194.3" r="1.70"/><circle cx="379.2" cy="194.7" r="1.70"/><circle cx="380.2" cy="195.1" r="1.70"/><circle cx="381.2" cy="195.2" r="1.70"/><circle cx="382.2" cy="195.6" r="1.70"/><circle cx="383.2" cy="196.0" r="1.70"/><circle cx="384.2" cy="196.5" r="1.70"/><circle cx="385.2" cy="196.7" r="1.70"/><circle cx="386.2" cy="197.2" r="1.70"/><circle cx="387.2" cy="197.5" r="1.70"/><circle cx="388.2" cy="197.7" r="1.70"/><circle cx="389.2" cy="198.0" r="1.70"/><circle cx="390.2" cy="198.0" r="1.70"/><circle cx="391.2" cy="197.9" r="1.70"/><circle cx="392.2" cy="198.2" r="1.70"/><circle cx="393.2" cy="198.3" r="1.70"/><circle cx="394.2" cy="198.4" r="1.70"/><circle cx="395.2" cy="198.5" r="1.70"/><circle cx="396.2" cy="198.8" r="1.70"/><circle cx="397.2" cy="198.5" r="1.70"/><circle cx="398.2" cy="198.5" r="1.70"/><circle cx="399.2" cy="198.3" r="1.70"/><circle cx="400.2" cy="198.5" r="1.70"/><circle cx="401.2" cy="198.1" r="1.70"/><circle cx="402.2" cy="197.8" r="1.70"/><circle cx="403.2" cy="197.6" r="1.70"/><circle cx="404.2" cy="197.6" r="1.70"/><circle cx="405.2" cy="197.4" r="1.70"/><circle cx="406.2" cy="196.8" r="1.70"/></g>
<polyline points="253.4,275.7 253.6,275.7 253.8,275.7 254.0,275.7 254.2,275.7 254.4,275.7 254.6,275.7 254.8,275.6 255.0,275.6 255.2,275.6 255.4,275.6 255.6,275.6 255.8,275.6 256.0,275.6 256.2,275.6 256.4,275.5 256.6,275.5 256.8,275.5 257.0,275.5 257.2,275.5 257.4,275.4 257.6,275.4 257.8,275.4 258.0,275.4 258.2,275.4 258.4,275.3 258.6,275.3 258.8,275.3 259.0,275.3 259.2,275.2 259.4,275.2 259.6,275.2 259.8,275.2 260.0,275.1 260.2,275.1 260.4,275.1 260.6,275.0 260.8,275.0 261.0,275.0 261.2,275.0 261.4,274.9 261.6,274.9 261.8,274.8 262.0,274.8 262.2,274.8 262.4,274.7 262.6,274.7 262.8,274.6 263.0,274.6 263.2,274.5 263.4,274.4 263.6,274.4 263.8,274.3 264.0,274.2 264.2,274.2 264.4,274.1 264.6,274.0 264.8,273.9 265.0,273.8 265.2,273.7 265.4,273.6 265.6,273.5 265.8,273.4 266.0,273.3 266.2,273.2 266.4,273.1 266.6,273.0 266.8,272.8 267.0,272.7 267.2,272.5 267.4,272.3 267.6,272.0 267.8,271.8 268.0,271.5 268.2,271.1 268.4,270.7 268.6,270.3 268.8,269.9 269.0,269.4 269.2,268.9 269.4,268.4 269.6,267.9 269.8,267.3 270.0,266.7 270.2,266.1 270.4,265.4 270.6,264.6 270.8,263.7 271.0,262.7 271.2,261.4 271.4,260.1 271.6,258.6 271.8,257.0 272.0,255.3 272.2,253.6 272.4,251.7 272.6,249.8 272.8,247.8 273.0,245.7 273.2,243.6 273.4,241.2 273.6,238.2 273.8,234.7 274.0,231.0 274.2,227.2 274.4,223.5 274.6,220.0 274.8,217.0 275.0,214.5 275.2,212.7 275.4,211.4 275.6,210.2 275.8,209.1 276.0,208.4 276.2,208.1 276.4,208.7 276.6,210.1 276.8,212.2 277.0,214.7 277.2,217.2 277.4,219.6 277.6,222.0 277.8,224.7 278.0,227.7 278.2,230.8 278.4,234.0 278.6,237.3 278.8,240.5 279.0,243.5 279.2,246.3 279.4,248.9 279.6,251.1 279.8,252.8 280.0,254.3 280.2,255.6 280.4,257.0 280.6,258.2 280.8,259.4 281.0,260.4 281.2,261.5 281.4,262.4 281.6,263.3 281.8,264.1 282.0,264.8 282.2,265.4 282.4,266.0 282.6,266.5 282.8,267.0 283.0,267.5 283.2,268.0 283.4,268.5 283.6,268.9 283.8,269.3 284.0,269.7 284.2,270.0 284.4,270.2 284.6,270.4 284.8,270.5 285.0,270.5 285.2,270.5 285.4,270.4 285.6,270.3 285.8,270.1 286.0,269.8 286.2,269.6 286.4,269.2 286.6,268.9 286.8,268.6 287.0,268.2 287.2,267.8 287.4,267.5 287.6,267.1 287.8,266.7 288.0,266.3 288.2,265.9 288.4,265.5 288.6,265.0 288.8,264.5 289.0,263.9 289.2,263.4 289.4,262.8 289.6,262.2 289.8,261.6 290.0,261.0 290.2,260.4 290.4,259.7 290.6,259.1 290.8,258.4 291.0,257.7 291.2,257.1 291.4,256.4 291.6,255.7 291.8,255.0 292.0,254.3 292.2,253.7 292.4,253.0 292.6,252.3 292.8,251.7 293.0,251.0 293.2,250.3 293.4,249.6 293.6,248.8 293.8,248.1 294.0,247.3 294.2,246.5 294.4,245.7 294.6,244.9 294.8,244.1 295.0,243.3 295.2,242.5 295.4,241.7 295.6,240.9 295.8,240.1 296.0,239.4 296.2,238.6 296.4,237.8 296.6,237.1 296.8,236.4 297.0,235.7 297.2,235.1 297.4,234.4 297.6,233.8 297.8,233.3 298.0,232.8 298.2,232.3 298.4,231.7 298.6,231.2 298.8,230.7 299.0,230.1 299.2,229.6 299.4,229.1 299.6,228.6 299.8,228.0 300.0,227.6 300.2,227.1 300.4,226.6 300.6,226.2 300.8,225.8 301.0,225.5 301.2,225.1 301.4,224.9 301.6,224.6 301.8,224.4 302.0,224.3 302.2,224.2 302.4,224.2 302.6,224.2 302.8,224.3 303.0,224.5 303.2,224.7 303.4,225.0 303.6,225.3 303.8,225.6 304.0,226.0 304.2,226.5 304.4,226.9 304.6,227.4 304.8,227.9 305.0,228.4 305.2,228.9 305.4,229.4 305.6,229.9 305.8,230.4 306.0,231.1 306.2,231.7 306.4,232.5 306.6,233.3 306.8,234.1 307.0,235.0 307.2,236.0 307.4,236.9 307.6,237.9 307.8,239.0 308.0,240.0 308.2,241.0 308.4,242.1 308.6,243.1 308.8,244.1 309.0,245.1 309.2,246.1 309.4,247.1 309.6,248.0 309.8,248.9 310.0,249.7 310.2,250.5 310.4,251.3 310.6,252.0 310.8,252.8 311.0,253.6 311.2,254.3 311.4,255.1 311.6,255.9 311.8,256.6 312.0,257.4 312.2,258.1 312.4,258.8 312.6,259.5 312.8,260.1 313.0,260.8 313.2,261.4 313.4,262.0 313.6,262.5 313.8,263.0 314.0,263.5 314.2,263.9 314.4,264.3 314.6,264.6 314.8,265.0 315.0,265.3 315.2,265.6 315.4,266.0 315.6,266.3 315.8,266.6 316.0,266.9 316.2,267.2 316.4,267.5 316.6,267.7 316.8,267.9 317.0,268.1 317.2,268.3 317.4,268.4 317.6,268.5 317.8,268.6 318.0,268.6 318.2,268.6 318.4,268.6 318.6,268.5 318.8,268.5 319.0,268.4 319.2,268.3 319.4,268.2 319.6,268.1 319.8,268.0 320.0,267.8 320.2,267.7 320.4,267.6 320.6,267.4 320.8,267.2 321.0,267.1 321.2,266.9 321.4,266.7 321.6,266.5 321.8,266.3 322.0,266.1 322.2,266.0 322.4,265.8 322.6,265.6 322.8,265.4 323.0,265.2 323.2,265.0 323.4,264.8 323.6,264.5 323.8,264.3 324.0,264.0 324.2,263.7 324.4,263.4 324.6,263.1 324.8,262.8 325.0,262.5 325.2,262.2 325.4,261.9 325.6,261.5 325.8,261.2 326.0,260.8 326.2,260.5 326.4,260.1 326.6,259.7 326.8,259.4 327.0,259.0 327.2,258.6 327.4,258.2 327.6,257.9 327.8,257.5 328.0,257.1 328.2,256.7 328.4,256.4 328.6,256.0 328.8,255.7 329.0,255.3 329.2,254.9 329.4,254.6 329.6,254.3 329.8,253.9 330.0,253.6 330.2,253.3 330.4,252.9 330.6,252.6 330.8,252.2 331.0,251.9 331.2,251.5 331.4,251.2 331.6,250.8 331.8,250.4 332.0,250.1 332.2,249.7 332.4,249.3 332.6,249.0 332.8,248.6 333.0,248.3 333.2,248.0 333.4,247.7 333.6,247.3 333.8,247.0 334.0,246.8 334.2,246.5 334.4,246.2 334.6,246.0 334.8,245.8 335.0,245.5 335.2,245.4 335.4,245.2 335.6,245.0 335.8,244.8 336.0,244.6 336.2,244.5 336.4,244.3 336.6,244.1 336.8,244.0 337.0,243.9 337.2,243.8 337.4,243.7 337.6,243.7 337.8,243.6 338.0,243.7 338.2,243.8 338.4,243.9 338.6,244.1 338.8,244.3 339.0,244.5 339.2,244.8 339.4,245.1 339.6,245.5 339.8,245.8 340.0,246.2 340.2,246.6 340.4,246.9 340.6,247.3 340.8,247.6 341.0,248.0 341.2,248.4 341.4,248.9 341.6,249.4 341.8,249.9 342.0,250.5 342.2,251.0 342.4,251.6 342.6,252.2 342.8,252.9 343.0,253.5 343.2,254.1 343.4,254.8 343.6,255.4 343.8,256.0 344.0,256.6 344.2,257.2 344.4,257.8 344.6,258.3 344.8,258.9 345.0,259.4 345.2,259.8 345.4,260.2 345.6,260.6 345.8,261.0 346.0,261.4 346.2,261.8 346.4,262.2 346.6,262.6 346.8,263.0 347.0,263.3 347.2,263.7 347.4,264.0 347.6,264.4 347.8,264.7 348.0,265.0 348.2,265.3 348.4,265.5 348.6,265.8 348.8,266.0 349.0,266.2 349.2,266.4 349.4,266.5 349.6,266.7 349.8,266.8 350.0,267.0 350.2,267.1 350.4,267.2 350.6,267.4 350.8,267.5 351.0,267.6 351.2,267.7 351.4,267.8 351.6,267.9 351.8,268.0 352.0,268.0 352.2,268.1 352.4,268.1 352.6,268.1 352.8,268.1 353.0,268.1 353.2,268.1 353.4,268.1 353.6,268.0 353.8,268.0 354.0,267.9 354.2,267.8 354.4,267.7 354.6,267.6 354.8,267.5 355.0,267.4 355.2,267.3 355.4,267.2 355.6,267.0 355.8,266.9 356.0,266.8 356.2,266.7 356.4,266.5 356.6,266.4 356.8,266.2 357.0,266.1 357.2,266.0 357.4,265.9 357.6,265.7 357.8,265.6 358.0,265.5 358.2,265.4 358.4,265.3 358.6,265.1 358.8,265.0 359.0,264.9 359.2,264.7 359.4,264.6 359.6,264.4 359.8,264.3 360.0,264.1 360.2,264.0 360.4,263.8 360.6,263.7 360.8,263.5 361.0,263.4 361.2,263.2 361.4,263.1 361.6,262.9 361.8,262.8 362.0,262.6 362.2,262.5 362.4,262.4 362.6,262.2 362.8,262.1 363.0,262.0 363.2,261.8 363.4,261.7 363.6,261.6 363.8,261.5 364.0,261.4 364.2,261.3 364.4,261.2 364.6,261.1 364.8,261.0 365.0,261.0 365.2,260.9 365.4,260.8 365.6,260.8 365.8,260.7 366.0,260.6 366.2,260.5 366.4,260.5 366.6,260.4 366.8,260.3 367.0,260.3 367.2,260.2 367.4,260.1 367.6,260.1 367.8,260.0 368.0,260.0 368.2,259.9 368.4,259.8 368.6,259.8 368.8,259.7 369.0,259.7 369.2,259.7 369.4,259.6 369.6,259.6 369.8,259.6 370.0,259.5 370.2,259.5 370.4,259.5 370.6,259.5 370.8,259.5 371.0,259.4 371.2,259.4 371.4,259.4 371.6,259.4 371.8,259.5 372.0,259.5 372.2,259.5 372.4,259.5 372.6,259.5 372.8,259.6 373.0,259.6 373.2,259.6 373.4,259.6 373.6,259.7 373.8,259.7 374.0,259.8 374.2,259.8 374.4,259.9 374.6,259.9 374.8,259.9 375.0,260.0 375.2,260.0 375.4,260.1 375.6,260.2 375.8,260.2 376.0,260.3 376.2,260.3 376.4,260.4 376.6,260.4 376.8,260.5 377.0,260.6 377.2,260.6 377.4,260.7 377.6,260.7 377.8,260.8 378.0,260.9 378.2,260.9 378.4,261.0 378.6,261.0 378.8,261.1 379.0,261.2 379.2,261.2 379.4,261.3 379.6,261.3 379.8,261.4 380.0,261.4 380.2,261.5 380.4,261.6 380.6,261.6 380.8,261.7 381.0,261.7 381.2,261.8 381.4,261.9 381.6,261.9 381.8,262.0 382.0,262.1 382.2,262.2 382.4,262.2 382.6,262.3 382.8,262.4 383.0,262.5 383.2,262.5 383.4,262.6 383.6,262.7 383.8,262.8 384.0,262.8 384.2,262.9 384.4,263.0 384.6,263.1 384.8,263.1 385.0,263.2 385.2,263.3 385.4,263.3 385.6,263.4 385.8,263.5 386.0,263.5 386.2,263.6 386.4,263.7 386.6,263.7 386.8,263.8 387.0,263.9 387.2,263.9 387.4,264.0 387.6,264.0 387.8,264.1 388.0,264.1 388.2,264.1 388.4,264.2 388.6,264.2 388.8,264.2 389.0,264.3 389.2,264.3 389.4,264.3 389.6,264.4 389.8,264.4 390.0,264.4 390.2,264.5 390.4,264.5 390.6,264.5 390.8,264.5 391.0,264.6 391.2,264.6 391.4,264.6 391.6,264.7 391.8,264.7 392.0,264.7 392.2,264.7 392.4,264.8 392.6,264.8 392.8,264.8 393.0,264.8 393.2,264.8 393.4,264.9 393.6,264.9 393.8,264.9 394.0,264.9 394.2,264.9 394.4,265.0 394.6,265.0 394.8,265.0 395.0,265.0 395.2,265.0 395.4,265.0 395.6,265.0 395.8,265.0 396.0,265.0 396.2,265.0 396.4,265.0 396.6,265.1 396.8,265.1 397.0,265.1 397.2,265.0 397.4,265.0 397.6,265.0 397.8,265.0 398.0,265.0 398.2,265.0 398.4,265.0 398.6,265.0 398.8,265.0 399.0,265.0 399.2,265.0 399.4,264.9 399.6,264.9 399.8,264.9 400.0,264.9 400.2,264.9 400.4,264.8 400.6,264.8 400.8,264.8 401.0,264.8 401.2,264.7 401.4,264.7 401.6,264.7 401.8,264.6 402.0,264.6 402.2,264.6 402.4,264.5 402.6,264.5 402.8,264.5 403.0,264.4 403.2,264.4 403.4,264.3 403.6,264.3 403.8,264.2 404.0,264.2 404.2,264.2 404.4,264.1 404.6,264.1 404.8,264.0 405.0,264.0 405.2,263.9 405.4,263.8 405.6,263.8 405.8,263.7 406.0,263.7 406.2,263.6 406.4,263.6 406.6,263.5 406.8,263.4" fill="none" stroke="#000" stroke-width="1.20" stroke-linejoin="round"/>
<g fill="#ffffff" stroke="#000" stroke-width="1.10"><circle cx="254.0" cy="275.0" r="1.70"/><circle cx="254.6" cy="275.2" r="1.70"/><circle cx="255.1" cy="275.2" r="1.70"/><circle cx="255.7" cy="274.8" r="1.70"/><circle cx="256.2" cy="274.8" r="1.70"/><circle cx="256.8" cy="274.9" r="1.70"/><circle cx="257.4" cy="274.6" r="1.70"/><circle cx="257.9" cy="274.5" r="1.70"/><circle cx="258.5" cy="274.4" r="1.70"/><circle cx="259.0" cy="274.2" r="1.70"/><circle cx="259.6" cy="274.3" r="1.70"/><circle cx="260.2" cy="274.2" r="1.70"/><circle cx="260.7" cy="273.8" r="1.70"/><circle cx="261.3" cy="273.9" r="1.70"/><circle cx="261.8" cy="273.8" r="1.70"/><circle cx="262.4" cy="273.5" r="1.70"/><circle cx="263.0" cy="273.3" r="1.70"/><circle cx="263.5" cy="272.7" r="1.70"/><circle cx="264.1" cy="272.7" r="1.70"/><circle cx="264.6" cy="271.9" r="1.70"/><circle cx="265.2" cy="271.8" r="1.70"/><circle cx="265.8" cy="271.0" r="1.70"/><circle cx="266.3" cy="270.4" r="1.70"/><circle cx="266.9" cy="269.7" r="1.70"/><circle cx="267.4" cy="269.0" r="1.70"/><circle cx="268.0" cy="267.9" r="1.70"/><circle cx="268.6" cy="266.5" r="1.70"/><circle cx="269.1" cy="264.9" r="1.70"/><circle cx="269.7" cy="263.2" r="1.70"/><circle cx="270.2" cy="261.1" r="1.70"/><circle cx="270.8" cy="257.7" r="1.70"/><circle cx="271.4" cy="253.9" r="1.70"/><circle cx="271.9" cy="248.9" r="1.70"/><circle cx="272.5" cy="244.0" r="1.70"/><circle cx="273.0" cy="238.9" r="1.70"/><circle cx="273.6" cy="232.5" r="1.70"/><circle cx="274.2" cy="225.3" r="1.70"/><circle cx="274.7" cy="219.6" r="1.70"/><circle cx="275.3" cy="216.6" r="1.70"/><circle cx="275.8" cy="214.1" r="1.70"/><circle cx="276.4" cy="213.9" r="1.70"/><circle cx="277.0" cy="217.5" r="1.70"/><circle cx="277.5" cy="223.0" r="1.70"/><circle cx="278.1" cy="227.3" r="1.70"/><circle cx="278.6" cy="231.4" r="1.70"/><circle cx="279.2" cy="235.1" r="1.70"/><circle cx="279.8" cy="239.2" r="1.70"/><circle cx="280.3" cy="243.1" r="1.70"/><circle cx="280.9" cy="246.7" r="1.70"/><circle cx="281.2" cy="248.9" r="1.70"/><circle cx="282.2" cy="252.0" r="1.70"/><circle cx="283.2" cy="254.0" r="1.70"/><circle cx="284.2" cy="255.3" r="1.70"/><circle cx="285.2" cy="256.4" r="1.70"/><circle cx="286.2" cy="256.3" r="1.70"/><circle cx="287.2" cy="255.6" r="1.70"/><circle cx="288.2" cy="254.1" r="1.70"/><circle cx="289.2" cy="252.8" r="1.70"/><circle cx="290.2" cy="251.2" r="1.70"/><circle cx="291.2" cy="249.2" r="1.70"/><circle cx="292.2" cy="247.0" r="1.70"/><circle cx="293.2" cy="244.8" r="1.70"/><circle cx="294.2" cy="242.1" r="1.70"/><circle cx="295.2" cy="239.0" r="1.70"/><circle cx="296.2" cy="235.8" r="1.70"/><circle cx="297.2" cy="232.9" r="1.70"/><circle cx="298.2" cy="230.7" r="1.70"/><circle cx="299.2" cy="228.4" r="1.70"/><circle cx="300.2" cy="226.7" r="1.70"/><circle cx="301.2" cy="225.3" r="1.70"/><circle cx="302.2" cy="224.3" r="1.70"/><circle cx="303.2" cy="224.6" r="1.70"/><circle cx="304.2" cy="226.2" r="1.70"/><circle cx="305.2" cy="228.2" r="1.70"/><circle cx="306.2" cy="230.4" r="1.70"/><circle cx="307.2" cy="233.8" r="1.70"/><circle cx="308.2" cy="238.2" r="1.70"/><circle cx="309.2" cy="242.9" r="1.70"/><circle cx="310.2" cy="247.6" r="1.70"/><circle cx="311.2" cy="251.4" r="1.70"/><circle cx="312.2" cy="254.8" r="1.70"/><circle cx="313.2" cy="258.3" r="1.70"/><circle cx="314.2" cy="261.2" r="1.70"/><circle cx="315.2" cy="263.2" r="1.70"/><circle cx="316.2" cy="265.1" r="1.70"/><circle cx="317.2" cy="266.6" r="1.70"/><circle cx="318.2" cy="267.1" r="1.70"/><circle cx="319.2" cy="267.3" r="1.70"/><circle cx="320.2" cy="266.8" r="1.70"/><circle cx="321.2" cy="266.5" r="1.70"/><circle cx="322.2" cy="265.5" r="1.70"/><circle cx="323.2" cy="264.4" r="1.70"/><circle cx="324.2" cy="263.3" r="1.70"/><circle cx="325.2" cy="262.1" r="1.70"/><circle cx="326.2" cy="260.4" r="1.70"/><circle cx="327.2" cy="258.5" r="1.70"/><circle cx="328.2" cy="256.6" r="1.70"/><circle cx="329.2" cy="254.7" r="1.70"/><circle cx="330.2" cy="253.2" r="1.70"/><circle cx="331.2" cy="251.5" r="1.70"/><circle cx="332.2" cy="249.7" r="1.70"/><circle cx="333.2" cy="248.3" r="1.70"/><circle cx="334.2" cy="246.3" r="1.70"/><circle cx="335.2" cy="245.3" r="1.70"/><circle cx="336.2" cy="244.4" r="1.70"/><circle cx="337.2" cy="243.5" r="1.70"/><circle cx="338.2" cy="243.3" r="1.70"/><circle cx="339.2" cy="243.5" r="1.70"/><circle cx="340.2" cy="245.1" r="1.70"/><circle cx="341.2" cy="247.1" r="1.70"/><circle cx="342.2" cy="249.4" r="1.70"/><circle cx="343.2" cy="252.3" r="1.70"/><circle cx="344.2" cy="255.3" r="1.70"/><circle cx="345.2" cy="258.4" r="1.70"/><circle cx="346.2" cy="260.1" r="1.70"/><circle cx="347.2" cy="262.1" r="1.70"/><circle cx="348.2" cy="264.0" r="1.70"/><circle cx="349.2" cy="265.3" r="1.70"/><circle cx="350.2" cy="266.0" r="1.70"/><circle cx="351.2" cy="266.5" r="1.70"/><circle cx="352.2" cy="267.1" r="1.70"/><circle cx="353.2" cy="267.3" r="1.70"/><circle cx="354.2" cy="267.1" r="1.70"/><circle cx="355.2" cy="266.8" r="1.70"/><circle cx="356.2" cy="266.5" r="1.70"/><circle cx="357.2" cy="265.8" r="1.70"/><circle cx="358.2" cy="265.1" r="1.70"/><circle cx="359.2" cy="264.4" r="1.70"/><circle cx="360.2" cy="263.7" r="1.70"/><circle cx="361.2" cy="263.3" r="1.70"/><circle cx="362.2" cy="262.2" r="1.70"/><circle cx="363.2" cy="261.9" r="1.70"/><circle cx="364.2" cy="261.1" r="1.70"/><circle cx="365.2" cy="260.7" r="1.70"/><circle cx="366.2" cy="260.3" r="1.70"/><circle cx="367.2" cy="260.3" r="1.70"/><circle cx="368.2" cy="259.8" r="1.70"/><circle cx="369.2" cy="260.0" r="1.70"/><circle cx="370.2" cy="259.2" r="1.70"/><circle cx="371.2" cy="259.2" r="1.70"/><circle cx="372.2" cy="259.5" r="1.70"/><circle cx="373.2" cy="259.6" r="1.70"/><circle cx="374.2" cy="259.6" r="1.70"/><circle cx="375.2" cy="259.6" r="1.70"/><circle cx="376.2" cy="260.4" r="1.70"/><circle cx="377.2" cy="260.5" r="1.70"/><circle cx="378.2" cy="260.8" r="1.70"/><circle cx="379.2" cy="260.9" r="1.70"/><circle cx="380.2" cy="261.4" r="1.70"/><circle cx="381.2" cy="261.5" r="1.70"/><circle cx="382.2" cy="261.9" r="1.70"/><circle cx="383.2" cy="262.3" r="1.70"/><circle cx="384.2" cy="262.9" r="1.70"/><circle cx="385.2" cy="263.0" r="1.70"/><circle cx="386.2" cy="263.3" r="1.70"/><circle cx="387.2" cy="263.9" r="1.70"/><circle cx="388.2" cy="264.0" r="1.70"/><circle cx="389.2" cy="264.1" r="1.70"/><circle cx="390.2" cy="264.2" r="1.70"/><circle cx="391.2" cy="264.5" r="1.70"/><circle cx="392.2" cy="264.3" r="1.70"/><circle cx="393.2" cy="264.6" r="1.70"/><circle cx="394.2" cy="264.9" r="1.70"/><circle cx="395.2" cy="264.7" r="1.70"/><circle cx="396.2" cy="264.6" r="1.70"/><circle cx="397.2" cy="264.5" r="1.70"/><circle cx="398.2" cy="264.7" r="1.70"/><circle cx="399.2" cy="264.4" r="1.70"/><circle cx="400.2" cy="264.3" r="1.70"/><circle cx="401.2" cy="264.2" r="1.70"/><circle cx="402.2" cy="264.0" r="1.70"/><circle cx="403.2" cy="264.1" r="1.70"/><circle cx="404.2" cy="263.6" r="1.70"/><circle cx="405.2" cy="263.8" r="1.70"/><circle cx="406.2" cy="263.2" r="1.70"/></g>
<line x1="41.5" y1="2" x2="41.5" y2="275.5" stroke="#000" stroke-width="1.3"/>
<line x1="40.9" y1="274.9" x2="195.9" y2="274.9" stroke="#000" stroke-width="1.05"/>
<line x1="36.7" y1="7.3" x2="41.5" y2="7.3" stroke="#000" stroke-width="1.2"/>
<line x1="38.7" y1="25.7" x2="41.5" y2="25.7" stroke="#000" stroke-width="0.9"/>
<line x1="38.7" y1="21.1" x2="41.5" y2="21.1" stroke="#000" stroke-width="0.9"/>
<line x1="38.7" y1="17.8" x2="41.5" y2="17.8" stroke="#000" stroke-width="0.9"/>
<line x1="38.7" y1="15.3" x2="41.5" y2="15.3" stroke="#000" stroke-width="0.9"/>
<line x1="38.7" y1="13.2" x2="41.5" y2="13.2" stroke="#000" stroke-width="0.9"/>
<line x1="38.7" y1="11.4" x2="41.5" y2="11.4" stroke="#000" stroke-width="0.9"/>
<line x1="38.7" y1="9.9" x2="41.5" y2="9.9" stroke="#000" stroke-width="0.9"/>
<line x1="38.7" y1="8.6" x2="41.5" y2="8.6" stroke="#000" stroke-width="0.9"/>
<text x="30.5" y="11.8" text-anchor="end" font-size="10.6" font-family="Liberation Sans, sans-serif" >10</text>
<text x="31.9" y="5.1" font-size="6.3" font-family="Liberation Sans, sans-serif" >6</text>
<line x1="36.7" y1="33.6" x2="41.5" y2="33.6" stroke="#000" stroke-width="1.2"/>
<line x1="38.7" y1="52.0" x2="41.5" y2="52.0" stroke="#000" stroke-width="0.9"/>
<line x1="38.7" y1="47.4" x2="41.5" y2="47.4" stroke="#000" stroke-width="0.9"/>
<line x1="38.7" y1="44.1" x2="41.5" y2="44.1" stroke="#000" stroke-width="0.9"/>
<line x1="38.7" y1="41.6" x2="41.5" y2="41.6" stroke="#000" stroke-width="0.9"/>
<line x1="38.7" y1="39.5" x2="41.5" y2="39.5" stroke="#000" stroke-width="0.9"/>
<line x1="38.7" y1="37.7" x2="41.5" y2="37.7" stroke="#000" stroke-width="0.9"/>
<line x1="38.7" y1="36.2" x2="41.5" y2="36.2" stroke="#000" stroke-width="0.9"/>
<line x1="38.7" y1="34.9" x2="41.5" y2="34.9" stroke="#000" stroke-width="0.9"/>
<text x="30.5" y="38.0" text-anchor="end" font-size="10.6" font-family="Liberation Sans, sans-serif" >10</text>
<text x="31.9" y="31.4" font-size="6.3" font-family="Liberation Sans, sans-serif" >5</text>
<line x1="36.7" y1="60.0" x2="41.5" y2="60.0" stroke="#000" stroke-width="1.2"/>
<line x1="38.7" y1="78.3" x2="41.5" y2="78.3" stroke="#000" stroke-width="0.9"/>
<line x1="38.7" y1="73.7" x2="41.5" y2="73.7" stroke="#000" stroke-width="0.9"/>
<line x1="38.7" y1="70.4" x2="41.5" y2="70.4" stroke="#000" stroke-width="0.9"/>
<line x1="38.7" y1="67.9" x2="41.5" y2="67.9" stroke="#000" stroke-width="0.9"/>
<line x1="38.7" y1="65.8" x2="41.5" y2="65.8" stroke="#000" stroke-width="0.9"/>
<line x1="38.7" y1="64.0" x2="41.5" y2="64.0" stroke="#000" stroke-width="0.9"/>
<line x1="38.7" y1="62.5" x2="41.5" y2="62.5" stroke="#000" stroke-width="0.9"/>
<line x1="38.7" y1="61.2" x2="41.5" y2="61.2" stroke="#000" stroke-width="0.9"/>
<text x="30.5" y="64.4" text-anchor="end" font-size="10.6" font-family="Liberation Sans, sans-serif" >10</text>
<text x="31.9" y="57.8" font-size="6.3" font-family="Liberation Sans, sans-serif" >4</text>
<line x1="36.7" y1="86.2" x2="41.5" y2="86.2" stroke="#000" stroke-width="1.2"/>
<line x1="38.7" y1="104.6" x2="41.5" y2="104.6" stroke="#000" stroke-width="0.9"/>
<line x1="38.7" y1="100.0" x2="41.5" y2="100.0" stroke="#000" stroke-width="0.9"/>
<line x1="38.7" y1="96.7" x2="41.5" y2="96.7" stroke="#000" stroke-width="0.9"/>
<line x1="38.7" y1="94.2" x2="41.5" y2="94.2" stroke="#000" stroke-width="0.9"/>
<line x1="38.7" y1="92.1" x2="41.5" y2="92.1" stroke="#000" stroke-width="0.9"/>
<line x1="38.7" y1="90.3" x2="41.5" y2="90.3" stroke="#000" stroke-width="0.9"/>
<line x1="38.7" y1="88.8" x2="41.5" y2="88.8" stroke="#000" stroke-width="0.9"/>
<line x1="38.7" y1="87.5" x2="41.5" y2="87.5" stroke="#000" stroke-width="0.9"/>
<text x="30.5" y="90.7" text-anchor="end" font-size="10.6" font-family="Liberation Sans, sans-serif" >10</text>
<text x="31.9" y="84.0" font-size="6.3" font-family="Liberation Sans, sans-serif" >3</text>
<line x1="36.7" y1="112.5" x2="41.5" y2="112.5" stroke="#000" stroke-width="1.2"/>
<line x1="38.7" y1="130.9" x2="41.5" y2="130.9" stroke="#000" stroke-width="0.9"/>
<line x1="38.7" y1="126.3" x2="41.5" y2="126.3" stroke="#000" stroke-width="0.9"/>
<line x1="38.7" y1="123.0" x2="41.5" y2="123.0" stroke="#000" stroke-width="0.9"/>
<line x1="38.7" y1="120.5" x2="41.5" y2="120.5" stroke="#000" stroke-width="0.9"/>
<line x1="38.7" y1="118.4" x2="41.5" y2="118.4" stroke="#000" stroke-width="0.9"/>
<line x1="38.7" y1="116.6" x2="41.5" y2="116.6" stroke="#000" stroke-width="0.9"/>
<line x1="38.7" y1="115.1" x2="41.5" y2="115.1" stroke="#000" stroke-width="0.9"/>
<line x1="38.7" y1="113.8" x2="41.5" y2="113.8" stroke="#000" stroke-width="0.9"/>
<text x="30.5" y="117.0" text-anchor="end" font-size="10.6" font-family="Liberation Sans, sans-serif" >10</text>
<text x="31.9" y="110.3" font-size="6.3" font-family="Liberation Sans, sans-serif" >2</text>
<line x1="36.7" y1="138.8" x2="41.5" y2="138.8" stroke="#000" stroke-width="1.2"/>
<line x1="38.7" y1="157.2" x2="41.5" y2="157.2" stroke="#000" stroke-width="0.9"/>
<line x1="38.7" y1="152.6" x2="41.5" y2="152.6" stroke="#000" stroke-width="0.9"/>
<line x1="38.7" y1="149.3" x2="41.5" y2="149.3" stroke="#000" stroke-width="0.9"/>
<line x1="38.7" y1="146.8" x2="41.5" y2="146.8" stroke="#000" stroke-width="0.9"/>
<line x1="38.7" y1="144.7" x2="41.5" y2="144.7" stroke="#000" stroke-width="0.9"/>
<line x1="38.7" y1="142.9" x2="41.5" y2="142.9" stroke="#000" stroke-width="0.9"/>
<line x1="38.7" y1="141.4" x2="41.5" y2="141.4" stroke="#000" stroke-width="0.9"/>
<line x1="38.7" y1="140.1" x2="41.5" y2="140.1" stroke="#000" stroke-width="0.9"/>
<text x="30.5" y="143.2" text-anchor="end" font-size="10.6" font-family="Liberation Sans, sans-serif" >10</text>
<text x="31.9" y="136.7" font-size="6.3" font-family="Liberation Sans, sans-serif" >1</text>
<line x1="36.7" y1="165.2" x2="41.5" y2="165.2" stroke="#000" stroke-width="1.2"/>
<line x1="38.7" y1="183.5" x2="41.5" y2="183.5" stroke="#000" stroke-width="0.9"/>
<line x1="38.7" y1="178.9" x2="41.5" y2="178.9" stroke="#000" stroke-width="0.9"/>
<line x1="38.7" y1="175.6" x2="41.5" y2="175.6" stroke="#000" stroke-width="0.9"/>
<line x1="38.7" y1="173.1" x2="41.5" y2="173.1" stroke="#000" stroke-width="0.9"/>
<line x1="38.7" y1="171.0" x2="41.5" y2="171.0" stroke="#000" stroke-width="0.9"/>
<line x1="38.7" y1="169.2" x2="41.5" y2="169.2" stroke="#000" stroke-width="0.9"/>
<line x1="38.7" y1="167.7" x2="41.5" y2="167.7" stroke="#000" stroke-width="0.9"/>
<line x1="38.7" y1="166.4" x2="41.5" y2="166.4" stroke="#000" stroke-width="0.9"/>
<text x="30.5" y="169.6" text-anchor="end" font-size="10.6" font-family="Liberation Sans, sans-serif" >10</text>
<text x="31.9" y="163.0" font-size="6.3" font-family="Liberation Sans, sans-serif" >0</text>
<line x1="36.7" y1="191.4" x2="41.5" y2="191.4" stroke="#000" stroke-width="1.2"/>
<line x1="38.7" y1="209.8" x2="41.5" y2="209.8" stroke="#000" stroke-width="0.9"/>
<line x1="38.7" y1="205.2" x2="41.5" y2="205.2" stroke="#000" stroke-width="0.9"/>
<line x1="38.7" y1="201.9" x2="41.5" y2="201.9" stroke="#000" stroke-width="0.9"/>
<line x1="38.7" y1="199.4" x2="41.5" y2="199.4" stroke="#000" stroke-width="0.9"/>
<line x1="38.7" y1="197.3" x2="41.5" y2="197.3" stroke="#000" stroke-width="0.9"/>
<line x1="38.7" y1="195.5" x2="41.5" y2="195.5" stroke="#000" stroke-width="0.9"/>
<line x1="38.7" y1="194.0" x2="41.5" y2="194.0" stroke="#000" stroke-width="0.9"/>
<line x1="38.7" y1="192.7" x2="41.5" y2="192.7" stroke="#000" stroke-width="0.9"/>
<text x="28.0" y="195.8" text-anchor="end" font-size="10.6" font-family="Liberation Sans, sans-serif" >10</text>
<text x="29.4" y="189.0" font-size="6.3" fill="#bbb" stroke="none" style="stroke:none" font-family="Liberation Sans, sans-serif">-</text>
<text x="31.4" y="189.2" font-size="6.3" font-family="Liberation Sans, sans-serif" >1</text>
<line x1="36.7" y1="217.8" x2="41.5" y2="217.8" stroke="#000" stroke-width="1.2"/>
<line x1="38.7" y1="236.1" x2="41.5" y2="236.1" stroke="#000" stroke-width="0.9"/>
<line x1="38.7" y1="231.5" x2="41.5" y2="231.5" stroke="#000" stroke-width="0.9"/>
<line x1="38.7" y1="228.2" x2="41.5" y2="228.2" stroke="#000" stroke-width="0.9"/>
<line x1="38.7" y1="225.7" x2="41.5" y2="225.7" stroke="#000" stroke-width="0.9"/>
<line x1="38.7" y1="223.6" x2="41.5" y2="223.6" stroke="#000" stroke-width="0.9"/>
<line x1="38.7" y1="221.8" x2="41.5" y2="221.8" stroke="#000" stroke-width="0.9"/>
<line x1="38.7" y1="220.3" x2="41.5" y2="220.3" stroke="#000" stroke-width="0.9"/>
<line x1="38.7" y1="219.0" x2="41.5" y2="219.0" stroke="#000" stroke-width="0.9"/>
<text x="28.0" y="222.2" text-anchor="end" font-size="10.6" font-family="Liberation Sans, sans-serif" >10</text>
<text x="29.4" y="215.3" font-size="6.3" fill="#bbb" stroke="none" style="stroke:none" font-family="Liberation Sans, sans-serif">-</text>
<text x="31.4" y="215.6" font-size="6.3" font-family="Liberation Sans, sans-serif" >2</text>
<line x1="36.7" y1="244.1" x2="41.5" y2="244.1" stroke="#000" stroke-width="1.2"/>
<line x1="38.7" y1="262.4" x2="41.5" y2="262.4" stroke="#000" stroke-width="0.9"/>
<line x1="38.7" y1="257.8" x2="41.5" y2="257.8" stroke="#000" stroke-width="0.9"/>
<line x1="38.7" y1="254.5" x2="41.5" y2="254.5" stroke="#000" stroke-width="0.9"/>
<line x1="38.7" y1="252.0" x2="41.5" y2="252.0" stroke="#000" stroke-width="0.9"/>
<line x1="38.7" y1="249.9" x2="41.5" y2="249.9" stroke="#000" stroke-width="0.9"/>
<line x1="38.7" y1="248.1" x2="41.5" y2="248.1" stroke="#000" stroke-width="0.9"/>
<line x1="38.7" y1="246.6" x2="41.5" y2="246.6" stroke="#000" stroke-width="0.9"/>
<line x1="38.7" y1="245.3" x2="41.5" y2="245.3" stroke="#000" stroke-width="0.9"/>
<text x="28.0" y="248.5" text-anchor="end" font-size="10.6" font-family="Liberation Sans, sans-serif" >10</text>
<text x="29.4" y="241.7" font-size="6.3" fill="#bbb" stroke="none" style="stroke:none" font-family="Liberation Sans, sans-serif">-</text>
<text x="31.4" y="241.9" font-size="6.3" font-family="Liberation Sans, sans-serif" >3</text>
<line x1="36.7" y1="270.4" x2="41.5" y2="270.4" stroke="#000" stroke-width="1.2"/>
<line x1="38.7" y1="274.4" x2="41.5" y2="274.4" stroke="#000" stroke-width="0.9"/>
<line x1="38.7" y1="272.9" x2="41.5" y2="272.9" stroke="#000" stroke-width="0.9"/>
<line x1="38.7" y1="271.6" x2="41.5" y2="271.6" stroke="#000" stroke-width="0.9"/>
<text x="28.0" y="274.8" text-anchor="end" font-size="10.6" font-family="Liberation Sans, sans-serif" >10</text>
<text x="29.4" y="268.0" font-size="6.3" fill="#bbb" stroke="none" style="stroke:none" font-family="Liberation Sans, sans-serif">-</text>
<text x="31.4" y="268.2" font-size="6.3" font-family="Liberation Sans, sans-serif" >4</text>
<line x1="46.0" y1="274.9" x2="46.0" y2="277.3" stroke="#000" stroke-width="1.1"/>
<line x1="62.6" y1="274.9" x2="62.6" y2="279.2" stroke="#000" stroke-width="1.1"/>
<text x="62.6" y="291.7" text-anchor="middle" font-size="10.8" font-family="Liberation Sans, sans-serif">0.4</text>
<line x1="79.2" y1="274.9" x2="79.2" y2="277.3" stroke="#000" stroke-width="1.1"/>
<line x1="95.8" y1="274.9" x2="95.8" y2="279.2" stroke="#000" stroke-width="1.1"/>
<text x="95.8" y="291.7" text-anchor="middle" font-size="10.8" font-family="Liberation Sans, sans-serif">0.8</text>
<line x1="112.4" y1="274.9" x2="112.4" y2="277.3" stroke="#000" stroke-width="1.1"/>
<line x1="129.0" y1="274.9" x2="129.0" y2="279.2" stroke="#000" stroke-width="1.1"/>
<text x="129.0" y="291.7" text-anchor="middle" font-size="10.8" font-family="Liberation Sans, sans-serif">1.2</text>
<line x1="145.6" y1="274.9" x2="145.6" y2="277.3" stroke="#000" stroke-width="1.1"/>
<line x1="162.2" y1="274.9" x2="162.2" y2="279.2" stroke="#000" stroke-width="1.1"/>
<text x="162.2" y="291.7" text-anchor="middle" font-size="10.8" font-family="Liberation Sans, sans-serif">1.6</text>
<line x1="178.8" y1="274.9" x2="178.8" y2="277.3" stroke="#000" stroke-width="1.1"/>
<line x1="195.4" y1="274.9" x2="195.4" y2="279.2" stroke="#000" stroke-width="1.1"/>
<text x="195.4" y="291.7" text-anchor="middle" font-size="10.8" font-family="Liberation Sans, sans-serif">2.0</text>
<line x1="252.5" y1="2" x2="252.5" y2="276.6" stroke="#000" stroke-width="0.85"/>
<line x1="252.0" y1="276.1" x2="407.2" y2="276.1" stroke="#000" stroke-width="0.85"/>
<line x1="247.9" y1="67.8" x2="252.5" y2="67.8" stroke="#000" stroke-width="1.0"/>
<text x="245.2" y="71.7" text-anchor="end" font-size="10.8" font-family="Liberation Sans, sans-serif">0</text>
<line x1="250.0" y1="58.4" x2="252.5" y2="58.4" stroke="#000" stroke-width="1.0"/>
<line x1="247.9" y1="49.0" x2="252.5" y2="49.0" stroke="#000" stroke-width="1.0"/>
<text x="245.2" y="52.9" text-anchor="end" font-size="10.8" font-family="Liberation Sans, sans-serif">2</text>
<line x1="250.0" y1="39.6" x2="252.5" y2="39.6" stroke="#000" stroke-width="1.0"/>
<line x1="247.9" y1="30.2" x2="252.5" y2="30.2" stroke="#000" stroke-width="1.0"/>
<text x="245.2" y="34.1" text-anchor="end" font-size="10.8" font-family="Liberation Sans, sans-serif">4</text>
<line x1="250.0" y1="20.8" x2="252.5" y2="20.8" stroke="#000" stroke-width="1.0"/>
<line x1="247.9" y1="11.4" x2="252.5" y2="11.4" stroke="#000" stroke-width="1.0"/>
<text x="245.2" y="15.3" text-anchor="end" font-size="10.8" font-family="Liberation Sans, sans-serif">6</text>
<line x1="247.9" y1="137.1" x2="252.5" y2="137.1" stroke="#000" stroke-width="1.0"/>
<text x="245.2" y="141.0" text-anchor="end" font-size="10.8" font-family="Liberation Sans, sans-serif">0</text>
<line x1="250.0" y1="126.1" x2="252.5" y2="126.1" stroke="#000" stroke-width="1.0"/>
<line x1="247.9" y1="115.1" x2="252.5" y2="115.1" stroke="#000" stroke-width="1.0"/>
<text x="245.2" y="119.0" text-anchor="end" font-size="10.8" font-family="Liberation Sans, sans-serif">2</text>
<line x1="250.0" y1="104.1" x2="252.5" y2="104.1" stroke="#000" stroke-width="1.0"/>
<line x1="247.9" y1="93.1" x2="252.5" y2="93.1" stroke="#000" stroke-width="1.0"/>
<text x="245.2" y="97.0" text-anchor="end" font-size="10.8" font-family="Liberation Sans, sans-serif">4</text>
<line x1="250.0" y1="82.1" x2="252.5" y2="82.1" stroke="#000" stroke-width="1.0"/>
<line x1="247.9" y1="209.4" x2="252.5" y2="209.4" stroke="#000" stroke-width="1.0"/>
<text x="245.2" y="213.3" text-anchor="end" font-size="10.8" font-family="Liberation Sans, sans-serif">0</text>
<line x1="250.0" y1="198.0" x2="252.5" y2="198.0" stroke="#000" stroke-width="1.0"/>
<line x1="247.9" y1="186.6" x2="252.5" y2="186.6" stroke="#000" stroke-width="1.0"/>
<text x="245.2" y="190.5" text-anchor="end" font-size="10.8" font-family="Liberation Sans, sans-serif">2</text>
<line x1="250.0" y1="175.2" x2="252.5" y2="175.2" stroke="#000" stroke-width="1.0"/>
<line x1="247.9" y1="163.8" x2="252.5" y2="163.8" stroke="#000" stroke-width="1.0"/>
<text x="245.2" y="167.7" text-anchor="end" font-size="10.8" font-family="Liberation Sans, sans-serif">4</text>
<line x1="250.0" y1="152.4" x2="252.5" y2="152.4" stroke="#000" stroke-width="1.0"/>
<text x="245.2" y="279.6" text-anchor="end" font-size="10.8" font-family="Liberation Sans, sans-serif">0</text>
<line x1="247.9" y1="275.7" x2="252.5" y2="275.7" stroke="#000" stroke-width="1.0"/>
<line x1="250.0" y1="264.2" x2="252.5" y2="264.2" stroke="#000" stroke-width="1.0"/>
<line x1="247.9" y1="252.8" x2="252.5" y2="252.8" stroke="#000" stroke-width="1.0"/>
<text x="245.2" y="256.7" text-anchor="end" font-size="10.8" font-family="Liberation Sans, sans-serif">2</text>
<line x1="250.0" y1="241.3" x2="252.5" y2="241.3" stroke="#000" stroke-width="1.0"/>
<line x1="247.9" y1="229.9" x2="252.5" y2="229.9" stroke="#000" stroke-width="1.0"/>
<text x="245.2" y="233.8" text-anchor="end" font-size="10.8" font-family="Liberation Sans, sans-serif">4</text>
<line x1="250.0" y1="218.4" x2="252.5" y2="218.4" stroke="#000" stroke-width="1.0"/>
<line x1="266.8" y1="276.1" x2="266.8" y2="278.5" stroke="#000" stroke-width="1.1"/>
<line x1="286.8" y1="276.1" x2="286.8" y2="280.4" stroke="#000" stroke-width="1.1"/>
<text x="287.0" y="290.9" text-anchor="middle" font-size="10.8" font-family="Liberation Sans, sans-serif">0.4</text>
<line x1="306.8" y1="276.1" x2="306.8" y2="278.5" stroke="#000" stroke-width="1.1"/>
<line x1="326.8" y1="276.1" x2="326.8" y2="280.4" stroke="#000" stroke-width="1.1"/>
<text x="327.0" y="290.9" text-anchor="middle" font-size="10.8" font-family="Liberation Sans, sans-serif">0.6</text>
<line x1="346.8" y1="276.1" x2="346.8" y2="278.5" stroke="#000" stroke-width="1.1"/>
<line x1="366.8" y1="276.1" x2="366.8" y2="280.4" stroke="#000" stroke-width="1.1"/>
<text x="367.0" y="290.9" text-anchor="middle" font-size="10.8" font-family="Liberation Sans, sans-serif">0.8</text>
<line x1="386.8" y1="276.1" x2="386.8" y2="278.5" stroke="#000" stroke-width="1.1"/>
<line x1="406.8" y1="276.1" x2="406.8" y2="280.4" stroke="#000" stroke-width="1.1"/>
<text x="407.0" y="290.9" text-anchor="middle" font-size="10.8" font-family="Liberation Sans, sans-serif">1.0</text>
<text transform="translate(12.2,165.8) rotate(-90)" font-size="15" textLength="72" lengthAdjust="spacingAndGlyphs" font-family="Liberation Sans, sans-serif">Reflectivity</text>
<text transform="translate(228.2,165.2) rotate(-90)" font-size="15" textLength="113" lengthAdjust="spacingAndGlyphs" font-family="Liberation Sans, sans-serif">Fe Fluorescence</text>
<text x="86.2" y="308.6" font-size="14.5" font-family="Liberation Sans, sans-serif">q</text>
<text x="104.6" y="308.6" font-size="14.4" font-family="Liberation Sans, sans-serif">(nm</text>
<text x="131.8" y="303.0" font-size="10.5" fill="#888" style="stroke:none" font-family="Liberation Sans, sans-serif">-</text>
<text x="134.6" y="303.4" font-size="10.5" font-family="Liberation Sans, sans-serif">1</text>
<text x="140.8" y="308.6" font-size="15.2" font-family="Liberation Sans, sans-serif">)</text>
<text x="297.4" y="309.0" font-size="14.5" font-family="Liberation Sans, sans-serif">q</text>
<text x="316.2" y="309.0" font-size="15.2" font-family="Liberation Sans, sans-serif">(nm</text>
<text x="343.0" y="303.4" font-size="10.5" fill="#888" style="stroke:none" font-family="Liberation Sans, sans-serif">-</text>
<text x="345.8" y="303.8" font-size="10.5" font-family="Liberation Sans, sans-serif">1</text>
<text x="352.0" y="309.0" font-size="15.2" font-family="Liberation Sans, sans-serif">)</text>
<line x1="110" y1="8.2" x2="133.2" y2="8.2" stroke="#000" stroke-width="1"/>
<circle cx="121.7" cy="8.2" r="2.8" fill="#fff" stroke="#000" stroke-width="1.1"/>
<text x="135.8" y="11.8" font-size="10" font-family="Liberation Sans, sans-serif">Experimental</text>
<line x1="110" y1="19.9" x2="133.2" y2="19.9" stroke="#000" stroke-width="1"/>
<text x="135.8" y="23.4" font-size="10" font-family="Liberation Sans, sans-serif">Fitted</text>
<text x="178.4" y="39.8" font-size="12.4" font-family="Liberation Sans, sans-serif">(a)</text>
<text x="178.6" y="71.6" font-size="12" font-family="Liberation Sans, sans-serif">573 K</text>
<text x="178.6" y="131.4" font-size="12" font-family="Liberation Sans, sans-serif">473 K</text>
<text x="179.2" y="183.5" font-size="12" font-family="Liberation Sans, sans-serif">383 K</text>
<text x="177.6" y="233.2" font-size="12" font-family="Liberation Sans, sans-serif">Pristine</text>
<line x1="327.3" y1="9.6" x2="348" y2="9.6" stroke="#000" stroke-width="1"/>
<circle cx="337" cy="9.6" r="2.8" fill="#fff" stroke="#000" stroke-width="1.1"/>
<text x="350" y="12.9" font-size="9.3" font-family="Liberation Sans, sans-serif">Experimental</text>
<line x1="327.3" y1="20.6" x2="345.5" y2="20.6" stroke="#666" stroke-width="1.2"/>
<text x="350" y="23.8" font-size="9.3" font-family="Liberation Sans, sans-serif">Fitted</text>
<text x="382.4" y="35.6" font-size="12.4" font-family="Liberation Sans, sans-serif">(b)</text>
<text x="383.4" y="53.7" font-size="12" font-family="Liberation Sans, sans-serif">573 K</text>
<text x="383.4" y="118.3" font-size="12" font-family="Liberation Sans, sans-serif">473 K</text>
<text x="383.4" y="190.7" font-size="12" font-family="Liberation Sans, sans-serif">383 K</text>
<text x="382.4" y="255.6" font-size="12" font-family="Liberation Sans, sans-serif">Pristine</text>
</g></svg>
</body></html>
